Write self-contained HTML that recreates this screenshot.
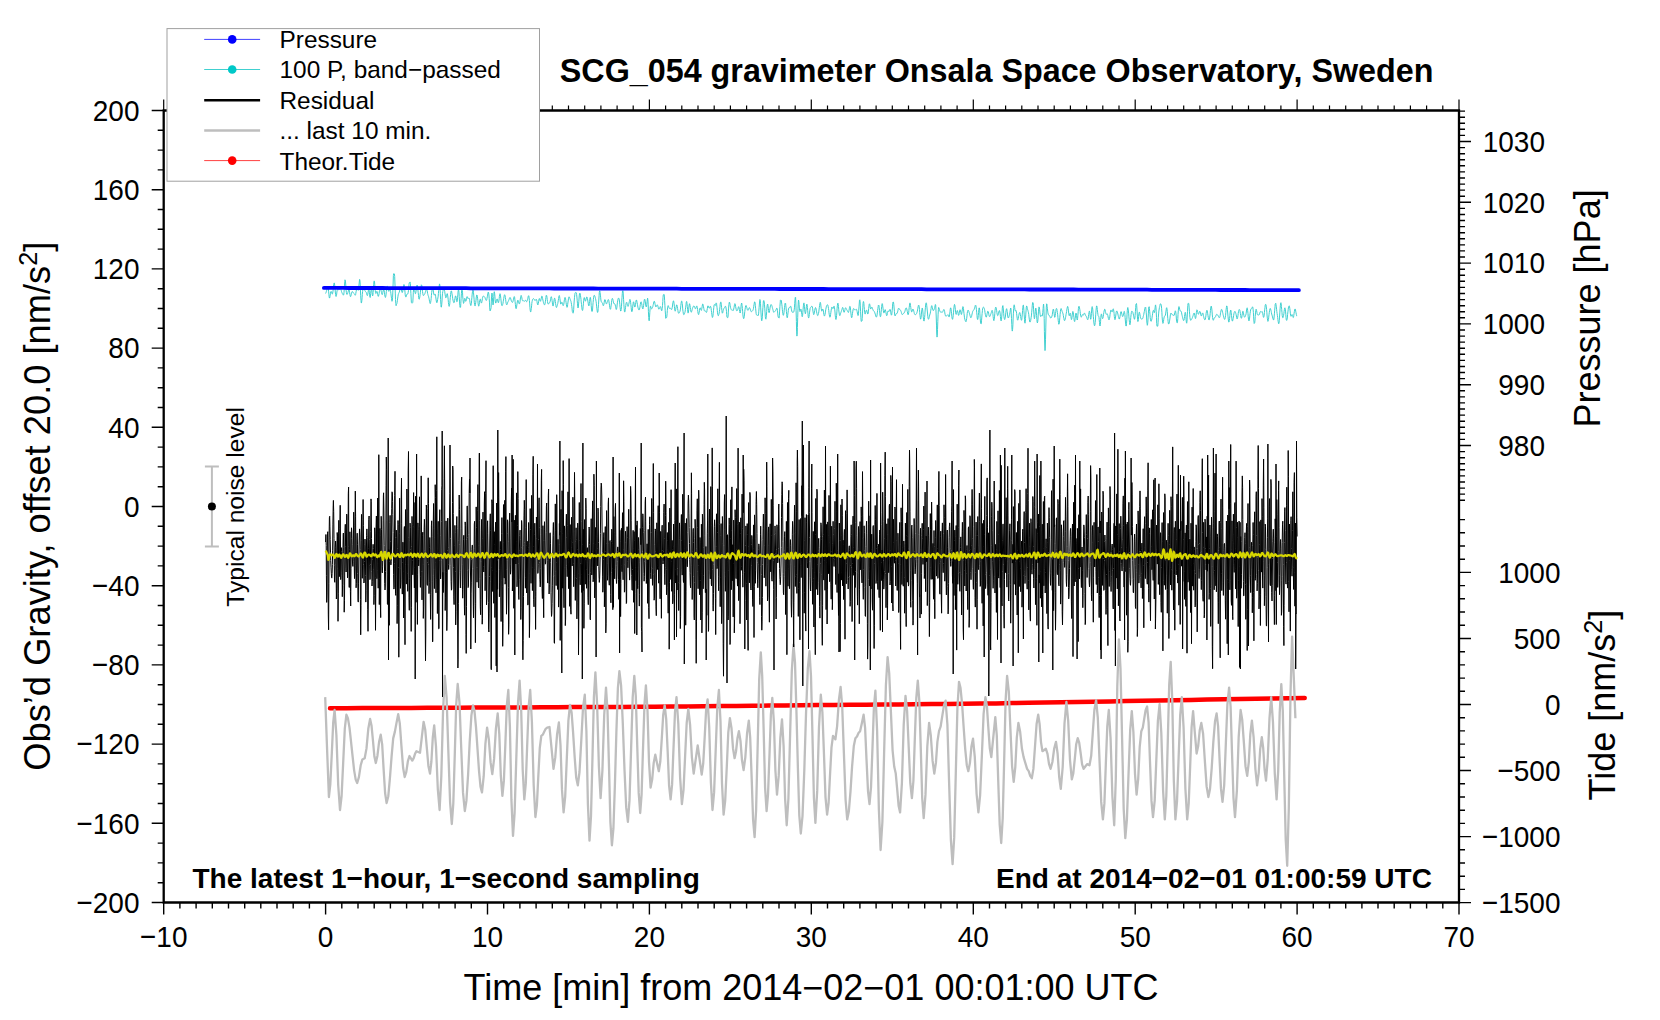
<!DOCTYPE html>
<html><head><meta charset="utf-8"><title>SCG_054 gravimeter</title>
<style>html,body{margin:0;padding:0;background:#fff;width:1660px;height:1020px;overflow:hidden}</style></head>
<body>
<svg width="1660" height="1020" viewBox="0 0 1660 1020" style="position:absolute;left:0;top:0">
<rect width="1660" height="1020" fill="#fff"/>
<polyline points="330.0,708.3 346.2,708.2 362.5,708.1 378.7,708.1 395.0,708.0 411.2,707.9 427.5,707.8 443.7,707.7 460.0,707.7 476.2,707.6 492.5,707.5 508.7,707.4 524.9,707.4 541.2,707.3 557.4,707.2 573.7,707.1 589.9,707.0 606.2,707.0 622.4,706.9 638.7,706.8 654.9,706.7 671.1,706.5 687.4,706.4 703.6,706.2 719.9,706.0 736.1,705.9 752.4,705.7 768.6,705.6 784.9,705.4 801.1,705.3 817.4,705.1 833.6,705.0 849.8,704.8 866.1,704.7 882.3,704.5 898.6,704.4 914.8,704.2 931.1,704.1 947.3,703.9 963.6,703.7 979.8,703.6 996.0,703.4 1012.3,703.1 1028.5,702.8 1044.8,702.5 1061.0,702.2 1077.3,701.9 1093.5,701.7 1109.8,701.4 1126.0,701.1 1142.2,700.8 1158.5,700.5 1174.7,700.2 1191.0,699.9 1207.2,699.6 1223.5,699.3 1239.7,699.1 1256.0,698.8 1272.2,698.5 1288.5,698.2 1304.7,697.9" fill="none" stroke="#ff0000" stroke-width="4.5" stroke-linecap="round" stroke-linejoin="round"/>
<polyline points="325.2,697.1 327.0,747.0 328.9,797.0 330.3,784.3 331.8,753.5 333.2,722.7 334.6,710.0 336.4,735.0 338.2,785.0 340.0,810.0 341.6,796.0 343.2,762.4 344.8,728.7 346.4,714.7 347.9,718.1 349.5,727.6 351.0,741.3 352.6,756.4 354.1,770.1 355.7,779.6 357.2,783.0 358.9,777.1 360.7,765.3 362.4,759.4 364.7,758.2 366.5,748.4 368.3,728.8 370.1,719.0 371.5,725.4 373.0,741.0 374.4,756.6 375.8,763.0 377.4,755.9 379.1,741.8 380.7,734.7 382.2,744.7 383.6,768.9 385.1,793.0 386.6,803.0 388.3,796.2 389.9,778.3 391.6,756.3 393.2,738.4 394.9,731.6 396.5,722.9 398.2,714.2 399.8,723.4 401.4,745.6 403.1,767.8 404.7,777.0 406.3,771.8 407.9,761.2 409.5,756.0 410.9,758.3 412.3,760.6 413.7,758.2 415.1,753.6 416.5,751.2 418.2,752.0 420.0,752.8 421.8,737.3 423.6,721.8 425.2,729.4 426.8,747.6 428.4,765.9 430.0,773.5 431.4,761.5 432.8,737.4 434.2,725.3 436.0,746.5 437.8,788.8 439.6,810.0 441.3,776.5 443.1,709.4 444.8,675.9 446.6,697.6 448.3,749.9 450.1,802.3 451.8,824.0 453.3,803.5 454.8,754.0 456.2,704.5 457.7,684.0 459.5,702.6 461.2,747.5 463.0,792.4 464.8,811.0 466.4,800.9 468.1,774.5 469.7,741.8 471.4,715.4 473.0,705.3 474.5,711.1 476.0,727.1 477.5,748.8 479.0,770.6 480.5,786.6 482.0,792.4 483.7,776.2 485.4,743.8 487.1,727.6 488.8,739.2 490.6,762.4 492.3,774.0 494.1,758.9 495.9,728.6 497.7,713.5 499.3,734.1 500.8,775.3 502.4,795.9 503.9,780.4 505.4,743.0 506.8,705.5 508.3,690.0 509.9,726.5 511.4,799.4 513.0,835.9 514.6,813.2 516.3,758.2 518.0,703.3 519.6,680.6 521.2,710.3 522.7,769.7 524.3,799.4 525.8,783.4 527.2,744.7 528.7,706.0 530.2,690.0 531.9,721.8 533.7,785.2 535.4,817.0 536.9,805.1 538.3,776.5 539.8,747.8 541.3,735.9 542.8,734.7 544.2,731.8 545.7,728.8 547.2,727.6 549.5,727.0 551.5,747.9 553.5,768.8 555.3,757.2 557.1,734.1 558.9,722.5 560.5,745.0 562.0,789.9 563.6,812.4 565.2,796.6 566.8,758.6 568.4,720.6 570.0,704.8 571.6,712.5 573.1,732.6 574.7,757.5 576.2,777.6 577.8,785.3 579.5,772.0 581.3,740.0 583.0,708.0 584.8,694.7 586.4,731.2 587.9,804.1 589.5,840.6 591.0,816.0 592.5,756.5 593.9,697.0 595.4,672.4 597.1,703.9 598.9,766.8 600.6,798.2 602.4,770.6 604.2,715.2 606.0,687.6 607.5,710.7 609.0,766.4 610.4,822.2 611.9,845.3 613.4,828.7 614.9,785.1 616.4,731.4 617.9,687.8 619.4,671.2 621.1,685.6 622.8,723.2 624.5,769.8 626.2,807.4 627.9,821.8 629.5,800.4 631.1,748.9 632.7,697.3 634.3,675.9 635.8,696.0 637.2,744.4 638.7,792.9 640.2,813.0 641.6,794.3 643.0,749.1 644.5,704.0 645.9,685.3 647.5,710.9 649.0,762.0 650.6,787.6 652.2,779.4 653.7,762.9 655.3,754.7 657.0,763.0 658.8,771.2 660.3,761.5 661.8,738.2 663.2,715.0 664.7,705.3 666.2,719.1 667.7,752.3 669.1,785.6 670.6,799.4 672.1,784.4 673.5,748.2 675.0,712.1 676.5,697.1 678.3,723.9 680.1,777.4 681.9,804.1 683.5,790.1 685.1,756.5 686.7,722.8 688.3,708.8 690.1,725.0 691.9,757.3 693.7,773.5 695.7,759.4 697.7,745.3 699.7,760.0 701.7,774.7 703.2,763.7 704.7,737.1 706.1,710.4 707.6,699.4 709.2,727.0 710.9,782.4 712.5,810.0 714.1,792.4 715.7,750.0 717.3,707.6 718.9,690.0 720.5,721.2 722.0,783.5 723.6,814.7 725.2,800.6 726.8,766.5 728.3,732.3 729.9,718.2 731.5,728.2 733.0,748.2 734.6,758.2 736.0,751.5 737.5,738.0 738.9,731.2 740.5,740.9 742.0,760.3 743.6,770.0 745.3,757.6 747.1,733.0 748.8,720.6 750.2,737.7 751.7,778.9 753.1,820.0 754.6,837.1 756.1,810.1 757.7,744.8 759.2,679.4 760.8,652.4 762.2,675.7 763.7,731.8 765.1,787.9 766.6,811.2 768.0,794.6 769.5,754.5 770.9,714.4 772.3,697.8 773.9,722.0 775.4,770.5 777.0,794.7 778.7,775.9 780.3,738.2 782.0,719.4 783.6,745.9 785.1,798.8 786.7,825.3 788.4,798.8 790.1,735.0 791.8,671.1 793.5,644.6 795.0,662.6 796.4,709.9 797.9,768.2 799.3,815.5 800.8,833.5 802.5,816.1 804.3,770.5 806.0,714.2 807.8,668.6 809.5,651.2 811.0,676.3 812.5,737.0 813.9,797.8 815.4,822.9 817.2,790.9 819.0,726.8 820.8,694.7 822.4,712.3 824.0,754.7 825.5,797.1 827.1,814.7 828.6,803.2 830.0,775.3 831.5,747.4 833.0,735.9 835.4,739.4 837.1,726.3 838.9,700.0 840.6,686.9 842.2,706.3 843.9,753.1 845.6,800.0 847.2,819.4 848.8,811.6 850.5,791.3 852.1,766.3 853.8,746.0 855.4,738.2 857.0,736.5 858.5,733.0 860.1,731.2 861.9,723.0 863.6,714.7 865.1,727.8 866.5,759.4 868.0,791.0 869.5,804.1 871.0,787.5 872.5,747.4 873.9,707.3 875.4,690.7 877.1,730.5 878.9,810.2 880.6,850.0 882.4,821.8 884.1,753.6 885.9,685.3 887.6,657.1 889.2,673.1 890.9,711.8 892.6,750.5 894.2,766.5 895.7,773.2 897.2,789.4 898.6,805.7 900.1,812.4 901.9,783.3 903.7,725.0 905.5,695.9 907.1,710.9 908.7,747.0 910.3,783.2 911.9,798.2 913.4,781.0 914.8,739.4 916.3,697.8 917.8,680.6 919.3,700.8 920.8,749.4 922.2,798.0 923.7,818.2 925.5,794.4 927.3,746.7 929.1,722.9 930.8,735.5 932.6,760.9 934.3,773.5 935.9,762.9 937.4,741.8 939.0,731.2 940.6,726.7 942.3,715.9 944.0,705.1 945.6,700.6 947.4,724.5 949.1,782.4 950.9,840.2 952.6,864.1 954.2,837.4 955.8,773.0 957.4,708.5 959.0,681.8 960.5,687.8 962.1,704.1 963.6,726.5 965.2,748.9 966.8,765.2 968.3,771.2 969.9,763.1 971.4,746.8 973.0,738.7 974.8,757.1 976.6,794.0 978.4,812.4 980.1,795.5 981.9,754.8 983.6,714.0 985.4,697.1 986.9,705.9 988.3,727.1 989.8,748.3 991.3,757.1 993.3,737.1 995.3,717.1 996.8,735.5 998.2,780.0 999.7,824.6 1001.2,843.0 1002.7,818.5 1004.2,759.5 1005.6,700.4 1007.1,675.9 1008.8,691.4 1010.4,728.8 1012.1,766.3 1013.7,781.8 1015.3,767.1 1016.8,737.6 1018.4,722.9 1020.1,731.4 1021.9,748.5 1023.6,757.1 1025.3,762.9 1027.1,768.8 1028.7,771.1 1030.2,775.9 1031.8,778.2 1033.4,768.9 1035.0,746.5 1036.6,724.0 1038.2,714.7 1039.6,723.8 1041.0,742.1 1042.4,751.2 1044.2,750.0 1045.9,748.8 1047.5,753.8 1049.0,763.8 1050.6,768.8 1052.4,762.0 1054.2,748.5 1056.0,741.8 1057.6,753.5 1059.2,777.0 1060.8,788.8 1062.7,767.0 1064.5,723.5 1066.4,701.8 1068.2,721.2 1070.0,760.0 1071.8,779.4 1073.3,773.4 1074.8,758.8 1076.2,744.2 1077.7,738.2 1079.2,742.7 1080.7,753.5 1082.1,764.3 1083.6,768.8 1085.3,766.5 1087.1,764.1 1089.5,765.3 1091.2,755.8 1092.8,732.7 1094.4,709.6 1096.1,700.1 1097.8,717.6 1099.5,759.8 1101.2,801.9 1102.9,819.4 1104.4,803.4 1105.8,764.7 1107.3,726.0 1108.8,710.0 1110.6,738.8 1112.4,796.5 1114.2,825.3 1115.8,778.8 1117.3,685.9 1118.9,639.4 1120.5,668.5 1122.1,738.8 1123.7,809.1 1125.3,838.2 1126.9,819.6 1128.5,774.7 1130.2,729.8 1131.8,711.2 1133.4,732.1 1135.0,773.8 1136.6,794.7 1138.2,778.8 1139.7,747.1 1141.3,731.2 1142.8,727.6 1144.2,718.9 1145.6,710.1 1147.1,706.5 1148.6,722.7 1150.0,761.8 1151.5,800.9 1153.0,817.1 1154.7,800.6 1156.3,760.6 1157.9,720.6 1159.6,704.1 1161.3,732.9 1163.1,790.6 1164.8,819.4 1166.3,796.3 1167.8,740.6 1169.2,684.9 1170.7,661.8 1172.3,701.2 1173.8,780.0 1175.4,819.4 1177.0,801.5 1178.6,758.2 1180.2,715.0 1181.8,697.1 1183.6,727.7 1185.4,788.8 1187.2,819.4 1188.7,803.6 1190.2,765.3 1191.6,727.0 1193.1,711.2 1194.8,732.4 1196.6,753.5 1198.2,745.9 1199.7,730.5 1201.3,722.9 1203.1,733.8 1204.8,760.0 1206.6,786.2 1208.4,797.1 1210.0,789.1 1211.7,768.2 1213.3,742.4 1215.0,721.5 1216.6,713.5 1218.1,726.4 1219.5,757.6 1221.0,788.9 1222.5,801.8 1224.2,785.1 1225.8,744.7 1227.4,704.3 1229.1,687.6 1230.6,706.6 1232.0,752.4 1233.5,798.1 1235.0,817.1 1236.9,790.3 1238.7,736.8 1240.6,710.0 1242.2,719.7 1243.9,742.9 1245.5,766.2 1247.2,775.9 1248.8,762.1 1250.3,734.4 1251.9,720.6 1253.6,736.8 1255.4,769.1 1257.1,785.3 1258.7,773.2 1260.2,749.1 1261.8,737.1 1263.2,748.0 1264.6,769.7 1266.0,780.6 1267.7,759.7 1269.5,718.0 1271.2,697.1 1273.0,722.7 1274.8,773.8 1276.6,799.4 1278.2,770.6 1279.7,712.9 1281.3,684.1 1282.8,710.7 1284.2,774.9 1285.7,839.2 1287.2,865.8 1288.8,808.5 1290.5,693.9 1292.1,636.6 1293.8,677.4 1295.4,718.3" fill="none" stroke="#bebebe" stroke-width="2.3" stroke-linejoin="round"/>
<polyline points="325.6,542.0 325.9,534.5 326.2,545.4 326.4,575.6 326.7,602.4 327.0,592.9 327.2,553.8 327.5,533.2 327.8,531.7 328.0,551.9 328.3,614.9 328.6,629.8 328.9,583.6 329.1,537.1 329.4,517.7 329.7,516.3 329.9,526.2 330.2,539.6 330.5,552.6 330.7,560.6 331.0,567.2 331.3,573.3 331.6,577.5 331.8,578.1 332.1,573.7 332.4,564.6 332.6,550.2 332.9,524.1 333.2,505.7 333.4,500.4 333.7,511.5 334.0,538.7 334.3,565.6 334.5,581.1 334.8,582.3 335.1,564.6 335.3,547.2 335.6,541.0 335.9,546.9 336.1,571.0 336.4,599.0 336.7,588.2 336.9,550.9 337.2,532.5 337.5,536.1 337.8,568.9 338.0,621.3 338.3,593.2 338.6,533.9 338.8,520.3 339.1,553.6 339.4,576.6 339.6,569.9 339.9,528.5 340.2,505.3 340.5,551.0 340.7,579.6 341.0,572.6 341.3,551.7 341.5,547.7 341.8,551.6 342.1,575.6 342.3,596.7 342.6,584.2 342.9,551.8 343.2,534.6 343.4,533.0 343.7,547.8 344.0,585.6 344.2,612.2 344.5,600.6 344.8,557.5 345.0,530.8 345.3,524.3 345.6,546.3 345.9,568.1 346.1,572.0 346.4,556.5 346.7,514.1 346.9,515.6 347.2,557.4 347.5,577.9 347.7,576.0 348.0,555.1 348.3,493.6 348.6,487.1 348.8,546.5 349.1,587.4 349.4,587.4 349.6,549.8 349.9,531.8 350.2,545.0 350.4,591.3 350.7,606.0 351.0,568.4 351.3,538.5 351.5,527.8 351.8,531.4 352.1,544.2 352.3,557.6 352.6,564.0 352.9,566.4 353.1,561.7 353.4,541.0 353.7,512.2 354.0,525.3 354.2,563.0 354.5,578.6 354.8,568.9 355.0,527.4 355.3,491.1 355.6,516.2 355.8,565.9 356.1,587.8 356.4,583.4 356.7,556.9 356.9,538.1 357.2,533.2 357.5,544.8 357.7,573.5 358.0,600.8 358.3,602.1 358.5,583.9 358.8,557.7 359.1,543.0 359.4,532.9 359.6,528.9 359.9,534.2 360.2,549.5 360.4,599.5 360.7,634.8 361.0,605.7 361.2,540.5 361.5,514.4 361.8,533.9 362.1,568.2 362.3,578.3 362.6,563.0 362.9,519.8 363.1,499.5 363.4,525.6 363.7,564.7 363.9,583.0 364.2,581.9 364.5,561.4 364.8,544.8 365.0,539.1 365.3,547.0 365.6,575.6 365.8,602.1 366.1,590.3 366.4,553.9 366.6,535.3 366.9,528.9 367.2,537.4 367.5,557.1 367.7,609.8 368.0,631.3 368.3,604.0 368.5,548.1 368.8,519.5 369.1,516.0 369.3,539.4 369.6,565.9 369.9,579.6 370.2,579.0 370.4,564.7 370.7,531.2 371.0,498.9 371.2,501.4 371.5,538.5 371.8,571.3 372.0,586.0 372.3,581.3 372.6,559.7 372.9,548.2 373.1,544.3 373.4,548.5 373.7,569.9 373.9,604.6 374.2,595.5 374.5,551.0 374.7,527.8 375.0,533.1 375.3,577.5 375.5,630.3 375.8,589.2 376.1,527.2 376.4,516.0 376.6,554.9 376.9,578.7 377.2,570.7 377.4,518.0 377.7,498.0 378.0,563.5 378.2,588.2 378.5,554.6 378.8,454.7 379.1,531.8 379.3,604.6 379.6,578.5 379.9,528.4 380.1,535.4 380.4,606.0 380.7,617.6 380.9,544.9 381.2,516.3 381.5,529.5 381.8,558.7 382.0,570.4 382.3,572.9 382.6,566.9 382.8,556.1 383.1,520.9 383.4,495.9 383.6,492.8 383.9,512.0 384.2,545.4 384.5,569.0 384.7,583.7 385.0,590.0 385.3,586.0 385.5,571.5 385.8,542.0 386.1,485.8 386.3,457.0 386.6,469.7 386.9,520.9 387.2,574.1 387.4,603.7 387.7,604.5 388.0,567.0 388.2,438.0 388.5,660.0 388.8,549.7 389.0,618.7 389.3,625.3 389.6,561.6 389.9,522.6 390.1,515.4 390.4,541.6 390.7,560.7 390.9,564.9 391.2,561.4 391.5,548.0 391.7,508.2 392.0,491.8 392.3,492.6 392.6,501.4 392.8,514.4 393.1,532.5 393.4,556.8 393.6,574.7 393.9,589.1 394.2,587.6 394.4,563.2 394.7,495.4 395.0,471.3 395.3,537.6 395.5,593.6 395.8,595.4 396.1,551.3 396.3,530.1 396.6,537.3 396.9,576.9 397.1,623.6 397.4,605.7 397.7,548.4 398.0,520.5 398.2,524.5 398.5,567.4 398.8,657.2 399.0,630.1 399.3,533.6 399.6,498.2 399.8,523.9 400.1,568.6 400.4,588.4 400.7,582.9 400.9,558.0 401.2,499.6 401.5,478.2 401.7,523.2 402.0,579.1 402.3,594.1 402.5,562.6 402.8,542.1 403.1,542.6 403.4,571.1 403.6,618.0 403.9,581.6 404.2,529.2 404.4,526.5 404.7,587.0 405.0,644.7 405.2,564.8 405.5,509.6 405.8,525.2 406.1,572.5 406.3,584.1 406.6,555.4 406.9,489.0 407.1,511.2 407.4,573.7 407.7,591.3 407.9,564.4 408.2,470.3 408.5,451.5 408.8,537.4 409.0,597.2 409.3,610.3 409.6,578.1 409.8,540.1 410.1,523.1 410.4,527.7 410.6,549.3 410.9,600.9 411.2,631.4 411.4,607.7 411.7,546.7 412.0,516.4 412.3,524.8 412.5,560.4 412.8,574.8 413.1,567.0 413.3,526.7 413.6,492.6 413.9,527.6 414.1,575.0 414.4,587.9 414.7,567.6 415.0,502.5 415.2,679.0 415.5,496.3 415.8,568.0 416.0,602.3 416.3,589.1 416.6,454.0 416.8,524.2 417.1,557.1 417.4,624.4 417.7,574.4 417.9,522.9 418.2,529.2 418.5,559.5 418.7,565.9 419.0,559.9 419.3,522.2 419.5,496.8 419.8,526.4 420.1,569.7 420.4,587.4 420.6,576.7 420.9,532.7 421.2,475.9 421.4,499.0 421.7,571.3 422.0,599.9 422.2,571.8 422.5,535.2 422.8,532.2 423.1,564.4 423.3,618.4 423.6,606.9 423.9,554.8 424.1,529.2 424.4,519.3 424.7,527.9 424.9,550.6 425.2,619.0 425.5,660.8 425.8,631.9 426.0,548.0 426.3,505.0 426.6,507.9 426.8,556.1 427.1,583.9 427.4,585.4 427.6,562.5 427.9,508.5 428.2,477.8 428.5,503.4 428.7,564.4 429.0,593.6 429.3,582.3 429.5,547.8 429.8,537.5 430.1,548.1 430.3,594.4 430.6,619.4 430.9,592.6 431.2,548.0 431.4,525.8 431.7,520.8 432.0,536.5 432.2,581.1 432.5,641.9 432.8,641.3 433.0,575.8 433.3,521.7 433.6,503.5 433.9,528.6 434.1,569.5 434.4,588.6 434.7,577.9 434.9,537.2 435.2,484.7 435.5,497.4 435.7,562.1 436.0,592.8 436.3,579.2 436.6,490.6 436.8,436.8 437.1,548.9 437.4,613.5 437.6,590.7 437.9,533.2 438.2,521.3 438.4,552.9 438.7,628.8 439.0,628.6 439.3,560.2 439.5,519.0 439.8,509.7 440.1,535.6 440.3,566.0 440.6,579.0 440.9,575.9 441.1,560.6 441.4,521.3 441.7,489.5 442.0,485.7 442.2,431.0 442.5,697.0 442.8,572.4 443.0,588.8 443.3,592.5 443.6,580.1 443.8,554.5 444.1,478.3 444.4,445.8 444.7,489.1 444.9,571.9 445.2,610.5 445.5,597.1 445.7,547.0 446.0,520.9 446.3,529.0 446.5,572.1 446.8,630.6 447.1,617.1 447.4,550.6 447.6,518.4 447.9,518.0 448.2,547.6 448.4,564.5 448.7,569.5 449.0,565.5 449.2,556.2 449.5,518.9 449.8,493.8 450.0,445.0 450.3,508.0 450.6,538.7 450.9,565.2 451.1,581.4 451.4,590.2 451.7,589.0 451.9,577.0 452.2,556.6 452.5,502.4 452.7,466.0 453.0,469.4 453.3,513.4 453.6,567.5 453.8,596.9 454.1,604.6 454.4,582.0 454.6,545.1 454.9,525.4 455.2,532.5 455.4,571.5 455.7,624.9 456.0,611.3 456.3,553.1 456.5,524.8 456.8,516.5 457.1,528.6 457.3,552.8 457.6,624.0 457.9,668.0 458.1,659.9 458.4,603.8 458.7,540.1 459.0,506.9 459.2,495.0 459.5,509.5 459.8,544.3 460.0,572.2 460.3,588.0 460.6,587.7 460.8,570.2 461.1,528.8 461.4,481.8 461.7,477.1 461.9,515.0 462.2,564.1 462.5,589.3 462.7,598.2 463.0,585.7 463.3,554.9 463.5,539.4 463.8,535.3 464.1,549.9 464.4,606.4 464.6,615.2 464.9,553.3 465.2,521.9 465.4,525.8 465.7,557.1 466.0,634.7 466.2,653.4 466.5,606.4 466.8,539.4 467.1,506.5 467.3,505.9 467.6,537.3 467.9,570.5 468.1,587.6 468.4,586.4 468.7,569.2 468.9,534.4 469.2,493.4 469.5,479.1 469.8,493.0 470.0,458.0 470.3,561.0 470.6,580.0 470.8,649.0 471.1,593.9 471.4,582.1 471.6,559.3 471.9,549.4 472.2,545.0 472.5,545.2 472.7,550.0 473.0,568.6 473.3,606.5 473.5,617.8 473.8,593.0 474.1,548.4 474.3,524.1 474.6,521.3 474.9,543.9 475.2,605.5 475.4,642.7 475.7,603.5 476.0,534.9 476.2,506.9 476.5,527.5 476.8,567.4 477.0,582.2 477.3,567.2 477.6,510.8 477.9,484.6 478.1,541.8 478.4,587.0 478.7,587.9 478.9,545.7 479.2,453.6 479.5,453.0 479.7,520.6 480.0,578.3 480.3,606.6 480.6,614.7 480.8,599.7 481.1,561.4 481.4,530.1 481.6,519.4 481.9,546.2 482.2,624.2 482.4,618.8 482.7,538.8 483.0,512.1 483.3,539.0 483.5,566.4 483.8,572.0 484.1,559.7 484.3,504.1 484.6,491.7 484.9,556.0 485.1,590.7 485.4,576.7 485.7,493.6 486.0,460.7 486.2,555.4 486.5,604.8 486.8,597.9 487.0,552.9 487.3,526.9 487.6,520.8 487.8,533.7 488.1,556.9 488.4,602.7 488.6,629.2 488.9,632.0 489.2,613.1 489.5,576.7 489.7,542.0 490.0,520.5 490.3,513.8 490.5,530.2 490.8,581.1 491.1,668.4 491.3,669.7 491.6,567.9 491.9,499.7 492.2,503.3 492.4,570.6 492.7,591.5 493.0,538.9 493.2,465.7 493.5,555.7 493.8,603.3 494.0,564.9 494.3,531.7 494.6,544.3 494.9,617.5 495.1,602.0 495.4,528.1 495.7,522.1 495.9,598.2 496.2,665.9 496.5,571.3 496.7,503.0 497.0,672.0 497.3,560.9 497.6,589.3 497.8,430.0 498.1,558.8 498.4,497.4 498.6,472.6 498.9,508.0 499.2,569.4 499.4,596.8 499.7,582.9 500.0,549.5 500.3,541.4 500.5,549.2 500.8,597.1 501.1,621.5 501.3,580.1 501.6,533.8 501.9,517.6 502.1,533.2 502.4,586.1 502.7,646.3 503.0,623.5 503.2,542.4 503.5,504.6 503.8,529.1 504.0,577.1 504.3,578.1 504.6,506.9 504.8,500.3 505.1,584.2 505.4,581.2 505.7,471.3 505.9,456.6 506.2,569.6 506.5,614.2 506.7,603.2 507.0,560.7 507.3,533.4 507.5,519.8 507.8,522.4 508.1,541.2 508.4,587.4 508.6,634.3 508.9,624.4 509.2,558.8 509.4,520.8 509.7,513.1 510.0,538.9 510.2,564.8 510.5,574.2 510.8,569.5 511.1,552.8 511.3,501.6 511.6,488.0 511.9,522.0 512.1,455.0 512.4,591.0 512.7,577.4 512.9,502.7 513.2,459.3 513.5,564.0 513.8,608.3 514.0,552.0 514.3,520.1 514.6,559.7 514.8,655.0 515.1,553.9 515.4,515.3 515.6,555.2 515.9,564.0 516.2,554.8 516.5,492.9 516.7,541.8 517.0,586.8 517.3,580.1 517.5,525.8 517.8,471.6 518.1,498.6 518.3,563.8 518.6,595.1 518.9,599.5 519.2,579.2 519.4,550.9 519.7,535.7 520.0,530.1 520.2,539.2 520.5,570.0 520.8,619.5 521.0,607.6 521.3,547.7 521.6,520.5 521.9,524.6 522.1,548.9 522.4,608.0 522.7,650.1 522.9,659.8 523.2,640.5 523.5,596.8 523.7,545.9 524.0,515.9 524.3,500.3 524.6,509.3 524.8,542.4 525.1,573.1 525.4,588.2 525.6,577.3 525.9,527.4 526.2,479.6 526.4,545.2 526.7,593.0 527.0,564.7 527.2,541.2 527.5,549.2 527.8,605.1 528.1,604.3 528.3,547.2 528.6,522.5 528.9,531.1 529.1,573.7 529.4,637.6 529.7,620.9 529.9,543.6 530.2,508.6 530.5,529.5 530.8,572.0 531.0,583.3 531.3,558.6 531.6,495.4 531.8,503.6 532.1,567.4 532.4,590.6 532.6,567.1 532.9,474.8 533.2,456.3 533.5,546.1 533.7,599.4 534.0,606.8 534.3,569.9 534.5,534.8 534.8,523.2 535.1,541.0 535.3,596.4 535.6,629.4 535.9,591.5 536.2,538.6 536.4,517.1 536.7,519.7 537.0,538.3 537.2,558.0 537.5,464.0 537.8,573.4 538.0,572.8 538.3,564.3 538.6,539.6 538.9,502.1 539.1,497.8 539.4,527.2 539.7,562.4 539.9,579.8 540.2,586.9 540.5,583.0 540.7,568.8 541.0,534.9 541.3,480.3 541.6,469.4 541.8,528.5 542.1,588.6 542.4,598.5 542.6,552.7 542.9,525.7 543.2,540.3 543.4,598.4 543.7,617.7 544.0,566.2 544.3,529.4 544.5,521.7 544.8,540.5 545.1,559.1 545.3,564.2 545.6,563.4 545.9,557.8 546.1,532.8 546.4,506.6 546.7,503.0 547.0,524.9 547.2,560.3 547.5,580.8 547.8,583.1 548.0,560.3 548.3,495.6 548.6,489.0 548.8,558.8 549.1,594.0 549.4,584.5 549.7,550.0 549.9,533.6 550.2,532.8 550.5,543.8 550.7,562.8 551.0,592.7 551.3,610.2 551.5,616.4 551.8,613.8 552.1,603.6 552.4,585.9 552.6,560.0 552.9,541.0 553.2,526.5 553.4,522.5 553.7,535.8 554.0,576.5 554.2,642.3 554.5,643.3 554.8,575.5 555.1,521.4 555.3,503.9 555.6,530.9 555.9,571.5 556.1,585.6 556.4,562.6 556.7,494.7 556.9,503.7 557.2,574.1 557.5,589.4 557.8,552.2 558.0,539.4 558.3,551.6 558.6,607.1 558.8,598.0 559.1,544.3 559.4,523.4 559.6,535.2 559.9,441.0 560.2,640.4 560.5,607.0 560.7,531.3 561.0,509.4 561.3,554.7 561.5,585.0 561.8,673.0 562.1,490.7 562.3,533.3 562.6,588.2 562.9,569.4 563.2,460.6 563.4,484.5 563.7,588.0 564.0,607.7 564.2,556.3 564.5,525.9 564.8,529.9 565.0,567.4 565.3,625.6 565.6,619.1 565.8,558.9 566.1,523.1 566.4,514.2 566.7,537.3 566.9,565.5 567.2,576.7 567.5,568.0 567.7,525.7 568.0,491.8 568.3,549.3 568.5,588.6 568.8,562.3 569.1,458.6 569.4,539.0 569.6,606.3 569.9,567.1 570.2,524.6 570.4,538.9 570.7,609.7 571.0,614.2 571.2,541.2 571.5,517.3 571.8,547.4 572.1,566.0 572.3,565.2 572.6,542.2 572.9,497.2 573.1,513.0 573.4,563.4 573.7,586.7 573.9,578.4 574.2,531.1 574.5,472.4 574.8,505.0 575.0,575.4 575.3,600.4 575.6,577.8 575.8,541.7 576.1,527.8 576.4,539.2 576.6,578.6 576.9,618.9 577.2,602.9 577.5,549.2 577.7,523.1 578.0,527.7 578.3,573.9 578.5,655.0 578.8,616.8 579.1,527.6 579.3,502.5 579.6,540.2 579.9,577.6 580.2,584.8 580.4,563.5 580.7,508.9 581.0,483.5 581.2,521.3 581.5,574.8 581.8,592.5 582.0,564.4 582.3,679.0 582.6,544.8 582.9,443.0 583.1,590.6 583.4,529.3 583.7,538.2 583.9,628.3 584.2,603.8 584.5,520.1 584.7,519.5 585.0,567.8 585.3,584.2 585.6,559.8 585.8,498.1 586.1,508.3 586.4,569.5 586.6,588.3 586.9,562.3 587.2,548.2 587.4,547.7 587.7,554.8 588.0,597.8 588.3,604.7 588.5,574.2 588.8,541.9 589.1,527.0 589.3,528.7 589.6,544.4 589.9,580.2 590.1,618.7 590.4,619.9 590.7,572.7 591.0,528.1 591.2,518.7 591.5,553.8 591.8,575.0 592.0,567.6 592.3,521.2 592.6,500.9 592.8,551.5 593.1,581.8 593.4,579.4 593.7,543.9 593.9,474.2 594.2,485.4 594.5,561.0 594.7,597.9 595.0,587.9 595.3,544.7 595.5,527.5 595.8,550.6 596.1,657.0 596.4,461.0 596.6,526.7 596.9,536.8 597.2,563.9 597.4,565.9 597.7,548.5 598.0,508.1 598.2,511.2 598.5,542.4 598.8,566.5 599.1,578.4 599.3,582.4 599.6,579.4 599.9,570.9 600.1,559.1 600.4,533.4 600.7,506.7 600.9,489.9 601.2,483.1 601.5,485.1 601.8,496.0 602.0,518.0 602.3,552.5 602.6,576.1 602.8,592.2 603.1,588.1 603.4,559.4 603.6,536.1 603.9,532.6 604.2,554.8 604.4,606.8 604.7,590.4 605.0,539.6 605.3,526.6 605.5,551.4 605.8,632.9 606.1,623.8 606.3,543.3 606.6,510.6 606.9,526.4 607.1,563.7 607.4,580.3 607.7,575.2 608.0,552.7 608.2,504.4 608.5,497.9 608.8,543.8 609.0,580.2 609.3,585.2 609.6,557.4 609.8,541.2 610.1,540.5 610.4,553.8 610.7,594.4 610.9,602.8 611.2,572.3 611.5,541.8 611.7,529.2 612.0,531.3 612.3,543.6 612.5,568.2 612.8,609.7 613.1,457.0 613.4,607.3 613.6,546.9 613.9,516.6 614.2,532.2 614.4,569.8 614.7,578.8 615.0,557.4 615.2,509.3 615.5,503.4 615.8,535.1 616.1,565.3 616.3,579.5 616.6,583.5 616.9,576.9 617.1,561.6 617.4,551.2 617.7,546.9 617.9,547.2 618.2,552.7 618.5,579.7 618.8,599.3 619.0,589.0 619.3,473.0 619.6,653.0 619.8,530.3 620.1,541.5 620.4,579.3 620.6,616.6 620.9,583.4 621.2,530.3 621.5,528.3 621.7,565.7 622.0,571.7 622.3,529.0 622.5,512.7 622.8,567.0 623.1,579.8 623.3,549.2 623.6,480.8 623.9,501.6 624.2,564.7 624.4,592.2 624.7,591.1 625.0,565.8 625.2,542.5 625.5,531.3 625.8,536.1 626.0,557.2 626.3,603.5 626.6,602.3 626.9,550.9 627.1,526.7 627.4,537.5 627.7,561.5 627.9,567.8 628.2,559.4 628.5,523.9 628.7,509.3 629.0,538.3 629.3,569.0 629.6,580.1 629.8,573.1 630.1,554.9 630.4,508.1 630.6,486.4 630.9,493.2 631.2,520.2 631.4,555.9 631.7,575.7 632.0,590.0 632.3,590.3 632.5,569.6 632.8,542.0 633.1,530.3 633.3,548.1 633.6,602.3 633.9,585.4 634.1,531.6 634.4,540.5 634.7,633.5 635.0,593.3 635.2,516.3 635.5,467.0 635.8,567.3 636.0,580.6 636.3,567.2 636.6,525.4 636.8,635.0 637.1,520.9 637.4,571.2 637.7,588.7 637.9,567.5 638.2,542.8 638.5,537.5 638.7,549.7 639.0,585.5 639.3,606.1 639.5,594.3 639.8,562.1 640.1,540.1 640.3,528.6 640.6,530.0 640.9,544.7 641.2,443.0 641.4,627.2 641.7,631.7 642.0,652.0 642.2,551.7 642.5,527.3 642.8,513.8 643.0,515.6 643.3,532.8 643.6,557.9 643.9,573.7 644.1,581.2 644.4,576.5 644.7,561.8 644.9,530.5 645.2,501.7 645.5,497.1 645.7,521.9 646.0,562.2 646.3,583.5 646.6,579.7 646.8,552.0 647.1,543.8 647.4,553.4 647.6,603.3 647.9,569.0 648.2,529.4 648.4,541.9 648.7,607.6 649.0,618.7 649.3,557.7 649.5,524.5 649.8,516.8 650.1,532.2 650.3,557.8 650.6,573.5 650.9,578.8 651.1,567.7 651.4,532.3 651.7,498.5 652.0,521.0 652.2,568.4 652.5,585.3 652.8,568.7 653.0,501.3 653.3,463.5 653.6,512.5 653.8,574.6 654.1,600.2 654.4,598.2 654.7,573.1 654.9,544.7 655.2,528.9 655.5,530.3 655.7,551.8 656.0,606.8 656.3,615.7 656.5,557.5 656.8,522.8 657.1,531.9 657.4,565.2 657.6,569.5 657.9,529.3 658.2,505.7 658.4,567.2 658.7,583.2 659.0,544.9 659.2,473.0 659.5,512.2 659.8,580.6 660.1,598.8 660.3,565.2 660.6,531.4 660.9,531.9 661.1,576.1 661.4,618.3 661.7,571.0 661.9,528.2 662.2,525.2 662.5,550.7 662.8,561.2 663.0,564.0 663.3,561.3 663.6,551.8 663.8,512.4 664.1,504.1 664.4,538.8 664.6,574.1 664.9,584.7 665.2,567.7 665.5,515.7 665.7,481.2 666.0,512.3 666.3,569.4 666.5,594.7 666.8,584.1 667.1,549.5 667.3,532.5 667.6,540.7 667.9,587.8 668.2,613.2 668.4,551.1 668.7,522.4 669.0,551.3 669.2,649.2 669.5,582.4 669.8,508.1 670.0,530.6 670.3,579.4 670.6,577.2 670.9,517.2 671.1,489.7 671.4,561.7 671.7,591.3 671.9,559.0 672.2,540.4 672.5,549.5 672.7,603.8 673.0,600.0 673.3,546.1 673.6,524.0 673.8,533.6 674.1,581.5 674.4,639.9 674.6,594.5 674.9,520.5 675.2,463.0 675.4,569.7 675.7,583.0 676.0,546.1 676.3,488.9 676.5,637.0 676.8,575.4 677.1,590.0 677.3,568.4 677.6,491.0 677.9,446.7 678.1,503.0 678.4,582.4 678.7,610.5 678.9,583.9 679.2,539.6 679.5,522.9 679.8,537.1 680.0,583.4 680.3,628.6 680.6,616.3 680.8,559.3 681.1,524.4 681.4,514.5 681.6,540.4 681.9,569.1 682.2,575.1 682.5,555.1 682.7,494.3 683.0,522.9 683.3,579.8 683.5,582.5 683.8,511.0 684.1,433.0 684.3,664.0 684.6,604.9 684.9,548.2 685.2,523.1 685.4,554.8 685.7,625.2 686.0,591.8 686.2,531.8 686.5,518.6 686.8,547.1 687.0,564.2 687.3,566.8 687.6,559.8 687.9,532.5 688.1,503.1 688.4,495.1 688.7,501.0 688.9,513.1 689.2,527.4 689.5,543.6 689.7,559.6 690.0,572.5 690.3,584.6 690.6,587.8 690.8,573.4 691.1,527.9 691.4,472.8 691.6,493.4 691.9,565.9 692.2,599.5 692.4,590.0 692.7,551.8 693.0,531.3 693.3,528.4 693.5,542.6 693.8,576.4 694.1,616.0 694.3,620.0 694.6,582.4 694.9,538.7 695.1,519.3 695.4,527.1 695.7,557.6 696.0,639.4 696.2,663.3 696.5,621.9 696.8,548.9 697.0,510.8 697.3,498.8 697.6,527.4 697.8,571.3 698.1,588.7 698.4,565.3 698.7,490.2 698.9,497.1 699.2,575.3 699.5,594.7 699.7,555.8 700.0,537.5 700.3,542.1 700.5,580.3 700.8,620.0 701.1,573.4 701.4,524.2 701.6,535.1 701.9,632.9 702.2,612.2 702.4,514.2 702.7,518.0 703.0,571.0 703.2,588.8 703.5,575.3 703.8,547.4 704.1,504.6 704.3,482.3 704.6,490.0 704.9,535.9 705.1,580.1 705.4,592.7 705.7,558.7 705.9,546.5 706.2,660.0 706.5,589.1 706.8,615.3 707.0,574.0 707.3,533.2 707.6,520.1 707.8,454.0 708.1,576.0 708.4,631.4 708.6,629.8 708.9,570.8 709.2,523.7 709.5,509.1 709.7,537.1 710.0,571.7 710.3,578.9 710.5,551.5 710.8,486.6 711.1,525.4 711.3,583.8 711.6,585.9 711.9,528.0 712.2,447.9 712.4,486.3 712.7,569.6 713.0,605.6 713.2,611.1 713.5,593.5 713.8,564.7 714.0,542.0 714.3,526.7 714.6,519.8 714.9,526.3 715.1,546.9 715.4,598.3 715.7,634.6 715.9,603.1 716.2,536.0 716.5,513.8 716.7,546.5 717.0,568.7 717.3,566.8 717.5,532.4 717.8,488.8 718.1,523.8 718.4,576.6 718.6,590.7 718.9,565.1 719.2,487.0 719.4,462.3 719.7,524.4 720.0,586.5 720.2,606.7 720.5,577.9 720.8,535.3 721.1,523.6 721.3,552.2 721.6,623.6 721.9,609.9 722.1,543.5 722.4,516.5 722.7,523.9 722.9,554.2 723.2,643.7 723.5,676.2 723.8,631.1 724.0,545.7 724.3,503.0 724.6,494.6 724.8,529.3 725.1,572.4 725.4,591.3 725.6,576.9 725.9,517.1 726.2,416.0 726.5,534.8 726.7,596.0 727.0,683.0 727.3,540.1 727.5,534.7 727.8,561.2 728.1,620.0 728.3,616.8 728.6,570.1 728.9,534.3 729.2,517.9 729.4,524.7 729.7,554.5 730.0,644.5 730.2,642.9 730.5,538.8 730.8,499.7 731.0,558.9 731.3,589.7 731.6,530.4 731.9,486.9 732.1,580.9 732.4,580.3 732.7,544.7 732.9,551.2 733.2,616.9 733.5,563.3 733.7,520.1 734.0,546.8 734.3,632.9 734.6,618.4 734.8,542.0 735.1,509.7 735.4,517.7 735.6,555.9 735.9,578.1 736.2,578.7 736.4,549.8 736.7,488.6 737.0,519.3 737.3,580.7 737.5,586.1 737.8,524.5 738.1,448.1 738.3,523.8 738.6,600.6 738.9,598.9 739.1,543.1 739.4,522.2 739.7,549.7 740.0,623.7 740.2,603.0 740.5,533.3 740.8,517.8 741.0,553.3 741.3,570.3 741.6,566.5 741.8,530.9 742.1,494.1 742.4,528.5 742.7,574.7 742.9,587.2 743.2,455.0 743.5,512.6 743.7,469.2 744.0,480.7 744.3,529.0 744.5,572.1 744.8,649.0 745.1,600.5 745.4,580.0 745.6,545.4 745.9,525.9 746.2,534.9 746.4,583.3 746.7,620.0 747.0,565.1 747.2,523.6 747.5,534.4 747.8,620.9 748.1,650.4 748.3,546.6 748.6,502.6 748.9,532.0 749.1,575.9 749.4,582.9 749.7,556.2 749.9,492.4 750.2,495.9 750.5,557.1 750.8,588.3 751.0,590.0 751.3,565.2 751.6,544.3 751.8,535.4 752.1,538.8 752.4,553.5 752.6,599.8 752.9,606.5 753.2,551.8 753.5,524.9 753.7,548.4 754.0,637.5 754.3,586.4 754.5,514.9 754.8,524.9 755.1,568.9 755.3,583.3 755.6,570.2 755.9,538.1 756.1,501.6 756.4,491.5 756.7,504.7 757.0,533.6 757.2,562.4 757.5,579.1 757.8,587.8 758.0,583.4 758.3,564.9 758.6,549.8 758.8,543.9 759.1,545.6 759.4,554.6 759.7,597.3 759.9,604.6 760.2,566.3 760.5,534.6 760.7,526.2 761.0,540.2 761.3,574.6 761.5,616.5 761.8,630.2 762.1,621.1 762.4,597.4 762.6,564.6 762.9,539.7 763.2,521.3 763.4,514.1 763.7,528.2 764.0,559.3 764.2,577.8 764.5,575.2 764.8,545.8 765.1,497.8 765.3,513.4 765.6,565.0 765.9,586.2 766.1,576.0 766.4,526.1 766.7,462.1 766.9,486.3 767.2,564.9 767.5,600.9 767.8,596.5 768.0,557.2 768.3,532.2 768.6,526.9 768.8,545.8 769.1,597.9 769.4,622.2 769.6,576.0 769.9,527.9 770.2,523.8 770.5,559.7 770.7,571.8 771.0,555.4 771.3,499.4 771.5,535.7 771.8,579.3 772.1,581.2 772.3,555.4 772.6,458.0 772.9,471.9 773.2,505.9 773.4,560.8 773.7,589.5 774.0,670.0 774.2,585.9 774.5,554.6 774.8,534.4 775.0,525.9 775.3,533.8 775.6,553.9 775.9,598.8 776.1,619.0 776.4,597.5 776.7,549.3 776.9,524.8 777.2,526.8 777.5,555.6 777.7,562.9 778.0,561.8 778.3,548.5 778.6,509.2 778.8,504.0 779.1,524.4 779.4,553.0 779.6,568.6 779.9,579.4 780.2,584.7 780.4,583.6 780.7,576.5 781.0,565.0 781.3,547.3 781.5,517.4 781.8,494.3 782.1,481.8 782.3,483.6 782.6,503.6 782.9,541.8 783.1,573.6 783.4,592.9 783.7,594.7 784.0,576.5 784.2,550.7 784.5,536.3 784.8,531.6 785.0,540.8 785.3,570.1 785.6,614.5 785.8,601.3 786.1,542.0 786.4,521.4 786.7,555.3 786.9,654.7 787.2,564.2 787.5,502.5 787.7,547.4 788.0,586.2 788.3,568.1 788.5,498.6 788.8,490.3 789.1,556.5 789.4,588.7 789.6,588.7 789.9,559.9 790.2,544.1 790.4,539.6 790.7,545.6 791.0,564.1 791.2,604.0 791.5,617.2 791.8,599.3 792.1,559.9 792.3,534.6 792.6,521.4 792.9,526.5 793.1,549.8 793.4,615.6 793.7,647.0 793.9,602.8 794.2,533.4 794.5,505.2 794.7,524.1 795.0,566.3 795.3,586.5 795.6,576.5 795.8,532.1 796.1,482.8 796.4,511.8 796.6,574.7 796.9,593.4 797.2,461.0 797.4,450.0 797.7,466.7 798.0,577.3 798.3,616.4 798.5,588.3 798.8,540.0 799.1,519.6 799.3,531.0 799.6,582.4 799.9,639.8 800.1,590.9 800.4,519.6 800.7,518.5 801.0,565.6 801.2,577.6 801.5,552.8 801.8,485.7 802.0,515.7 802.3,421.0 802.6,593.1 802.8,686.0 803.1,487.4 803.4,445.0 803.7,497.9 803.9,579.1 804.2,613.2 804.5,592.3 804.7,540.2 805.0,517.7 805.3,540.0 805.5,614.2 805.8,631.1 806.1,552.9 806.4,514.5 806.6,522.5 806.9,557.1 807.2,566.7 807.4,567.9 807.7,562.2 808.0,550.3 808.2,515.0 808.5,649.0 808.8,487.8 809.1,441.0 809.3,512.5 809.6,537.5 809.9,561.6 810.1,577.6 810.4,589.2 810.7,591.0 810.9,579.1 811.2,554.6 811.5,488.8 811.8,464.0 812.0,512.3 812.3,581.5 812.6,604.3 812.8,568.5 813.1,531.3 813.4,531.6 813.6,578.8 813.9,627.0 814.2,572.3 814.5,521.8 814.7,529.3 815.0,621.5 815.3,654.7 815.5,534.6 815.8,498.5 816.1,558.7 816.3,589.3 816.6,565.0 816.9,489.2 817.2,491.9 817.4,564.8 817.7,594.9 818.0,582.5 818.2,550.8 818.5,538.7 818.8,538.3 819.0,547.5 819.3,572.1 819.6,606.6 819.9,618.1 820.1,601.8 820.4,563.8 820.7,536.8 820.9,522.8 821.2,524.3 821.5,539.9 821.7,574.9 822.0,628.1 822.3,645.3 822.6,605.2 822.8,536.6 823.1,506.8 823.4,534.6 823.6,578.9 823.9,580.1 824.2,524.8 824.4,490.1 824.7,560.6 825.0,590.3 825.3,555.7 825.5,446.0 825.8,546.1 826.1,609.6 826.3,562.2 826.6,524.4 826.9,546.9 827.1,624.0 827.4,589.2 827.7,521.9 828.0,527.9 828.2,568.7 828.5,573.7 828.8,535.8 829.0,495.4 829.3,542.1 829.6,581.7 829.8,581.0 830.1,537.5 830.4,466.1 830.6,505.1 830.9,584.3 831.2,599.2 831.5,551.3 831.7,526.2 832.0,545.6 832.3,609.7 832.5,604.9 832.8,543.6 833.1,521.3 833.3,534.6 833.6,558.5 833.9,566.4 834.2,566.4 834.4,559.2 834.7,528.3 835.0,501.3 835.2,521.5 835.5,568.2 835.8,584.5 836.0,559.7 836.3,483.2 836.6,511.1 836.9,583.3 837.1,592.5 837.4,550.8 837.7,454.0 837.9,541.1 838.2,589.7 838.5,615.4 838.7,573.8 839.0,652.0 839.3,523.0 839.6,540.5 839.8,598.6 840.1,651.6 840.4,623.5 840.6,540.7 840.9,504.8 841.2,535.6 841.4,580.1 841.7,572.3 842.0,499.0 842.3,515.4 842.5,585.8 842.8,575.2 843.1,540.2 843.3,544.5 843.6,599.5 843.9,594.3 844.1,534.7 844.4,529.4 844.7,590.9 845.0,639.2 845.2,555.7 845.5,510.7 845.8,529.5 846.0,572.3 846.3,583.8 846.6,563.6 846.8,513.8 847.1,489.9 847.4,512.0 847.7,557.4 847.9,580.4 848.2,589.0 848.5,577.4 848.7,554.0 849.0,547.3 849.3,545.8 849.5,550.8 849.8,576.4 850.1,606.3 850.4,601.4 850.6,565.7 850.9,536.8 851.2,524.8 851.4,534.4 851.7,567.3 852.0,621.6 852.2,621.2 852.5,563.8 852.8,523.6 853.1,516.1 853.3,547.6 853.6,573.8 853.9,575.4 854.1,461.0 854.4,495.7 854.7,660.0 854.9,571.6 855.2,587.5 855.5,571.5 855.8,522.3 856.0,468.9 856.3,461.2 856.6,488.3 856.8,535.1 857.1,572.8 857.4,596.8 857.6,605.1 857.9,586.2 858.2,548.1 858.5,526.5 858.7,532.2 859.0,573.5 859.3,623.8 859.5,589.2 859.8,531.9 860.1,521.6 860.3,556.2 860.6,569.8 860.9,560.8 861.2,506.9 861.4,516.3 861.7,574.0 862.0,582.9 862.2,538.8 862.5,471.6 862.8,515.8 863.0,583.2 863.3,599.3 863.6,569.5 863.9,537.8 864.1,525.8 864.4,532.5 864.7,550.3 864.9,587.5 865.2,615.8 865.5,616.4 865.7,586.2 866.0,546.5 866.3,526.1 866.6,521.2 866.8,533.5 867.1,556.8 867.4,623.2 867.6,659.1 867.9,644.9 868.2,579.6 868.4,524.1 868.7,501.2 869.0,523.2 869.2,567.3 869.5,585.9 869.8,571.4 870.1,515.8 870.3,670.0 870.6,460.0 870.9,586.3 871.1,588.9 871.4,549.8 871.7,534.2 871.9,547.7 872.2,601.0 872.5,610.2 872.8,556.5 873.0,527.1 873.3,525.5 873.6,549.0 873.8,615.0 874.1,648.5 874.4,625.2 874.6,563.8 874.9,524.2 875.2,505.5 875.5,519.8 875.7,560.0 876.0,583.5 876.3,580.0 876.5,548.8 876.8,493.5 877.1,493.5 877.3,545.6 877.6,581.8 877.9,589.5 878.2,559.9 878.4,544.2 878.7,547.5 879.0,595.5 879.2,597.7 879.5,534.3 879.8,530.0 880.0,598.9 880.3,630.3 880.6,463.0 880.9,512.5 881.1,524.7 881.4,562.5 881.7,580.6 881.9,575.4 882.2,550.0 882.5,632.0 882.7,492.2 883.0,521.4 883.3,560.5 883.6,579.9 883.8,589.1 884.1,586.0 884.4,571.3 884.6,538.1 884.9,475.4 885.2,452.1 885.4,496.2 885.7,573.5 886.0,607.7 886.3,586.8 886.5,539.1 886.8,523.8 887.1,549.4 887.3,619.9 887.6,605.6 887.9,534.4 888.1,518.6 888.4,557.3 888.7,572.7 889.0,560.7 889.2,506.0 889.5,504.1 889.8,558.9 890.0,585.0 890.3,581.6 890.6,550.9 890.8,475.4 891.1,481.7 891.4,566.4 891.7,603.0 891.9,567.9 892.2,526.8 892.5,467.0 892.7,604.6 893.0,611.0 893.3,542.8 893.5,519.3 893.8,542.4 894.1,561.2 894.4,563.2 894.6,555.9 894.9,507.0 895.2,508.5 895.4,560.7 895.7,586.0 896.0,573.5 896.2,514.0 896.5,479.7 896.8,540.6 897.1,590.4 897.3,590.4 897.6,552.1 897.9,533.2 898.1,536.9 898.4,563.8 898.7,612.5 898.9,608.8 899.2,558.8 899.5,528.9 899.8,522.4 900.0,544.5 900.3,620.5 900.6,649.4 900.8,564.7 901.1,507.8 901.4,521.5 901.6,572.9 901.9,584.5 902.2,547.3 902.5,484.3 902.7,526.8 903.0,583.4 903.3,586.2 903.5,552.1 903.8,541.0 904.1,546.2 904.3,577.6 904.6,613.2 904.9,592.5 905.2,543.7 905.4,523.1 905.7,539.8 906.0,614.4 906.2,626.6 906.5,535.3 906.8,512.5 907.0,565.4 907.3,582.2 907.6,536.2 907.8,489.4 908.1,548.7 908.4,586.1 908.7,584.4 908.9,558.2 909.2,486.6 909.5,450.1 909.7,461.1 910.0,511.8 910.3,570.1 910.5,601.5 910.8,607.3 911.1,580.5 911.4,545.0 911.6,527.1 911.9,525.1 912.2,537.2 912.4,557.9 912.7,600.4 913.0,625.1 913.2,620.4 913.5,583.0 913.8,540.0 914.1,518.5 914.3,523.1 914.6,551.2 914.9,567.9 915.1,573.8 915.4,569.9 915.7,559.8 915.9,533.5 916.2,505.0 916.5,448.0 916.8,524.1 917.0,563.8 917.3,583.4 917.6,655.0 917.8,559.6 918.1,500.7 918.4,470.1 918.6,486.1 918.9,534.5 919.2,575.0 919.5,597.0 919.7,594.7 920.0,618.0 920.3,534.2 920.5,528.3 920.8,549.5 921.1,601.3 921.3,614.1 921.6,573.3 921.9,535.4 922.2,523.3 922.4,538.7 922.7,559.2 923.0,564.4 923.2,560.1 923.5,529.5 923.8,506.1 924.0,544.0 924.3,578.5 924.6,574.6 924.9,519.2 925.1,492.1 925.4,563.2 925.7,591.7 925.9,561.0 926.2,536.1 926.5,538.3 926.7,561.7 927.0,481.0 927.3,605.6 927.6,579.3 927.8,547.9 928.1,532.0 928.4,527.2 928.6,535.9 928.9,554.7 929.2,612.5 929.4,636.6 929.7,602.6 930.0,540.9 930.3,513.6 930.5,529.5 930.8,567.6 931.1,579.4 931.3,557.6 931.6,502.0 931.9,522.5 932.1,575.2 932.4,579.2 932.7,549.1 933.0,543.4 933.2,570.7 933.5,599.2 933.8,551.4 934.0,530.5 934.3,546.5 934.6,602.8 934.8,618.7 935.1,577.5 935.4,537.2 935.7,520.5 935.9,528.1 936.2,556.9 936.5,576.1 936.7,571.8 937.0,533.0 937.3,504.9 937.5,548.2 937.8,578.4 938.1,577.7 938.4,555.7 938.6,491.2 938.9,471.4 939.2,505.4 939.4,563.9 939.7,593.2 940.0,594.2 940.2,561.8 940.5,536.2 940.8,531.1 941.1,549.2 941.3,598.0 941.6,613.2 941.9,571.0 942.1,531.7 942.4,522.9 942.7,546.0 942.9,566.9 943.2,572.7 943.5,563.4 943.8,533.4 944.0,504.8 944.3,517.4 944.6,560.0 944.8,581.2 945.1,574.9 945.4,526.9 945.6,474.5 945.9,523.9 946.2,585.6 946.4,594.9 946.7,558.5 947.0,533.1 947.3,530.0 947.5,547.1 947.8,586.3 948.1,613.9 948.3,609.9 948.6,583.6 948.9,552.6 949.1,537.2 949.4,526.6 949.7,522.9 950.0,529.6 950.2,548.2 950.5,561.2 950.8,566.4 951.0,563.5 951.3,550.7 951.6,511.2 951.8,505.9 952.1,461.0 952.4,574.6 952.7,583.3 952.9,561.6 953.2,674.0 953.5,489.6 953.7,561.5 954.0,595.5 954.3,578.1 954.5,540.5 954.8,530.1 955.1,551.6 955.4,609.7 955.6,596.8 955.9,536.6 956.2,525.5 956.4,588.2 956.7,650.1 957.0,543.3 957.2,504.2 957.5,554.7 957.8,584.3 958.1,573.4 958.3,527.3 958.6,485.8 958.9,470.0 959.1,538.8 959.4,572.7 959.7,590.3 959.9,591.3 960.2,572.1 960.5,547.6 960.8,536.9 961.0,544.4 961.3,587.0 961.6,615.0 961.8,574.6 962.1,535.1 962.4,522.3 962.6,531.8 962.9,559.2 963.2,629.4 963.5,639.7 963.7,560.3 964.0,510.4 964.3,521.9 964.5,570.5 964.8,586.0 965.1,560.5 965.3,495.8 965.6,499.2 965.9,564.2 966.2,591.0 966.4,573.4 966.7,549.4 967.0,545.5 967.2,552.1 967.5,596.1 967.8,609.6 968.0,562.9 968.3,528.1 968.6,526.8 968.9,559.4 969.1,627.4 969.4,618.9 969.7,550.3 969.9,515.7 970.2,516.9 970.5,549.9 970.7,572.5 971.0,579.7 971.3,570.1 971.6,545.9 971.8,504.1 972.1,489.4 972.4,504.1 972.6,538.8 972.9,568.3 973.2,585.6 973.4,589.3 973.7,574.0 974.0,526.4 974.3,459.4 974.5,467.1 974.8,548.8 975.1,597.7 975.3,607.1 975.6,572.4 975.9,535.9 976.1,522.1 976.4,535.9 976.7,582.4 977.0,629.2 977.2,599.3 977.5,535.6 977.8,516.5 978.0,545.2 978.3,567.3 978.6,569.6 978.8,557.5 979.1,510.9 979.4,493.0 979.7,521.3 979.9,565.3 980.2,586.4 980.5,585.0 980.7,561.9 981.0,497.2 981.3,463.9 981.5,508.2 981.8,580.9 982.1,603.3 982.4,555.4 982.6,523.5 982.9,553.7 983.2,625.9 983.4,546.4 983.7,520.2 984.0,607.7 984.2,657.0 984.5,534.2 984.8,496.4 985.0,535.0 985.3,574.6 985.6,588.6 985.9,585.1 986.1,572.3 986.4,555.7 986.7,515.5 986.9,482.0 987.2,477.9 987.5,527.1 987.7,584.1 988.0,595.3 988.3,550.8 988.6,532.8 988.8,696.0 989.1,621.0 989.4,575.4 989.6,524.9 989.9,430.0 990.2,569.8 990.4,645.0 990.7,649.9 991.0,602.5 991.3,545.9 991.5,516.8 991.8,502.2 992.1,507.2 992.3,530.9 992.6,561.1 992.9,580.0 993.1,588.3 993.4,580.9 993.7,559.0 994.0,506.0 994.2,481.0 994.5,519.8 994.8,576.2 995.0,593.0 995.3,563.0 995.6,544.4 995.8,546.1 996.1,585.7 996.4,612.4 996.7,549.3 996.9,521.4 997.2,553.3 997.5,639.5 997.7,572.1 998.0,510.8 998.3,534.6 998.5,576.3 998.8,578.1 999.1,543.4 999.4,490.5 999.6,504.2 999.9,560.4 1000.2,587.6 1000.4,455.0 1000.7,550.8 1001.0,663.0 1001.2,465.3 1001.5,557.1 1001.8,602.6 1002.1,605.9 1002.3,571.8 1002.6,540.1 1002.9,524.6 1003.1,523.9 1003.4,537.0 1003.7,564.8 1003.9,614.8 1004.2,628.2 1004.5,579.7 1004.8,448.0 1005.0,519.5 1005.3,558.3 1005.6,572.7 1005.8,558.3 1006.1,497.7 1006.4,519.0 1006.6,574.8 1006.9,587.1 1007.2,561.9 1007.5,488.2 1007.7,466.3 1008.0,515.9 1008.3,573.7 1008.5,599.8 1008.8,601.0 1009.1,580.2 1009.3,550.0 1009.6,530.2 1009.9,523.8 1010.2,539.1 1010.4,584.2 1010.7,623.2 1011.0,595.8 1011.2,540.5 1011.5,519.3 1011.8,455.0 1012.0,558.1 1012.3,563.1 1012.6,560.8 1012.9,544.3 1013.1,666.0 1013.4,506.6 1013.7,550.9 1013.9,580.5 1014.2,584.3 1014.5,557.8 1014.7,489.6 1015.0,491.8 1015.3,561.6 1015.6,595.1 1015.8,584.2 1016.1,548.0 1016.4,532.5 1016.6,542.0 1016.9,590.3 1017.2,615.0 1017.4,550.8 1017.7,521.3 1018.0,554.2 1018.3,652.8 1018.5,556.4 1018.8,503.4 1019.1,554.3 1019.3,586.5 1019.6,561.3 1019.9,489.9 1020.1,505.9 1020.4,568.8 1020.7,591.7 1020.9,577.0 1021.2,549.0 1021.5,541.1 1021.8,551.3 1022.0,607.2 1022.3,589.9 1022.6,531.7 1022.8,529.2 1023.1,590.2 1023.4,639.0 1023.6,575.7 1023.9,520.1 1024.2,511.6 1024.5,542.6 1024.7,571.9 1025.0,583.5 1025.3,576.5 1025.5,557.1 1025.8,512.5 1026.1,488.7 1026.3,504.1 1026.6,553.5 1026.9,582.0 1027.2,589.2 1027.4,567.7 1027.7,493.4 1028.0,448.2 1028.2,500.5 1028.5,580.4 1028.8,609.9 1029.0,583.7 1029.3,537.9 1029.6,523.2 1029.9,546.6 1030.1,614.3 1030.4,621.1 1030.7,552.9 1030.9,518.7 1031.2,521.4 1031.5,554.0 1031.7,570.3 1032.0,574.2 1032.3,564.4 1032.6,533.0 1032.8,496.5 1033.1,501.4 1033.4,546.3 1033.6,578.5 1033.9,588.0 1034.2,569.4 1034.4,506.2 1034.7,461.1 1035.0,507.3 1035.3,581.4 1035.5,604.6 1035.8,567.4 1036.1,528.6 1036.3,529.8 1036.6,578.6 1036.9,625.3 1037.1,454.0 1037.4,522.1 1037.7,533.8 1038.0,563.0 1038.2,562.2 1038.5,514.0 1038.8,662.0 1039.0,574.9 1039.3,583.1 1039.6,526.7 1039.8,475.5 1040.1,552.9 1040.4,598.2 1040.7,571.5 1040.9,461.0 1041.2,538.9 1041.5,600.0 1041.7,606.9 1042.0,536.5 1042.3,524.2 1042.5,594.2 1042.8,653.0 1043.1,545.5 1043.4,501.5 1043.6,548.8 1043.9,585.8 1044.2,569.6 1044.4,497.8 1044.7,496.2 1045.0,567.7 1045.2,593.0 1045.5,572.7 1045.8,546.2 1046.1,538.8 1046.3,547.3 1046.6,589.9 1046.9,613.6 1047.1,555.9 1047.4,523.1 1047.7,542.6 1047.9,626.6 1048.2,629.1 1048.5,552.5 1048.8,517.0 1049.0,507.6 1049.3,517.7 1049.6,537.2 1049.8,558.1 1050.1,572.2 1050.4,582.9 1050.6,585.4 1050.9,573.6 1051.2,539.6 1051.5,490.7 1051.7,507.5 1052.0,570.3 1052.3,590.3 1052.5,559.7 1052.8,670.0 1053.1,479.2 1053.3,576.7 1053.6,610.6 1053.9,590.8 1054.2,446.0 1054.4,526.9 1054.7,524.8 1055.0,543.4 1055.2,592.3 1055.5,630.2 1055.8,609.8 1056.0,549.9 1056.3,518.9 1056.6,517.8 1056.9,549.8 1057.1,572.1 1057.4,574.7 1057.7,555.6 1057.9,499.4 1058.2,503.6 1058.5,557.5 1058.7,584.1 1059.0,585.9 1059.3,564.2 1059.5,499.9 1059.8,459.1 1060.1,494.7 1060.4,570.1 1060.6,604.1 1060.9,591.0 1061.2,547.0 1061.4,524.8 1061.7,531.2 1062.0,560.5 1062.2,611.7 1062.5,625.0 1062.8,602.9 1063.1,562.3 1063.3,536.6 1063.6,521.0 1063.9,520.6 1064.1,540.3 1064.4,560.9 1064.7,567.4 1064.9,562.4 1065.2,531.5 1065.5,497.4 1065.8,516.4 1066.0,560.2 1066.3,581.6 1066.6,586.5 1066.8,574.4 1067.1,546.5 1067.4,491.2 1067.6,473.8 1067.9,506.4 1068.2,560.7 1068.5,587.4 1068.7,598.9 1069.0,596.4 1069.3,585.1 1069.5,568.8 1069.8,551.8 1070.1,540.2 1070.3,531.0 1070.6,528.4 1070.9,536.3 1071.2,554.4 1071.4,601.9 1071.7,618.5 1072.0,578.4 1072.2,531.5 1072.5,524.1 1072.8,577.0 1073.0,656.6 1073.3,552.2 1073.6,502.3 1073.9,556.4 1074.1,586.0 1074.4,557.7 1074.7,485.2 1074.9,521.2 1075.2,581.8 1075.5,455.0 1075.7,553.9 1076.0,538.4 1076.3,543.1 1076.6,579.9 1076.8,614.0 1077.1,659.0 1077.4,528.4 1077.6,531.1 1077.9,593.4 1078.2,641.6 1078.4,568.7 1078.7,515.1 1079.0,514.6 1079.3,553.3 1079.5,578.8 1079.8,461.0 1080.1,567.0 1080.3,520.0 1080.6,488.9 1080.9,526.1 1081.1,577.5 1081.4,587.6 1081.7,555.8 1082.0,547.0 1082.2,548.7 1082.5,570.9 1082.8,607.7 1083.0,595.6 1083.3,554.7 1083.6,534.0 1083.8,524.9 1084.1,526.9 1084.4,537.3 1084.7,553.1 1084.9,593.6 1085.2,624.6 1085.5,622.0 1085.7,577.0 1086.0,531.9 1086.3,514.6 1086.5,534.4 1086.8,566.0 1087.1,577.5 1087.4,568.0 1087.6,538.7 1087.9,502.4 1088.2,496.0 1088.4,514.2 1088.7,546.0 1089.0,568.4 1089.2,582.2 1089.5,586.9 1089.8,580.0 1090.1,562.5 1090.3,511.3 1090.6,465.6 1090.9,477.9 1091.1,551.6 1091.4,594.5 1091.7,600.8 1091.9,566.4 1092.2,535.2 1092.5,525.6 1092.8,542.3 1093.0,593.0 1093.3,622.2 1093.6,577.2 1093.8,529.8 1094.1,522.3 1094.4,552.5 1094.6,567.0 1094.9,566.4 1095.2,545.9 1095.5,500.6 1095.7,521.1 1096.0,571.7 1096.3,584.5 1096.5,552.7 1096.8,474.5 1097.1,526.6 1097.3,593.0 1097.6,585.6 1097.9,541.6 1098.1,526.9 1098.4,541.4 1098.7,577.7 1099.0,612.8 1099.2,617.6 1099.5,595.7 1099.8,468.0 1100.0,533.0 1100.3,521.0 1100.6,650.0 1100.8,588.0 1101.1,658.9 1101.4,595.2 1101.7,512.0 1101.9,514.8 1102.2,569.7 1102.5,585.4 1102.7,558.6 1103.0,491.2 1103.3,494.2 1103.5,558.5 1103.8,590.4 1104.1,589.6 1104.4,560.4 1104.6,541.6 1104.9,535.0 1105.2,540.5 1105.4,553.4 1105.7,590.8 1106.0,614.4 1106.2,609.6 1106.5,574.3 1106.8,538.1 1107.1,522.1 1107.3,537.0 1107.6,607.1 1107.9,645.6 1108.1,558.4 1108.4,507.9 1108.7,523.8 1108.9,569.8 1109.2,586.5 1109.5,571.2 1109.8,526.1 1110.0,486.5 1110.3,499.7 1110.6,552.8 1110.8,582.1 1111.1,591.5 1111.4,576.2 1111.6,552.6 1111.9,545.3 1112.2,544.0 1112.5,549.2 1112.7,570.2 1113.0,607.0 1113.3,609.0 1113.5,568.3 1113.8,532.1 1114.1,523.3 1114.3,547.4 1114.6,433.0 1114.9,630.5 1115.2,555.9 1115.4,666.0 1115.7,525.9 1116.0,571.1 1116.2,578.1 1116.5,525.8 1116.8,493.9 1117.0,568.0 1117.3,588.9 1117.6,534.4 1117.9,449.2 1118.1,538.4 1118.4,605.8 1118.7,588.9 1118.9,536.4 1119.2,523.6 1119.5,551.2 1119.7,618.5 1120.0,621.0 1120.3,563.9 1120.6,528.6 1120.8,516.2 1121.1,525.1 1121.4,547.8 1121.6,563.2 1121.9,570.9 1122.2,571.0 1122.4,563.0 1122.7,539.9 1123.0,503.8 1123.3,495.9 1123.5,525.2 1123.8,567.8 1124.1,587.1 1124.3,571.8 1124.6,640.0 1124.9,478.2 1125.1,571.7 1125.4,451.0 1125.7,552.2 1126.0,524.2 1126.2,547.5 1126.5,615.2 1126.8,596.9 1127.0,534.4 1127.3,522.0 1127.6,554.0 1127.8,652.3 1128.1,641.5 1128.4,551.0 1128.7,509.6 1128.9,502.3 1129.2,523.0 1129.5,552.7 1129.7,568.3 1130.0,578.6 1130.3,584.4 1130.5,585.3 1130.8,579.3 1131.1,458.0 1131.4,535.1 1131.6,497.1 1131.9,482.5 1132.2,494.9 1132.4,526.2 1132.7,560.3 1133.0,579.7 1133.2,592.2 1133.5,592.8 1133.8,578.7 1134.1,553.9 1134.3,539.8 1134.6,534.1 1134.9,541.7 1135.1,565.6 1135.4,606.5 1135.7,608.5 1135.9,569.4 1136.2,536.2 1136.5,524.0 1136.7,534.7 1137.0,572.6 1137.3,636.5 1137.6,628.5 1137.8,550.1 1138.1,510.9 1138.4,522.1 1138.6,564.2 1138.9,583.1 1139.2,575.7 1139.4,551.2 1139.7,506.6 1140.0,490.9 1140.3,508.9 1140.5,551.6 1140.8,577.3 1141.1,587.9 1141.3,573.3 1141.6,549.8 1141.9,543.1 1142.1,551.3 1142.4,598.5 1142.7,591.7 1143.0,539.2 1143.2,528.7 1143.5,565.6 1143.8,627.8 1144.0,588.7 1144.3,528.9 1144.6,516.7 1144.8,547.8 1145.1,573.9 1145.4,578.6 1145.7,563.1 1145.9,523.5 1146.2,496.9 1146.5,512.1 1146.7,557.0 1147.0,580.8 1147.3,584.2 1147.5,562.5 1147.8,490.2 1148.1,462.8 1148.4,526.2 1148.6,588.4 1148.9,602.1 1149.2,566.1 1149.4,533.5 1149.7,527.9 1150.0,549.2 1150.2,603.4 1150.5,620.7 1150.8,579.0 1151.1,533.2 1151.3,519.5 1151.6,546.2 1151.9,569.7 1152.1,566.8 1152.4,518.9 1152.7,509.8 1152.9,572.0 1153.2,580.4 1153.5,511.7 1153.8,479.8 1154.0,572.1 1154.3,599.0 1154.6,554.0 1154.8,526.9 1155.1,478.0 1155.4,629.0 1155.6,618.7 1155.9,599.7 1156.2,549.9 1156.5,525.0 1156.7,526.2 1157.0,556.0 1157.3,564.1 1157.5,558.0 1157.8,504.8 1158.1,539.2 1158.3,584.4 1158.6,561.1 1158.9,483.8 1159.2,518.2 1159.4,581.2 1159.7,594.7 1160.0,565.6 1160.2,538.3 1160.5,532.7 1160.8,550.8 1161.0,602.6 1161.3,612.3 1161.6,567.6 1161.9,532.4 1162.1,522.6 1162.4,541.1 1162.7,609.0 1162.9,650.9 1163.2,580.3 1163.5,512.6 1163.7,516.5 1164.0,568.6 1164.3,585.2 1164.6,559.2 1164.8,493.8 1165.1,497.9 1165.4,560.7 1165.6,589.5 1165.9,581.6 1166.2,551.1 1166.4,540.2 1166.7,545.0 1167.0,575.8 1167.3,613.2 1167.5,589.4 1167.8,541.7 1168.1,523.3 1168.3,535.4 1168.6,583.0 1168.9,638.5 1169.1,617.5 1169.4,544.8 1169.7,510.3 1170.0,523.7 1170.2,567.4 1170.5,584.9 1170.8,561.9 1171.0,496.7 1171.3,506.7 1171.6,569.7 1171.8,590.2 1172.1,570.7 1172.4,498.2 1172.7,446.9 1172.9,491.9 1173.2,576.9 1173.5,610.0 1173.7,579.0 1174.0,532.3 1174.3,527.5 1174.5,574.7 1174.8,630.2 1175.1,575.7 1175.3,521.5 1175.6,521.2 1175.9,558.3 1176.2,574.9 1176.4,570.4 1176.7,539.8 1177.0,494.1 1177.2,522.0 1177.5,577.5 1177.8,583.1 1178.0,514.7 1178.3,465.3 1178.6,564.5 1178.9,605.2 1179.1,568.5 1179.4,529.1 1179.7,529.2 1179.9,571.0 1180.2,624.4 1180.5,475.0 1180.7,530.7 1181.0,521.2 1181.3,555.2 1181.6,566.2 1181.8,563.2 1182.1,530.5 1182.4,497.4 1182.6,649.0 1182.9,581.4 1183.2,581.4 1183.4,539.2 1183.7,476.2 1184.0,500.8 1184.3,571.6 1184.5,599.3 1184.8,570.2 1185.1,532.9 1185.3,537.1 1185.6,598.3 1185.9,606.4 1186.1,535.8 1186.4,525.0 1186.7,597.2 1187.0,653.2 1187.2,546.1 1187.5,501.6 1187.8,541.9 1188.0,582.2 1188.3,579.1 1188.6,529.8 1188.8,481.8 1189.1,538.3 1189.4,590.5 1189.7,572.1 1189.9,539.2 1190.2,548.3 1190.5,612.5 1190.7,569.9 1191.0,523.2 1191.3,549.3 1191.5,643.7 1191.8,565.4 1192.1,507.1 1192.4,555.1 1192.6,586.1 1192.9,543.9 1193.2,488.5 1193.4,563.2 1193.7,590.2 1194.0,555.2 1194.2,546.9 1194.5,549.3 1194.8,570.4 1195.1,606.9 1195.3,605.7 1195.6,573.6 1195.9,541.2 1196.1,524.8 1196.4,527.1 1196.7,548.3 1196.9,602.1 1197.2,631.9 1197.5,606.0 1197.8,548.5 1198.0,518.2 1198.3,515.5 1198.6,544.3 1198.8,569.9 1199.1,578.5 1199.4,569.1 1199.6,543.3 1199.9,502.7 1200.2,490.8 1200.5,510.3 1200.7,552.2 1201.0,577.5 1201.3,589.6 1201.5,580.5 1201.8,551.8 1202.1,473.9 1202.3,458.7 1202.6,532.4 1202.9,596.8 1203.2,601.3 1203.4,547.4 1203.7,522.3 1204.0,546.1 1204.2,617.9 1204.5,614.7 1204.8,548.0 1205.0,519.1 1205.3,521.8 1205.6,548.6 1205.9,564.3 1206.1,569.9 1206.4,564.4 1206.7,536.9 1206.9,640.0 1207.2,516.2 1207.5,571.2 1207.7,455.0 1208.0,563.8 1208.3,483.6 1208.6,475.2 1208.8,556.7 1209.1,599.4 1209.4,593.5 1209.6,548.6 1209.9,525.0 1210.2,536.1 1210.4,588.4 1210.7,626.4 1211.0,585.2 1211.3,534.0 1211.5,517.2 1211.8,529.8 1212.1,566.5 1212.3,646.5 1212.6,668.7 1212.9,609.0 1213.1,527.4 1213.4,448.0 1213.7,523.2 1213.9,572.4 1214.2,589.8 1214.5,570.7 1214.8,511.9 1215.0,473.1 1215.3,498.8 1215.6,556.9 1215.8,585.8 1216.1,454.0 1216.4,591.8 1216.6,566.6 1216.9,544.6 1217.2,533.9 1217.5,536.3 1217.7,551.0 1218.0,597.2 1218.3,623.7 1218.5,602.9 1218.8,550.6 1219.1,523.1 1219.3,521.0 1219.6,547.9 1219.9,629.2 1220.2,657.8 1220.4,593.9 1220.7,522.6 1221.0,499.1 1221.2,528.7 1221.5,573.8 1221.8,590.6 1222.0,570.4 1222.3,507.8 1222.6,477.2 1222.9,530.0 1223.1,582.4 1223.4,595.4 1223.7,574.0 1223.9,550.7 1224.2,544.1 1224.5,543.4 1224.7,548.1 1225.0,559.7 1225.3,600.8 1225.6,619.2 1225.8,596.8 1226.1,546.8 1226.4,521.0 1226.6,530.0 1226.9,589.2 1227.2,643.7 1227.4,579.7 1227.7,515.1 1228.0,516.2 1228.3,655.0 1228.5,582.9 1228.8,461.0 1229.1,508.8 1229.3,487.6 1229.6,552.0 1229.9,589.8 1230.1,580.3 1230.4,503.2 1230.7,444.5 1231.0,525.1 1231.2,600.5 1231.5,605.3 1231.8,549.2 1232.0,520.9 1232.3,540.9 1232.6,616.4 1232.8,619.7 1233.1,543.2 1233.4,514.2 1233.7,534.9 1233.9,564.8 1234.2,572.4 1234.5,560.1 1234.7,503.9 1235.0,502.5 1235.3,568.5 1235.5,588.8 1235.8,548.6 1236.1,461.1 1236.4,527.5 1236.6,598.2 1236.9,593.2 1237.2,544.0 1237.4,522.2 1237.7,537.7 1238.0,591.8 1238.2,626.6 1238.5,580.9 1238.8,528.0 1239.1,521.0 1239.3,566.2 1239.6,667.4 1239.9,619.7 1240.1,522.3 1240.4,669.0 1240.7,536.6 1240.9,576.6 1241.2,588.3 1241.5,574.3 1241.8,541.6 1242.0,494.0 1242.3,475.9 1242.6,487.3 1242.8,519.7 1243.1,559.1 1243.4,581.5 1243.6,595.8 1243.9,595.8 1244.2,579.1 1244.5,552.6 1244.7,537.7 1245.0,532.7 1245.3,543.8 1245.5,584.5 1245.8,619.3 1246.1,583.4 1246.3,532.0 1246.6,523.4 1246.9,563.0 1247.2,650.5 1247.4,609.6 1247.7,526.8 1248.0,503.5 1248.2,532.9 1248.5,646.0 1248.8,586.9 1249.0,577.9 1249.3,547.8 1249.6,480.0 1249.8,486.4 1250.1,531.0 1250.4,575.7 1250.7,592.6 1250.9,578.2 1251.2,550.9 1251.5,542.3 1251.7,545.5 1252.0,569.2 1252.3,612.8 1252.5,597.5 1252.8,545.6 1253.1,522.5 1253.4,534.5 1253.6,592.7 1253.9,640.8 1254.2,587.0 1254.4,521.9 1254.7,511.8 1255.0,553.5 1255.2,580.3 1255.5,578.6 1255.8,551.3 1256.1,496.3 1256.3,491.7 1256.6,535.5 1256.9,574.7 1257.1,590.9 1257.4,583.3 1257.7,557.5 1257.9,479.1 1258.2,445.5 1258.5,488.6 1258.8,570.3 1259.0,608.9 1259.3,596.9 1259.6,544.7 1259.8,521.6 1260.1,545.9 1260.4,625.5 1260.6,594.6 1260.9,519.9 1261.2,534.0 1261.5,572.1 1261.7,563.9 1262.0,498.6 1262.3,516.3 1262.5,577.0 1262.8,588.1 1263.1,561.2 1263.3,485.2 1263.6,459.0 1263.9,507.2 1264.2,575.3 1264.4,605.7 1264.7,592.6 1265.0,548.7 1265.2,524.1 1265.5,526.3 1265.8,549.4 1266.0,596.3 1266.3,625.3 1266.6,626.1 1266.9,605.0 1267.1,567.7 1267.4,537.7 1267.7,518.9 1267.9,444.0 1268.2,549.0 1268.5,642.0 1268.7,564.5 1269.0,556.6 1269.3,506.5 1269.6,498.6 1269.8,548.9 1270.1,583.6 1270.4,585.7 1270.6,554.1 1270.9,479.4 1271.2,485.1 1271.4,556.3 1271.7,592.5 1272.0,601.0 1272.3,585.2 1272.5,558.3 1272.8,541.8 1273.1,531.2 1273.3,529.2 1273.6,538.1 1273.9,556.7 1274.1,605.1 1274.4,624.6 1274.7,595.3 1275.0,542.6 1275.2,518.8 1275.5,530.1 1275.8,590.6 1276.0,464.0 1276.3,624.5 1276.6,536.6 1276.8,499.6 1277.1,514.8 1277.4,562.7 1277.7,587.4 1277.9,582.1 1278.2,551.5 1278.5,490.5 1278.7,480.9 1279.0,527.3 1279.3,575.4 1279.5,594.7 1279.8,583.9 1280.1,553.6 1280.4,541.7 1280.6,539.5 1280.9,548.2 1281.2,580.7 1281.4,615.3 1281.7,611.8 1282.0,576.7 1282.2,542.5 1282.5,524.8 1282.8,521.2 1283.1,534.0 1283.3,564.3 1283.6,626.7 1283.9,645.6 1284.1,605.2 1284.4,542.7 1284.7,511.9 1284.9,507.6 1285.2,530.5 1285.5,563.0 1285.8,582.5 1286.0,584.1 1286.3,562.6 1286.6,505.5 1286.8,487.2 1287.1,541.9 1287.4,584.6 1287.6,588.1 1287.9,552.6 1288.2,450.5 1288.4,476.4 1288.7,581.3 1289.0,611.8 1289.3,560.7 1289.5,524.0 1289.8,534.5 1290.1,599.0 1290.3,631.1 1290.6,567.0 1290.9,520.5 1291.1,516.7 1291.4,548.3 1291.7,569.9 1292.0,576.2 1292.2,566.1 1292.5,530.3 1292.8,491.8 1293.0,512.6 1293.3,567.6 1293.6,589.4 1293.8,569.0 1294.1,482.5 1294.4,472.6 1294.7,572.8 1294.9,606.2 1295.2,555.5 1295.5,523.0 1295.7,669.0 1296.0,613.0 1296.3,613.5 1296.5,441.0 1296.8,517.4 1297.1,536.5" fill="none" stroke="#000" stroke-width="1.0" stroke-linejoin="miter"/>
<polyline points="325.6,550.6 326.2,551.7 326.7,552.8 327.2,553.9 327.8,555.0 328.3,560.0 328.9,559.0 329.4,556.7 329.9,554.9 330.5,554.3 331.0,554.7 331.6,555.2 332.1,555.2 332.6,554.7 333.2,554.6 333.7,555.5 334.3,557.0 334.8,557.8 335.3,556.9 335.9,555.0 336.4,553.9 336.9,554.5 337.5,556.0 338.0,556.7 338.6,555.8 339.1,554.6 339.6,554.6 340.2,556.0 340.7,557.5 341.3,557.8 341.8,556.7 342.3,555.2 342.9,554.3 343.4,554.4 344.0,555.4 344.5,556.5 345.0,556.9 345.6,556.3 346.1,555.2 346.7,554.8 347.2,555.7 347.7,557.3 348.3,557.8 348.8,556.7 349.4,554.6 349.9,553.3 350.4,553.8 351.0,555.2 351.5,556.3 352.1,556.1 352.6,555.4 353.1,555.2 353.7,555.8 354.2,556.3 354.8,556.0 355.3,554.9 355.8,554.0 356.4,554.1 356.9,554.9 357.5,555.8 358.0,556.4 358.5,556.4 359.1,556.1 359.6,555.3 360.2,554.3 360.7,553.5 361.2,553.7 361.8,555.2 362.3,556.9 362.9,557.6 363.4,556.5 363.9,554.3 364.5,552.5 365.0,552.5 365.6,554.0 366.1,555.8 366.6,556.7 367.2,556.2 367.7,555.3 368.3,554.7 368.8,554.5 369.3,554.7 369.9,555.0 370.4,555.7 371.0,556.3 371.5,556.2 372.0,555.1 372.6,553.9 373.1,553.6 373.7,554.5 374.2,555.5 374.7,555.3 375.3,554.5 375.8,554.4 376.4,555.6 376.9,557.0 377.4,557.1 378.0,556.1 378.5,555.5 379.1,556.0 379.6,556.3 380.1,555.0 380.7,552.7 381.2,551.8 381.8,553.9 382.3,557.6 382.8,559.9 383.4,558.9 383.9,555.4 384.5,552.2 385.0,551.9 385.5,554.4 386.1,557.5 386.6,558.8 387.2,557.6 387.7,555.2 388.2,553.1 388.8,552.9 389.3,554.6 389.9,557.0 390.4,558.5 390.9,558.3 391.5,556.7 392.0,554.9 392.6,553.9 393.1,553.9 393.6,554.7 394.2,555.5 394.7,556.2 395.3,556.5 395.8,556.3 396.3,555.7 396.9,554.9 397.4,554.2 398.0,554.0 398.5,554.5 399.0,555.7 399.6,556.9 400.1,557.0 400.7,555.4 401.2,553.5 401.7,553.2 402.3,554.7 402.8,556.5 403.4,557.0 403.9,556.0 404.4,554.9 405.0,554.7 405.5,555.1 406.1,555.4 406.6,555.2 407.1,554.7 407.7,554.3 408.2,554.5 408.8,555.1 409.3,555.5 409.8,555.1 410.4,554.1 410.9,553.5 411.4,554.1 412.0,555.7 412.5,556.9 413.1,556.6 413.6,555.2 414.1,553.9 414.7,553.8 415.2,555.1 415.8,556.4 416.3,556.6 416.8,555.5 417.4,554.0 417.9,553.6 418.5,554.7 419.0,556.2 419.5,557.2 420.1,556.9 420.6,555.7 421.2,554.3 421.7,553.6 422.2,554.1 422.8,555.5 423.3,556.8 423.9,556.9 424.4,555.8 424.9,554.2 425.5,553.5 426.0,554.0 426.6,555.3 427.1,556.4 427.6,556.8 428.2,556.7 428.7,556.4 429.3,556.0 429.8,555.4 430.3,554.6 430.9,554.2 431.4,554.6 432.0,555.7 432.5,556.7 433.0,556.4 433.6,555.1 434.1,554.0 434.7,554.3 435.2,555.9 435.7,557.3 436.3,557.2 436.8,555.8 437.4,554.6 437.9,554.6 438.4,555.5 439.0,556.2 439.5,556.0 440.1,555.3 440.6,554.9 441.1,555.1 441.7,556.0 442.2,557.2 442.8,557.7 443.3,556.8 443.8,555.0 444.4,553.7 444.9,553.9 445.5,555.5 446.0,557.2 446.5,557.7 447.1,556.8 447.6,555.4 448.2,554.5 448.7,555.0 449.2,556.2 449.8,557.2 450.3,557.1 450.9,556.0 451.4,554.9 451.9,554.7 452.5,555.2 453.0,556.0 453.6,556.6 454.1,557.0 454.6,557.1 455.2,556.6 455.7,555.5 456.3,554.7 456.8,554.7 457.3,555.7 457.9,556.8 458.4,557.0 459.0,556.2 459.5,555.2 460.0,554.7 460.6,554.8 461.1,555.0 461.7,555.0 462.2,555.1 462.7,555.4 463.3,556.0 463.8,556.8 464.4,557.1 464.9,556.5 465.4,555.2 466.0,553.8 466.5,553.2 467.1,553.7 467.6,555.0 468.1,556.5 468.7,557.4 469.2,557.1 469.8,555.5 470.3,553.6 470.8,552.8 471.4,553.8 471.9,556.0 472.5,557.5 473.0,557.1 473.5,555.3 474.1,553.7 474.6,553.6 475.2,554.7 475.7,555.9 476.2,556.4 476.8,555.9 477.3,554.8 477.9,553.8 478.4,553.6 478.9,554.4 479.5,555.8 480.0,556.9 480.6,557.0 481.1,556.0 481.6,554.3 482.2,553.1 482.7,553.2 483.3,554.7 483.8,556.6 484.3,557.8 484.9,557.5 485.4,555.9 486.0,554.0 486.5,552.9 487.0,552.9 487.6,553.6 488.1,554.6 488.6,555.8 489.2,556.9 489.7,557.3 490.3,556.4 490.8,554.8 491.3,553.8 491.9,554.4 492.4,556.1 493.0,557.0 493.5,556.3 494.0,554.8 494.6,554.0 495.1,554.6 495.7,555.6 496.2,555.8 496.7,554.9 497.3,554.1 497.8,554.2 498.4,555.2 498.9,556.3 499.4,556.7 500.0,556.4 500.5,555.8 501.1,555.3 501.6,555.1 502.1,555.2 502.7,555.5 503.2,555.8 503.8,555.7 504.3,555.1 504.8,554.2 505.4,554.0 505.9,554.8 506.5,556.3 507.0,557.3 507.5,557.2 508.1,556.1 508.6,555.0 509.2,554.6 509.7,554.7 510.2,555.2 510.8,555.9 511.3,556.7 511.9,557.2 512.4,556.8 512.9,555.5 513.5,554.5 514.0,554.4 514.6,555.1 515.1,555.8 515.6,555.9 516.2,555.6 516.7,555.5 517.3,555.7 517.8,556.1 518.3,556.1 518.9,555.7 519.4,555.3 520.0,555.2 520.5,555.3 521.0,555.2 521.6,555.0 522.1,554.9 522.7,555.3 523.2,555.8 523.7,555.9 524.3,555.6 524.8,555.0 525.4,554.5 525.9,554.5 526.4,555.0 527.0,555.8 527.5,556.1 528.1,555.5 528.6,554.4 529.1,553.6 529.7,554.0 530.2,555.3 530.8,556.6 531.3,556.8 531.8,555.8 532.4,554.7 532.9,554.4 533.5,555.2 534.0,556.2 534.5,556.6 535.1,556.1 535.6,555.2 536.2,554.2 536.7,553.3 537.2,553.3 537.8,554.7 538.3,557.1 538.9,558.8 539.4,558.1 539.9,555.6 540.5,553.2 541.0,552.6 541.6,553.4 542.1,554.5 542.6,555.4 543.2,556.5 543.7,557.4 544.3,557.8 544.8,557.2 545.3,556.3 545.9,555.5 546.4,554.8 547.0,554.0 547.5,553.5 548.0,553.8 548.6,555.1 549.1,556.7 549.7,557.6 550.2,557.1 550.7,555.7 551.3,554.3 551.8,553.9 552.4,554.4 552.9,555.6 553.4,556.7 554.0,557.0 554.5,556.3 555.1,555.0 555.6,553.8 556.1,553.6 556.7,554.4 557.2,555.6 557.8,556.4 558.3,556.2 558.8,555.3 559.4,554.7 559.9,554.8 560.5,555.1 561.0,555.2 561.5,555.1 562.1,554.9 562.6,554.7 563.2,554.2 563.7,553.8 564.2,554.0 564.8,555.0 565.3,556.4 565.8,557.3 566.4,557.2 566.9,556.2 567.5,554.6 568.0,553.2 568.5,552.5 569.1,553.1 569.6,554.5 570.2,556.1 570.7,557.0 571.2,556.8 571.8,555.9 572.3,554.7 572.9,554.0 573.4,553.9 573.9,554.6 574.5,555.4 575.0,555.8 575.6,555.4 576.1,554.7 576.6,554.6 577.2,555.5 577.7,556.4 578.3,556.4 578.8,555.4 579.3,554.5 579.9,554.7 580.4,555.7 581.0,556.3 581.5,555.8 582.0,554.7 582.6,554.2 583.1,554.9 583.7,556.0 584.2,556.5 584.7,556.1 585.3,555.9 585.8,556.2 586.4,556.6 586.9,556.0 587.4,554.5 588.0,553.4 588.5,553.9 589.1,555.7 589.6,557.6 590.1,558.0 590.7,556.8 591.2,555.0 591.8,554.1 592.3,554.6 592.8,555.7 593.4,556.3 593.9,556.0 594.5,555.4 595.0,555.4 595.5,556.0 596.1,556.5 596.6,556.3 597.2,555.5 597.7,554.9 598.2,554.9 598.8,555.4 599.3,555.9 599.9,556.0 600.4,555.9 600.9,555.7 601.5,555.4 602.0,554.9 602.6,554.6 603.1,554.5 603.6,554.8 604.2,555.1 604.7,555.5 605.3,555.8 605.8,555.9 606.3,555.7 606.9,555.2 607.4,554.7 608.0,554.3 608.5,554.3 609.0,554.6 609.6,555.0 610.1,555.4 610.7,555.7 611.2,555.6 611.7,555.0 612.3,554.3 612.8,553.9 613.4,554.7 613.9,556.1 614.4,557.2 615.0,556.6 615.5,555.0 616.1,553.7 616.6,553.9 617.1,555.2 617.7,555.9 618.2,555.2 618.8,553.8 619.3,553.3 619.8,554.3 620.4,556.2 620.9,557.2 621.5,556.9 622.0,555.7 622.5,554.9 623.1,554.8 623.6,555.1 624.2,555.2 624.7,555.0 625.2,554.7 625.8,554.6 626.3,555.0 626.9,555.6 627.4,556.2 627.9,556.5 628.5,556.3 629.0,555.8 629.6,555.1 630.1,554.3 630.6,553.7 631.2,553.9 631.7,554.9 632.3,556.4 632.8,557.4 633.3,557.2 633.9,555.9 634.4,554.6 635.0,554.2 635.5,555.0 636.0,556.1 636.6,556.4 637.1,555.8 637.7,554.9 638.2,554.7 638.7,555.5 639.3,556.7 639.8,557.3 640.3,556.9 640.9,555.8 641.4,554.8 642.0,554.5 642.5,555.1 643.0,556.1 643.6,557.0 644.1,557.3 644.7,556.5 645.2,554.8 645.7,553.6 646.3,554.0 646.8,556.1 647.4,558.2 647.9,558.7 648.4,557.3 649.0,555.5 649.5,554.5 650.1,554.8 650.6,555.5 651.1,556.0 651.7,556.3 652.2,556.4 652.8,556.4 653.3,556.2 653.8,556.0 654.4,555.7 654.9,555.5 655.5,555.2 656.0,554.9 656.5,554.9 657.1,555.5 657.6,556.4 658.2,557.1 658.7,557.0 659.2,555.9 659.8,554.5 660.3,553.8 660.9,554.2 661.4,555.2 661.9,556.2 662.5,556.6 663.0,556.2 663.6,555.5 664.1,555.0 664.6,554.9 665.2,555.1 665.7,555.3 666.3,555.2 666.8,554.7 667.3,554.6 667.9,555.6 668.4,556.8 669.0,556.9 669.5,555.3 670.0,553.5 670.6,553.5 671.1,555.6 671.7,557.6 672.2,557.4 672.7,555.0 673.3,552.7 673.8,552.4 674.4,554.0 674.9,556.1 675.4,557.1 676.0,556.5 676.5,555.1 677.1,553.9 677.6,553.8 678.1,554.9 678.7,556.2 679.2,556.5 679.8,555.5 680.3,554.0 680.8,553.2 681.4,554.0 681.9,555.8 682.5,556.9 683.0,556.3 683.5,554.5 684.1,553.3 684.6,554.2 685.2,556.3 685.7,557.5 686.2,556.4 686.8,553.9 687.3,552.4 687.9,553.0 688.4,554.9 688.9,556.4 689.5,556.5 690.0,555.6 690.6,554.8 691.1,554.5 691.6,554.8 692.2,555.4 692.7,556.0 693.3,556.5 693.8,556.6 694.3,556.1 694.9,554.9 695.4,553.6 696.0,553.0 696.5,553.7 697.0,555.2 697.6,556.8 698.1,557.7 698.7,557.7 699.2,557.0 699.7,555.9 700.3,554.9 700.8,554.4 701.4,554.6 701.9,555.4 702.4,556.4 703.0,556.8 703.5,556.2 704.1,555.2 704.6,555.0 705.1,556.0 705.7,557.4 706.2,557.9 706.8,556.9 707.3,555.4 707.8,554.7 708.4,555.6 708.9,557.2 709.5,557.9 710.0,556.7 710.5,554.5 711.1,553.2 711.6,554.4 712.2,557.6 712.7,560.4 713.2,560.5 713.8,557.7 714.3,554.2 714.9,552.6 715.4,553.8 715.9,556.3 716.5,558.1 717.0,558.2 717.5,556.9 718.1,555.7 718.6,555.3 719.2,556.1 719.7,557.3 720.2,557.6 720.8,556.8 721.3,555.5 721.9,555.0 722.4,555.6 722.9,556.4 723.5,556.5 724.0,556.1 724.6,556.2 725.1,556.9 725.6,557.4 726.2,556.8 726.7,555.4 727.3,553.9 727.8,553.5 728.3,554.4 728.9,556.2 729.4,557.9 730.0,558.5 730.5,557.5 731.0,555.5 731.6,553.8 732.1,553.2 732.7,553.3 733.2,553.9 733.7,554.4 734.3,554.8 734.8,555.4 735.4,556.6 735.9,558.4 736.4,559.5 737.0,558.3 737.5,554.8 738.1,551.5 738.6,550.6 739.1,552.8 739.7,556.0 740.2,557.8 740.8,557.3 741.3,555.5 741.8,554.1 742.4,554.0 742.9,554.9 743.5,555.7 744.0,555.6 744.5,554.9 745.1,554.3 745.6,554.3 746.2,555.0 746.7,555.8 747.2,555.9 747.8,555.4 748.3,555.0 748.9,555.3 749.4,556.3 749.9,557.0 750.5,556.5 751.0,555.0 751.6,553.6 752.1,553.6 752.6,554.7 753.2,556.0 753.7,556.4 754.3,555.9 754.8,555.3 755.3,555.3 755.9,555.9 756.4,556.5 757.0,556.7 757.5,556.8 758.0,556.8 758.6,556.5 759.1,555.7 759.7,554.9 760.2,554.7 760.7,555.3 761.3,556.0 761.8,556.3 762.4,556.1 762.9,555.9 763.4,555.9 764.0,556.1 764.5,556.4 765.1,556.7 765.6,556.9 766.1,556.7 766.7,555.8 767.2,554.9 767.8,554.7 768.3,555.6 768.8,557.2 769.4,558.5 769.9,558.6 770.5,557.4 771.0,555.4 771.5,554.0 772.1,554.0 772.6,555.2 773.2,556.7 773.7,557.4 774.2,557.3 774.8,556.7 775.3,556.5 775.9,556.5 776.4,556.5 776.9,556.1 777.5,555.5 778.0,555.4 778.6,556.0 779.1,556.9 779.6,557.3 780.2,557.0 780.7,556.4 781.3,556.1 781.8,556.2 782.3,556.1 782.9,555.3 783.4,554.3 784.0,554.3 784.5,555.8 785.0,557.8 785.6,558.7 786.1,557.7 786.7,555.4 787.2,553.6 787.7,553.5 788.3,555.2 788.8,557.5 789.4,558.6 789.9,557.6 790.4,555.2 791.0,553.1 791.5,552.6 792.1,554.1 792.6,556.4 793.1,558.1 793.7,558.4 794.2,557.1 794.7,554.9 795.3,553.1 795.8,552.7 796.4,554.1 796.9,556.5 797.4,558.0 798.0,557.8 798.5,556.1 799.1,554.4 799.6,554.1 800.1,555.1 800.7,556.4 801.2,556.9 801.8,556.4 802.3,555.6 802.8,555.0 803.4,554.7 803.9,554.7 804.5,555.1 805.0,555.8 805.5,556.6 806.1,557.0 806.6,556.7 807.2,555.9 807.7,555.1 808.2,554.6 808.8,554.5 809.3,554.7 809.9,555.4 810.4,556.3 810.9,556.7 811.5,556.2 812.0,555.2 812.6,554.5 813.1,554.9 813.6,555.9 814.2,556.3 814.7,555.8 815.3,555.0 815.8,555.0 816.3,555.8 816.9,556.6 817.4,556.3 818.0,555.2 818.5,554.2 819.0,554.1 819.6,555.0 820.1,556.1 820.7,556.4 821.2,555.6 821.7,554.6 822.3,554.3 822.8,555.0 823.4,555.8 823.9,555.8 824.4,555.0 825.0,554.3 825.5,554.6 826.1,555.6 826.6,556.2 827.1,556.0 827.7,555.2 828.2,554.4 828.8,554.3 829.3,554.6 829.8,555.1 830.4,555.5 830.9,555.6 831.5,555.6 832.0,555.5 832.5,555.6 833.1,555.7 833.6,555.6 834.2,555.2 834.7,554.7 835.2,554.6 835.8,555.2 836.3,556.0 836.9,556.3 837.4,555.9 837.9,555.1 838.5,554.9 839.0,555.3 839.6,556.2 840.1,556.8 840.6,556.8 841.2,556.4 841.7,555.6 842.3,554.6 842.8,553.8 843.3,553.7 843.9,554.8 844.4,556.9 845.0,558.4 845.5,558.0 846.0,555.8 846.6,553.8 847.1,553.4 847.7,554.2 848.2,554.9 848.7,555.3 849.3,555.6 849.8,556.2 850.4,556.4 850.9,555.9 851.4,555.0 852.0,554.9 852.5,555.7 853.1,556.5 853.6,556.6 854.1,555.7 854.7,554.1 855.2,552.7 855.8,552.1 856.3,553.1 856.8,555.3 857.4,557.6 857.9,558.3 858.5,556.8 859.0,554.2 859.5,552.4 860.1,552.4 860.6,553.8 861.2,555.4 861.7,556.3 862.2,556.2 862.8,555.6 863.3,555.0 863.9,554.6 864.4,554.8 864.9,555.7 865.5,556.9 866.0,557.1 866.6,555.7 867.1,553.8 867.6,553.4 868.2,554.8 868.7,556.6 869.2,556.6 869.8,554.9 870.3,553.3 870.9,553.7 871.4,555.7 871.9,557.6 872.5,557.8 873.0,556.6 873.6,555.1 874.1,554.1 874.6,553.8 875.2,554.3 875.7,555.2 876.3,556.0 876.8,556.5 877.3,556.5 877.9,556.2 878.4,555.8 879.0,555.3 879.5,554.7 880.0,554.4 880.6,554.6 881.1,555.4 881.7,556.4 882.2,556.7 882.7,556.0 883.3,554.7 883.8,553.9 884.4,554.3 884.9,555.3 885.4,556.2 886.0,556.4 886.5,555.9 887.1,555.3 887.6,554.6 888.1,554.1 888.7,554.1 889.2,554.7 889.8,555.6 890.3,556.1 890.8,555.7 891.4,554.8 891.9,554.3 892.5,554.6 893.0,555.2 893.5,555.5 894.1,555.0 894.6,554.2 895.2,554.1 895.7,555.1 896.2,556.3 896.8,556.5 897.3,555.3 897.9,553.8 898.4,553.3 898.9,554.1 899.5,555.1 900.0,555.3 900.6,555.2 901.1,555.4 901.6,556.0 902.2,556.2 902.7,555.4 903.3,553.8 903.8,552.7 904.3,552.7 904.9,554.0 905.4,555.9 906.0,557.7 906.5,558.1 907.0,556.8 907.6,554.2 908.1,552.2 908.7,552.2 909.2,553.9 909.7,556.0 910.3,556.9 910.8,556.5 911.4,555.7 911.9,555.0 912.4,554.6 913.0,554.2 913.5,554.3 914.1,555.1 914.6,556.1 915.1,556.5 915.7,556.0 916.2,554.8 916.8,554.1 917.3,554.3 917.8,555.0 918.4,555.6 918.9,555.8 919.5,555.9 920.0,555.7 920.5,555.0 921.1,554.3 921.6,554.5 922.2,555.8 922.7,557.2 923.2,557.2 923.8,555.6 924.3,553.7 924.9,553.0 925.4,554.0 925.9,555.7 926.5,556.9 927.0,556.9 927.6,555.8 928.1,554.6 928.6,554.2 929.2,555.0 929.7,556.2 930.3,556.9 930.8,556.7 931.3,555.8 931.9,554.8 932.4,554.2 933.0,553.9 933.5,554.1 934.0,555.1 934.6,556.9 935.1,558.3 935.7,558.3 936.2,556.6 936.7,554.4 937.3,553.3 937.8,553.6 938.4,554.5 938.9,555.1 939.4,555.3 940.0,555.5 940.5,556.2 941.1,557.1 941.6,557.4 942.1,556.8 942.7,555.7 943.2,554.7 943.8,554.5 944.3,555.0 944.8,555.5 945.4,555.9 945.9,556.1 946.4,556.2 947.0,556.3 947.5,556.4 948.1,556.3 948.6,555.7 949.1,554.8 949.7,554.0 950.2,554.3 950.8,555.7 951.3,557.4 951.8,557.8 952.4,556.5 952.9,554.3 953.5,553.2 954.0,554.3 954.5,556.8 955.1,558.5 955.6,557.9 956.2,555.3 956.7,552.9 957.2,552.5 957.8,554.6 958.3,557.8 958.9,559.9 959.4,559.7 959.9,557.1 960.5,553.8 961.0,552.1 961.6,553.2 962.1,555.8 962.6,557.7 963.2,557.3 963.7,555.5 964.3,554.0 964.8,554.2 965.3,555.6 965.9,557.1 966.4,557.6 967.0,557.0 967.5,555.7 968.0,554.5 968.6,554.2 969.1,555.2 969.7,556.8 970.2,557.4 970.7,556.3 971.3,554.7 971.8,553.8 972.4,554.0 972.9,554.6 973.4,555.1 974.0,556.1 974.5,557.6 975.1,558.2 975.6,557.1 976.1,554.9 976.7,553.8 977.2,554.8 977.8,556.5 978.3,557.1 978.8,555.9 979.4,554.1 979.9,553.3 980.5,554.1 981.0,555.9 981.5,557.4 982.1,557.9 982.6,557.3 983.2,555.9 983.7,554.7 984.2,554.4 984.8,554.7 985.3,555.3 985.9,555.6 986.4,555.8 986.9,555.9 987.5,555.9 988.0,555.3 988.6,554.2 989.1,553.6 989.6,554.2 990.2,555.7 990.7,556.9 991.3,556.9 991.8,555.8 992.3,554.5 992.9,554.0 993.4,554.5 994.0,555.5 994.5,556.3 995.0,556.4 995.6,555.7 996.1,554.7 996.7,554.5 997.2,555.2 997.7,556.1 998.3,556.2 998.8,555.4 999.4,554.5 999.9,554.4 1000.4,555.2 1001.0,556.1 1001.5,556.4 1002.1,556.0 1002.6,555.6 1003.1,555.5 1003.7,555.7 1004.2,555.9 1004.8,555.9 1005.3,555.9 1005.8,556.0 1006.4,556.2 1006.9,556.1 1007.5,555.9 1008.0,555.9 1008.5,556.3 1009.1,556.7 1009.6,556.4 1010.2,555.6 1010.7,554.9 1011.2,555.3 1011.8,556.6 1012.3,557.9 1012.9,558.3 1013.4,557.3 1013.9,555.5 1014.5,553.9 1015.0,553.7 1015.6,555.0 1016.1,557.1 1016.6,558.5 1017.2,558.2 1017.7,556.6 1018.3,555.1 1018.8,554.8 1019.3,555.6 1019.9,556.5 1020.4,556.5 1020.9,555.6 1021.5,554.9 1022.0,554.8 1022.6,555.5 1023.1,556.4 1023.6,556.7 1024.2,556.6 1024.7,556.1 1025.3,555.3 1025.8,554.6 1026.3,554.6 1026.9,555.5 1027.4,556.4 1028.0,556.5 1028.5,555.3 1029.0,553.9 1029.6,553.6 1030.1,554.7 1030.7,556.3 1031.2,557.2 1031.7,557.1 1032.3,556.5 1032.8,555.4 1033.4,553.9 1033.9,552.5 1034.4,552.5 1035.0,554.4 1035.5,557.1 1036.1,558.5 1036.6,557.4 1037.1,554.6 1037.7,552.5 1038.2,552.5 1038.8,554.2 1039.3,556.0 1039.8,556.8 1040.4,556.3 1040.9,555.3 1041.5,554.8 1042.0,555.1 1042.5,555.6 1043.1,555.7 1043.6,554.9 1044.2,554.0 1044.7,553.7 1045.2,554.4 1045.8,555.5 1046.3,556.1 1046.9,556.0 1047.4,555.6 1047.9,555.4 1048.5,555.2 1049.0,554.9 1049.6,554.6 1050.1,555.0 1050.6,556.0 1051.2,556.5 1051.7,555.6 1052.3,553.8 1052.8,552.7 1053.3,553.5 1053.9,555.5 1054.4,557.0 1055.0,556.9 1055.5,555.4 1056.0,553.7 1056.6,553.3 1057.1,554.6 1057.7,556.6 1058.2,557.7 1058.7,556.7 1059.3,554.3 1059.8,552.1 1060.4,551.7 1060.9,553.1 1061.4,555.5 1062.0,557.5 1062.5,558.1 1063.1,557.2 1063.6,555.3 1064.1,553.8 1064.7,553.7 1065.2,554.5 1065.8,555.1 1066.3,554.7 1066.8,554.1 1067.4,554.3 1067.9,555.2 1068.5,555.8 1069.0,555.5 1069.5,554.7 1070.1,554.6 1070.6,555.3 1071.2,556.1 1071.7,556.0 1072.2,554.8 1072.8,553.6 1073.3,553.4 1073.9,554.4 1074.4,555.9 1074.9,556.9 1075.5,556.8 1076.0,555.8 1076.6,554.6 1077.1,553.6 1077.6,553.2 1078.2,553.5 1078.7,554.6 1079.3,556.0 1079.8,556.6 1080.3,556.0 1080.9,554.6 1081.4,553.5 1082.0,553.5 1082.5,554.5 1083.0,555.7 1083.6,556.2 1084.1,555.9 1084.7,555.4 1085.2,555.1 1085.7,554.8 1086.3,554.4 1086.8,553.7 1087.4,553.4 1087.9,553.8 1088.4,554.9 1089.0,556.0 1089.5,556.4 1090.1,555.8 1090.6,554.9 1091.1,554.2 1091.7,553.9 1092.2,553.8 1092.8,553.6 1093.3,553.7 1093.8,554.4 1094.4,555.9 1094.9,557.6 1095.5,558.2 1096.0,556.7 1096.5,553.4 1097.1,550.3 1097.6,549.6 1098.1,551.9 1098.7,555.4 1099.2,557.6 1099.8,557.7 1100.3,556.4 1100.8,555.1 1101.4,554.5 1101.9,554.2 1102.5,553.8 1103.0,553.3 1103.5,553.2 1104.1,553.7 1104.6,554.8 1105.2,556.1 1105.7,556.8 1106.2,556.5 1106.8,555.4 1107.3,554.1 1107.9,553.6 1108.4,554.2 1108.9,555.3 1109.5,556.0 1110.0,555.7 1110.6,554.9 1111.1,554.5 1111.6,554.9 1112.2,555.8 1112.7,556.6 1113.3,556.5 1113.8,555.8 1114.3,555.2 1114.9,555.2 1115.4,555.8 1116.0,556.1 1116.5,555.5 1117.0,554.7 1117.6,554.7 1118.1,555.7 1118.7,556.9 1119.2,556.9 1119.7,555.8 1120.3,554.8 1120.8,555.2 1121.4,557.0 1121.9,558.5 1122.4,558.1 1123.0,556.1 1123.5,553.9 1124.1,553.2 1124.6,554.5 1125.1,556.6 1125.7,558.2 1126.2,558.4 1126.8,557.2 1127.3,555.7 1127.8,554.7 1128.4,554.7 1128.9,555.2 1129.5,556.2 1130.0,557.0 1130.5,557.1 1131.1,556.4 1131.6,555.2 1132.2,554.4 1132.7,554.4 1133.2,555.2 1133.8,556.2 1134.3,557.0 1134.9,557.2 1135.4,556.7 1135.9,555.7 1136.5,554.8 1137.0,554.4 1137.6,554.5 1138.1,555.0 1138.6,555.5 1139.2,555.6 1139.7,555.1 1140.3,554.4 1140.8,553.9 1141.3,554.4 1141.9,555.8 1142.4,557.1 1143.0,557.2 1143.5,555.8 1144.0,553.8 1144.6,552.5 1145.1,552.8 1145.7,554.4 1146.2,555.9 1146.7,556.3 1147.3,555.7 1147.8,554.6 1148.4,553.8 1148.9,553.7 1149.4,554.3 1150.0,555.3 1150.5,555.9 1151.1,555.6 1151.6,554.5 1152.1,553.7 1152.7,553.7 1153.2,554.6 1153.8,555.3 1154.3,555.2 1154.8,554.4 1155.4,553.8 1155.9,554.2 1156.5,555.0 1157.0,555.4 1157.5,555.1 1158.1,554.4 1158.6,554.0 1159.2,554.1 1159.7,554.8 1160.2,555.8 1160.8,557.0 1161.3,558.0 1161.9,557.5 1162.4,555.0 1162.9,551.6 1163.5,549.4 1164.0,550.1 1164.6,553.3 1165.1,556.8 1165.6,558.3 1166.2,557.0 1166.7,554.5 1167.3,553.5 1167.8,555.2 1168.3,558.2 1168.9,559.0 1169.4,556.1 1170.0,551.3 1170.5,549.3 1171.0,552.3 1171.6,557.9 1172.1,560.9 1172.7,559.0 1173.2,554.5 1173.7,551.7 1174.3,552.7 1174.8,555.6 1175.3,557.7 1175.9,557.3 1176.4,555.7 1177.0,554.7 1177.5,555.2 1178.0,556.4 1178.6,556.8 1179.1,555.4 1179.7,553.7 1180.2,553.3 1180.7,555.0 1181.3,557.3 1181.8,558.6 1182.4,558.0 1182.9,556.5 1183.4,555.3 1184.0,554.8 1184.5,554.5 1185.1,554.1 1185.6,554.2 1186.1,555.4 1186.7,557.2 1187.2,558.6 1187.8,558.5 1188.3,557.3 1188.8,555.8 1189.4,554.8 1189.9,554.9 1190.5,555.6 1191.0,556.6 1191.5,557.1 1192.1,556.7 1192.6,555.9 1193.2,555.3 1193.7,555.5 1194.2,556.2 1194.8,556.8 1195.3,556.8 1195.9,556.2 1196.4,555.8 1196.9,556.0 1197.5,556.7 1198.0,557.3 1198.6,557.5 1199.1,557.2 1199.6,556.4 1200.2,555.5 1200.7,554.9 1201.3,554.9 1201.8,555.6 1202.3,556.3 1202.9,556.3 1203.4,556.3 1204.0,556.9 1204.5,558.0 1205.0,558.6 1205.6,557.5 1206.1,555.3 1206.7,553.8 1207.2,554.2 1207.7,556.1 1208.3,557.9 1208.8,558.4 1209.4,557.5 1209.9,556.2 1210.4,555.3 1211.0,555.0 1211.5,555.2 1212.1,555.9 1212.6,557.0 1213.1,558.2 1213.7,558.6 1214.2,557.7 1214.8,555.9 1215.3,554.2 1215.8,553.6 1216.4,554.1 1216.9,555.3 1217.5,556.6 1218.0,557.8 1218.5,558.4 1219.1,557.7 1219.6,556.1 1220.2,554.8 1220.7,554.7 1221.2,555.5 1221.8,556.2 1222.3,556.1 1222.9,555.5 1223.4,555.1 1223.9,555.5 1224.5,556.2 1225.0,556.7 1225.6,556.3 1226.1,555.3 1226.6,554.4 1227.2,554.3 1227.7,554.9 1228.3,556.1 1228.8,557.0 1229.3,557.2 1229.9,556.5 1230.4,555.3 1231.0,554.1 1231.5,553.6 1232.0,553.9 1232.6,554.9 1233.1,556.0 1233.7,556.5 1234.2,556.1 1234.7,555.2 1235.3,554.4 1235.8,554.1 1236.4,554.2 1236.9,554.8 1237.4,555.8 1238.0,557.1 1238.5,557.5 1239.1,556.2 1239.6,553.9 1240.1,552.4 1240.7,553.2 1241.2,555.4 1241.8,557.0 1242.3,556.3 1242.8,554.2 1243.4,553.0 1243.9,553.8 1244.5,556.0 1245.0,557.5 1245.5,557.0 1246.1,555.0 1246.6,553.1 1247.2,552.5 1247.7,553.4 1248.2,554.8 1248.8,556.1 1249.3,557.0 1249.8,557.2 1250.4,556.5 1250.9,554.9 1251.5,553.1 1252.0,552.4 1252.5,553.3 1253.1,555.1 1253.6,556.3 1254.2,556.2 1254.7,555.0 1255.2,554.0 1255.8,553.9 1256.3,554.6 1256.9,555.2 1257.4,555.2 1257.9,554.5 1258.5,554.0 1259.0,554.4 1259.6,555.5 1260.1,556.4 1260.6,556.0 1261.2,554.7 1261.7,553.4 1262.3,552.9 1262.8,553.5 1263.3,554.5 1263.9,555.4 1264.4,555.9 1265.0,556.2 1265.5,556.4 1266.0,556.1 1266.6,555.0 1267.1,553.5 1267.7,552.5 1268.2,552.9 1268.7,554.8 1269.3,556.8 1269.8,557.6 1270.4,556.6 1270.9,554.8 1271.4,553.6 1272.0,553.8 1272.5,555.0 1273.1,556.1 1273.6,556.3 1274.1,555.6 1274.7,554.7 1275.2,554.2 1275.8,554.5 1276.3,555.3 1276.8,555.9 1277.4,556.1 1277.9,556.1 1278.5,556.0 1279.0,555.8 1279.5,555.6 1280.1,555.5 1280.6,555.4 1281.2,555.4 1281.7,555.4 1282.2,555.5 1282.8,555.9 1283.3,556.2 1283.9,556.1 1284.4,555.7 1284.9,555.3 1285.5,555.2 1286.0,555.6 1286.6,555.9 1287.1,555.8 1287.6,555.4 1288.2,555.1 1288.7,555.1 1289.3,555.3 1289.8,555.4 1290.3,555.5 1290.9,555.5 1291.4,555.7 1292.0,556.1 1292.5,556.4 1293.0,556.3 1293.6,555.5 1294.1,554.4 1294.7,554.0 1295.2,555.1 1295.7,557.2 1296.3,558.3 1296.8,557.0" fill="none" stroke="#d7d700" stroke-width="2.2" stroke-linejoin="round"/>
<polyline points="325.6,293.5 325.9,292.8 326.2,292.1 326.4,291.3 326.7,290.3 327.0,289.1 327.2,287.7 327.5,286.5 327.8,286.0 328.0,286.6 328.3,288.4 328.6,291.2 328.9,294.2 329.1,296.6 329.4,298.0 329.7,298.0 329.9,296.9 330.2,295.1 330.5,293.3 330.7,292.0 331.0,291.4 331.3,291.6 331.6,292.3 331.8,293.2 332.1,293.9 332.4,294.1 332.6,293.4 332.9,291.8 333.2,289.6 333.4,287.1 333.7,284.8 334.0,283.3 334.3,282.9 334.5,283.9 334.8,286.0 335.1,288.9 335.3,292.0 335.6,294.6 335.9,296.2 336.1,296.5 336.4,295.7 336.7,294.0 336.9,292.0 337.2,290.3 337.5,289.2 337.8,288.8 338.0,289.0 338.3,289.4 338.6,289.8 338.8,289.9 339.1,289.8 339.4,289.5 339.6,289.1 339.9,288.8 340.2,288.6 340.5,288.7 340.7,289.1 341.0,289.7 341.3,290.6 341.5,291.5 341.8,292.3 342.1,293.0 342.3,293.5 342.6,293.9 342.9,294.4 343.2,295.0 343.4,295.2 343.7,294.7 344.0,292.7 344.2,289.4 344.5,285.2 344.8,281.6 345.0,279.8 345.3,280.3 345.6,283.0 345.9,286.6 346.1,290.1 346.4,292.6 346.7,294.0 346.9,294.4 347.2,294.3 347.5,293.8 347.7,293.1 348.0,292.2 348.3,291.2 348.6,290.2 348.8,289.8 349.1,290.0 349.4,291.1 349.6,292.7 349.9,294.4 350.2,295.9 350.4,296.6 350.7,296.5 351.0,295.7 351.3,294.4 351.5,293.2 351.8,292.2 352.1,291.6 352.3,291.5 352.6,291.7 352.9,292.1 353.1,292.5 353.4,292.8 353.7,293.1 354.0,293.4 354.2,293.8 354.5,294.3 354.8,294.8 355.0,295.2 355.3,295.2 355.6,294.7 355.8,293.4 356.1,291.7 356.4,289.9 356.7,288.4 356.9,287.6 357.2,287.7 357.5,288.3 357.7,289.3 358.0,290.1 358.3,290.3 358.5,289.3 358.8,287.1 359.1,284.0 359.4,281.0 359.6,279.4 359.9,280.4 360.2,284.1 360.4,289.7 360.7,295.7 361.0,300.4 361.2,302.9 361.5,302.9 361.8,300.9 362.1,297.8 362.3,294.4 362.6,291.5 362.9,289.4 363.1,288.1 363.4,287.5 363.7,287.5 363.9,287.9 364.2,288.6 364.5,289.4 364.8,290.3 365.0,291.0 365.3,291.4 365.6,291.6 365.8,291.8 366.1,292.1 366.4,292.7 366.6,293.7 366.9,294.8 367.2,295.5 367.5,295.5 367.7,294.6 368.0,292.9 368.3,290.9 368.5,289.4 368.8,289.0 369.1,290.0 369.3,292.2 369.6,294.8 369.9,296.9 370.2,297.5 370.4,296.1 370.7,293.4 371.0,290.4 371.2,288.3 371.5,288.0 371.8,289.5 372.0,292.2 372.3,294.7 372.6,295.9 372.9,295.2 373.1,292.5 373.4,288.7 373.7,284.8 373.9,282.0 374.2,280.9 374.5,281.7 374.7,284.2 375.0,287.4 375.3,290.5 375.5,292.6 375.8,293.5 376.1,293.3 376.4,292.4 376.6,291.6 376.9,291.3 377.2,291.9 377.4,293.1 377.7,294.6 378.0,295.9 378.2,296.4 378.5,296.2 378.8,295.1 379.1,293.6 379.3,291.9 379.6,290.3 379.9,289.2 380.1,288.5 380.4,288.5 380.7,289.0 380.9,289.9 381.2,291.2 381.5,292.6 381.8,293.9 382.0,294.5 382.3,294.5 382.6,293.7 382.8,292.5 383.1,291.0 383.4,289.9 383.6,289.4 383.9,289.8 384.2,291.0 384.5,292.8 384.7,294.8 385.0,296.5 385.3,297.4 385.5,297.4 385.8,296.2 386.1,294.1 386.3,291.6 386.6,289.1 386.9,287.1 387.2,286.0 387.4,286.0 387.7,286.8 388.0,288.2 388.2,289.7 388.5,290.9 388.8,291.4 389.0,291.2 389.3,290.5 389.6,289.7 389.9,289.2 390.1,289.3 390.4,290.2 390.7,291.7 390.9,293.7 391.2,296.0 391.5,298.3 391.7,300.3 392.0,301.3 392.3,300.8 392.6,297.8 392.8,292.1 393.1,284.1 393.4,275.5 393.6,273.8 393.9,273.6 394.2,273.7 394.4,273.9 394.7,276.6 395.0,285.1 395.3,293.1 395.5,299.4 395.8,303.7 396.1,305.7 396.3,304.9 396.6,304.2 396.9,303.5 397.1,302.6 397.4,300.3 397.7,298.1 398.0,296.2 398.2,294.8 398.5,293.8 398.8,293.2 399.0,292.7 399.3,292.0 399.6,291.1 399.8,290.0 400.1,288.8 400.4,287.9 400.7,287.5 400.9,287.7 401.2,288.6 401.5,289.9 401.7,291.2 402.0,292.3 402.3,292.6 402.5,292.2 402.8,291.0 403.1,289.2 403.4,287.2 403.6,285.4 403.9,284.5 404.2,284.8 404.4,286.4 404.7,289.1 405.0,292.1 405.2,294.8 405.5,296.5 405.8,297.1 406.1,296.8 406.3,295.9 406.6,295.0 406.9,294.3 407.1,294.0 407.4,294.0 407.7,294.0 407.9,293.6 408.2,292.4 408.5,290.3 408.8,287.5 409.0,284.3 409.3,282.7 409.6,282.4 409.8,282.2 410.1,282.0 410.4,283.5 410.6,288.0 410.9,293.5 411.2,299.1 411.4,302.7 411.7,302.9 412.0,302.9 412.3,303.0 412.5,302.9 412.8,302.3 413.1,297.1 413.3,292.3 413.6,288.9 413.9,287.3 414.1,287.3 414.4,288.7 414.7,290.6 415.0,292.4 415.2,293.5 415.5,293.7 415.8,292.9 416.0,291.3 416.3,289.2 416.6,287.2 416.8,285.7 417.1,285.0 417.4,285.6 417.7,287.2 417.9,289.7 418.2,292.7 418.5,295.5 418.7,297.8 419.0,299.1 419.3,299.2 419.5,298.4 419.8,296.9 420.1,294.7 420.4,292.3 420.6,289.8 420.9,287.5 421.2,285.7 421.4,284.8 421.7,285.2 422.0,286.7 422.2,289.0 422.5,291.4 422.8,293.6 423.1,294.9 423.3,295.5 423.6,295.5 423.9,295.2 424.1,294.8 424.4,294.5 424.7,294.1 424.9,293.6 425.2,292.7 425.5,291.7 425.8,290.5 426.0,289.5 426.3,288.9 426.6,288.9 426.8,289.5 427.1,290.6 427.4,292.0 427.6,293.4 427.9,294.6 428.2,295.6 428.5,296.3 428.7,297.2 429.0,298.3 429.3,299.8 429.5,301.3 429.8,302.7 430.1,303.5 430.3,303.5 430.6,302.6 430.9,300.8 431.2,298.4 431.4,295.5 431.7,292.6 432.0,290.1 432.2,288.3 432.5,287.6 432.8,287.9 433.0,289.2 433.3,291.0 433.6,292.9 433.9,294.4 434.1,295.1 434.4,295.1 434.7,294.6 434.9,294.2 435.2,294.2 435.5,295.1 435.7,296.8 436.0,299.0 436.3,301.0 436.6,302.4 436.8,302.8 437.1,302.3 437.4,301.1 437.6,299.6 437.9,298.0 438.2,296.1 438.4,293.6 438.7,290.7 439.0,287.5 439.3,285.0 439.5,283.9 439.8,284.9 440.1,288.4 440.3,293.7 440.6,299.5 440.9,304.4 441.1,307.1 441.4,307.1 441.7,304.8 442.0,301.0 442.2,297.0 442.5,293.7 442.8,291.6 443.0,290.5 443.3,290.0 443.6,289.9 443.8,289.7 444.1,289.8 444.4,290.2 444.7,291.3 444.9,293.0 445.2,294.9 445.5,296.6 445.7,297.7 446.0,297.7 446.3,296.9 446.5,295.5 446.8,294.3 447.1,293.6 447.4,293.8 447.6,295.0 447.9,297.0 448.2,299.7 448.4,302.4 448.7,304.7 449.0,306.1 449.2,306.4 449.5,305.4 449.8,303.3 450.0,300.5 450.3,297.4 450.6,294.5 450.9,292.2 451.1,291.0 451.4,290.9 451.7,291.7 451.9,293.2 452.2,295.0 452.5,296.9 452.7,298.6 453.0,300.1 453.3,301.3 453.6,302.2 453.8,302.7 454.1,302.6 454.4,301.9 454.6,300.5 454.9,298.8 455.2,297.1 455.4,296.0 455.7,295.9 456.0,296.9 456.3,298.7 456.5,300.5 456.8,301.7 457.1,301.6 457.3,300.0 457.6,297.3 457.9,294.1 458.1,291.3 458.4,289.8 458.7,290.2 459.0,292.5 459.2,296.4 459.5,301.1 459.8,305.4 460.0,307.5 460.3,307.3 460.6,307.2 460.8,303.4 461.1,298.5 461.4,293.7 461.7,290.2 461.9,290.1 462.2,290.2 462.5,292.2 462.7,295.9 463.0,299.6 463.3,302.2 463.5,303.4 463.8,302.9 464.1,301.4 464.4,299.6 464.6,298.5 464.9,298.4 465.2,299.2 465.4,300.4 465.7,301.3 466.0,301.1 466.2,300.0 466.5,298.4 466.8,297.1 467.1,296.6 467.3,296.9 467.6,297.7 467.9,298.4 468.1,298.6 468.4,298.3 468.7,298.0 468.9,297.9 469.2,298.3 469.5,299.3 469.8,300.8 470.0,302.6 470.3,304.1 470.6,305.2 470.8,305.6 471.1,304.9 471.4,303.3 471.6,300.7 471.9,297.5 472.2,294.2 472.5,291.4 472.7,290.3 473.0,290.3 473.3,290.5 473.5,292.8 473.8,295.9 474.1,299.3 474.3,302.3 474.6,304.6 474.9,305.8 475.2,305.8 475.4,304.7 475.7,302.7 476.0,300.3 476.2,297.9 476.5,296.1 476.8,295.0 477.0,295.1 477.3,296.2 477.6,298.2 477.9,300.7 478.1,303.3 478.4,305.3 478.7,306.2 478.9,305.9 479.2,304.4 479.5,302.4 479.7,300.5 480.0,299.4 480.3,299.2 480.6,300.0 480.8,301.3 481.1,302.5 481.4,303.1 481.6,302.8 481.9,301.7 482.2,300.1 482.4,298.5 482.7,297.2 483.0,296.4 483.3,296.1 483.5,296.1 483.8,296.2 484.1,296.4 484.3,296.6 484.6,296.9 484.9,297.4 485.1,298.0 485.4,298.8 485.7,299.6 486.0,300.2 486.2,300.5 486.5,300.3 486.8,299.5 487.0,298.3 487.3,296.8 487.6,295.1 487.8,293.5 488.1,292.4 488.4,292.1 488.6,292.9 488.9,294.9 489.2,298.4 489.5,302.9 489.7,307.9 490.0,310.9 490.3,310.7 490.5,310.1 490.8,309.0 491.1,307.6 491.3,301.9 491.6,296.1 491.9,293.0 492.2,293.7 492.4,297.5 492.7,302.1 493.0,305.0 493.2,304.5 493.5,301.1 493.8,296.4 494.0,292.8 494.3,291.7 494.6,293.2 494.9,296.2 495.1,299.6 495.4,302.0 495.7,303.1 495.9,302.9 496.2,301.8 496.5,300.5 496.7,299.4 497.0,298.9 497.3,299.1 497.6,299.9 497.8,301.1 498.1,302.3 498.4,302.8 498.6,302.4 498.9,300.9 499.2,298.7 499.4,296.4 499.7,294.5 500.0,293.7 500.3,294.2 500.5,295.9 500.8,298.3 501.1,300.9 501.3,303.2 501.6,304.8 501.9,305.6 502.1,305.7 502.4,305.2 502.7,304.4 503.0,303.2 503.2,301.7 503.5,300.1 503.8,298.3 504.0,296.7 504.3,295.4 504.6,294.7 504.8,294.9 505.1,295.9 505.4,297.6 505.7,299.7 505.9,301.8 506.2,303.5 506.5,304.6 506.7,304.9 507.0,304.5 507.3,303.8 507.5,303.0 507.8,302.2 508.1,301.6 508.4,301.1 508.6,300.6 508.9,299.9 509.2,299.1 509.4,298.3 509.7,297.7 510.0,297.4 510.2,297.5 510.5,298.1 510.8,299.0 511.1,300.0 511.3,300.9 511.6,301.5 511.9,302.0 512.1,302.3 512.4,302.4 512.7,302.2 512.9,301.6 513.2,300.6 513.5,299.2 513.8,297.9 514.0,296.8 514.3,296.6 514.6,297.3 514.8,299.1 515.1,301.7 515.4,304.5 515.6,306.9 515.9,308.4 516.2,308.7 516.5,307.8 516.7,306.0 517.0,303.9 517.3,302.0 517.5,300.6 517.8,300.1 518.1,300.4 518.3,301.2 518.6,302.2 518.9,303.2 519.2,303.9 519.4,303.9 519.7,303.3 520.0,301.9 520.2,300.0 520.5,297.9 520.8,296.3 521.0,295.4 521.3,295.6 521.6,296.6 521.9,298.0 522.1,299.4 522.4,300.4 522.7,300.8 522.9,300.8 523.2,300.7 523.5,300.8 523.7,301.0 524.0,301.3 524.3,301.4 524.6,301.2 524.8,300.9 525.1,300.5 525.4,300.3 525.6,300.3 525.9,300.7 526.2,301.1 526.4,301.5 526.7,301.7 527.0,301.4 527.2,300.7 527.5,299.7 527.8,298.4 528.1,297.1 528.3,296.1 528.6,295.7 528.9,296.2 529.1,297.8 529.4,300.5 529.7,303.9 529.9,307.4 530.2,310.2 530.5,311.8 530.8,311.9 531.0,310.7 531.3,308.4 531.6,305.8 531.8,303.4 532.1,301.5 532.4,300.2 532.6,299.4 532.9,299.0 533.2,298.7 533.5,298.6 533.7,298.7 534.0,299.0 534.3,299.5 534.5,300.0 534.8,300.4 535.1,300.6 535.3,300.4 535.6,300.0 535.9,299.5 536.2,299.2 536.4,299.4 536.7,300.1 537.0,301.4 537.2,302.9 537.5,304.3 537.8,305.0 538.0,304.7 538.3,303.6 538.6,301.9 538.9,300.1 539.1,298.9 539.4,298.5 539.7,299.0 539.9,300.0 540.2,300.9 540.5,301.3 540.7,300.8 541.0,299.6 541.3,298.1 541.6,296.8 541.8,296.1 542.1,296.3 542.4,297.2 542.6,298.6 542.9,300.0 543.2,301.3 543.4,302.3 543.7,303.2 544.0,304.0 544.3,304.6 544.5,304.9 544.8,304.7 545.1,303.7 545.3,301.9 545.6,299.7 545.9,297.5 546.1,295.8 546.4,295.2 546.7,295.7 547.0,297.3 547.2,299.4 547.5,301.5 547.8,303.1 548.0,303.9 548.3,304.1 548.6,303.7 548.8,303.3 549.1,303.1 549.4,302.9 549.7,302.7 549.9,302.1 550.2,301.2 550.5,299.8 550.7,298.3 551.0,297.1 551.3,296.7 551.5,297.1 551.8,298.6 552.1,300.7 552.4,302.9 552.6,304.8 552.9,305.9 553.2,305.9 553.4,304.9 553.7,303.1 554.0,301.0 554.2,299.2 554.5,298.2 554.8,298.3 555.1,299.5 555.3,301.4 555.6,303.6 555.9,305.6 556.1,306.9 556.4,307.5 556.7,307.3 556.9,306.6 557.2,305.7 557.5,304.6 557.8,303.4 558.0,302.1 558.3,300.4 558.6,298.6 558.8,296.9 559.1,295.7 559.4,295.6 559.6,296.6 559.9,298.6 560.2,301.0 560.5,302.9 560.7,304.0 561.0,304.1 561.3,303.4 561.5,302.6 561.8,302.2 562.1,302.3 562.3,303.2 562.6,304.3 562.9,305.2 563.2,305.7 563.4,305.4 563.7,304.4 564.0,302.9 564.2,301.0 564.5,299.3 564.8,298.0 565.0,297.4 565.3,297.7 565.6,298.8 565.8,300.6 566.1,302.7 566.4,304.8 566.7,306.4 566.9,307.3 567.2,307.2 567.5,306.1 567.7,304.3 568.0,302.1 568.3,300.0 568.5,298.3 568.8,297.2 569.1,296.8 569.4,297.1 569.6,297.8 569.9,298.6 570.2,299.3 570.4,300.0 570.7,300.7 571.0,301.5 571.2,302.6 571.5,304.3 571.8,306.4 572.1,308.9 572.3,311.3 572.6,312.3 572.9,312.8 573.1,313.2 573.4,312.5 573.7,309.3 573.9,305.2 574.2,301.0 574.5,297.3 574.8,294.8 575.0,293.3 575.3,292.7 575.6,292.5 575.8,292.4 576.1,292.5 576.4,293.1 576.6,294.5 576.9,297.0 577.2,300.3 577.5,303.8 577.7,306.7 578.0,308.0 578.3,307.4 578.5,305.0 578.8,301.6 579.1,298.0 579.3,295.1 579.6,293.5 579.9,293.1 580.2,293.8 580.4,295.2 580.7,297.1 581.0,299.4 581.2,301.9 581.5,304.5 581.8,307.1 582.0,309.2 582.3,310.3 582.6,310.5 582.9,309.2 583.1,306.8 583.4,303.8 583.7,300.7 583.9,298.5 584.2,297.5 584.5,297.8 584.7,299.0 585.0,300.3 585.3,301.1 585.6,301.1 585.8,300.3 586.1,299.0 586.4,297.9 586.6,297.1 586.9,296.9 587.2,297.4 587.4,298.5 587.7,300.0 588.0,302.0 588.3,303.9 588.5,305.4 588.8,306.0 589.1,305.5 589.3,303.8 589.6,301.4 589.9,299.0 590.1,297.5 590.4,297.5 590.7,299.1 591.0,302.1 591.2,305.7 591.5,309.0 591.8,311.4 592.0,311.5 592.3,311.3 592.6,309.0 592.8,305.9 593.1,302.5 593.4,299.5 593.7,297.2 593.9,295.9 594.2,295.3 594.5,295.4 594.7,295.9 595.0,296.6 595.3,297.5 595.5,298.5 595.8,299.9 596.1,301.6 596.4,303.8 596.6,306.2 596.9,308.8 597.2,310.9 597.4,312.3 597.7,312.4 598.0,311.1 598.2,308.3 598.5,304.4 598.8,300.0 599.1,295.7 599.3,292.5 599.6,290.9 599.9,291.0 600.1,292.6 600.4,295.1 600.7,297.8 600.9,300.0 601.2,301.4 601.5,302.1 601.8,302.3 602.0,302.5 602.3,302.9 602.6,303.6 602.8,304.6 603.1,305.4 603.4,305.8 603.6,305.4 603.9,304.2 604.2,302.5 604.4,300.9 604.7,299.8 605.0,299.5 605.3,300.0 605.5,301.2 605.8,302.4 606.1,303.4 606.3,303.9 606.6,303.8 606.9,303.3 607.1,302.5 607.4,301.6 607.7,300.7 608.0,300.0 608.2,299.6 608.5,299.7 608.8,300.5 609.0,301.9 609.3,303.8 609.6,305.8 609.8,307.6 610.1,308.9 610.4,309.3 610.7,308.7 610.9,307.2 611.2,305.1 611.5,302.8 611.7,300.7 612.0,299.1 612.3,298.4 612.5,298.5 612.8,299.2 613.1,300.5 613.4,301.8 613.6,302.9 613.9,303.6 614.2,303.9 614.4,303.8 614.7,303.8 615.0,304.1 615.2,304.9 615.5,306.3 615.8,307.8 616.1,309.1 616.3,309.5 616.6,308.8 616.9,307.2 617.1,305.0 617.4,302.8 617.7,300.9 617.9,299.5 618.2,298.6 618.5,298.1 618.8,298.1 619.0,298.7 619.3,300.0 619.6,302.0 619.8,304.6 620.1,307.3 620.4,309.6 620.6,311.0 620.9,311.0 621.2,309.4 621.5,306.3 621.7,302.2 622.0,297.7 622.3,293.5 622.5,291.0 622.8,290.7 623.1,291.4 623.3,295.0 623.6,299.7 623.9,304.6 624.2,308.7 624.4,311.3 624.7,312.1 625.0,311.5 625.2,309.8 625.5,307.7 625.8,305.5 626.0,303.8 626.3,302.6 626.6,302.2 626.9,302.6 627.1,303.5 627.4,304.7 627.7,305.7 627.9,306.3 628.2,306.3 628.5,305.6 628.7,304.5 629.0,303.1 629.3,301.6 629.6,300.3 629.8,299.5 630.1,299.5 630.4,300.3 630.6,302.2 630.9,304.7 631.2,307.5 631.4,310.0 631.7,311.5 632.0,311.7 632.3,310.9 632.5,308.8 632.8,306.1 633.1,303.7 633.3,302.2 633.6,301.8 633.9,302.7 634.1,304.2 634.4,305.9 634.7,306.9 635.0,307.0 635.2,306.0 635.5,304.3 635.8,302.4 636.0,300.8 636.3,300.0 636.6,300.1 636.8,301.1 637.1,302.6 637.4,304.3 637.7,305.9 637.9,307.2 638.2,308.3 638.5,309.2 638.7,309.8 639.0,310.0 639.3,309.8 639.5,309.1 639.8,307.8 640.1,306.2 640.3,304.5 640.6,303.0 640.9,302.0 641.2,301.8 641.4,302.5 641.7,303.8 642.0,305.4 642.2,307.1 642.5,308.4 642.8,309.0 643.0,308.7 643.3,307.4 643.6,305.4 643.9,303.1 644.1,301.0 644.4,299.5 644.7,299.1 644.9,299.6 645.2,301.1 645.5,303.0 645.7,305.0 646.0,306.5 646.3,307.0 646.6,306.3 646.8,304.4 647.1,301.6 647.4,299.1 647.6,298.2 647.9,300.1 648.2,304.8 648.4,311.3 648.7,317.4 649.0,320.8 649.3,320.6 649.5,317.2 649.8,312.6 650.1,308.6 650.3,306.4 650.6,306.2 650.9,307.0 651.1,308.1 651.4,308.7 651.7,308.9 652.0,308.6 652.2,308.1 652.5,307.5 652.8,306.7 653.0,305.7 653.3,304.5 653.6,303.1 653.8,302.0 654.1,301.3 654.4,301.3 654.7,302.0 654.9,303.3 655.2,304.7 655.5,305.9 655.7,306.7 656.0,306.9 656.3,306.5 656.5,305.9 656.8,305.3 657.1,304.9 657.4,304.9 657.6,305.3 657.9,306.2 658.2,307.3 658.4,308.3 658.7,309.0 659.0,309.3 659.2,309.0 659.5,308.3 659.8,307.5 660.1,306.8 660.3,306.5 660.6,306.8 660.9,307.7 661.1,309.0 661.4,310.2 661.7,310.8 661.9,310.3 662.2,308.5 662.5,305.4 662.8,301.6 663.0,297.6 663.3,294.8 663.6,294.5 663.8,294.4 664.1,294.4 664.4,296.1 664.6,300.3 664.9,305.2 665.2,310.3 665.5,314.9 665.7,318.3 666.0,318.1 666.3,317.9 666.5,317.7 666.8,316.8 667.1,313.7 667.3,310.5 667.6,307.9 667.9,306.2 668.2,305.6 668.4,305.9 668.7,306.7 669.0,307.6 669.2,308.2 669.5,308.5 669.8,308.4 670.0,308.3 670.3,308.2 670.6,308.4 670.9,308.7 671.1,309.2 671.4,309.5 671.7,309.5 671.9,308.9 672.2,307.7 672.5,306.0 672.7,304.0 673.0,302.2 673.3,301.0 673.6,300.8 673.8,301.8 674.1,303.8 674.4,306.3 674.6,308.8 674.9,310.5 675.2,311.2 675.4,310.8 675.7,309.4 676.0,307.7 676.3,306.1 676.5,305.0 676.8,304.8 677.1,305.4 677.3,306.7 677.6,308.5 677.9,310.4 678.1,311.9 678.4,312.9 678.7,313.3 678.9,313.2 679.2,312.9 679.5,312.5 679.8,312.0 680.0,311.2 680.3,309.9 680.6,308.0 680.8,305.7 681.1,303.3 681.4,301.6 681.6,300.9 681.9,301.6 682.2,303.4 682.5,306.0 682.7,308.9 683.0,311.4 683.3,313.2 683.5,314.3 683.8,314.7 684.1,314.5 684.3,314.0 684.6,313.3 684.9,312.4 685.2,311.1 685.4,309.3 685.7,307.2 686.0,304.8 686.2,302.7 686.5,301.4 686.8,301.7 687.0,303.5 687.3,306.4 687.6,309.7 687.9,312.2 688.1,313.1 688.4,312.2 688.7,309.9 688.9,307.1 689.2,304.9 689.5,303.7 689.7,304.0 690.0,305.4 690.3,307.5 690.6,309.6 690.8,311.2 691.1,312.1 691.4,312.2 691.6,311.6 691.9,310.7 692.2,309.6 692.4,308.6 692.7,307.8 693.0,307.1 693.3,306.5 693.5,306.1 693.8,305.9 694.1,306.0 694.3,306.3 694.6,307.0 694.9,307.7 695.1,308.4 695.4,308.8 695.7,308.7 696.0,308.1 696.2,307.2 696.5,306.3 696.8,305.9 697.0,306.3 697.3,307.5 697.6,309.4 697.8,311.5 698.1,313.3 698.4,314.4 698.7,314.6 698.9,313.7 699.2,312.2 699.5,310.5 699.7,308.9 700.0,308.0 700.3,307.9 700.5,308.5 700.8,309.5 701.1,310.2 701.4,310.4 701.6,309.6 701.9,308.1 702.2,306.3 702.4,304.8 702.7,304.0 703.0,304.2 703.2,305.2 703.5,306.8 703.8,308.4 704.1,309.8 704.3,310.6 704.6,310.9 704.9,310.8 705.1,310.7 705.4,310.9 705.7,311.3 705.9,311.9 706.2,312.3 706.5,312.4 706.8,311.7 707.0,310.3 707.3,308.6 707.6,307.0 707.8,306.0 708.1,305.8 708.4,306.2 708.6,307.0 708.9,307.8 709.2,308.2 709.5,308.1 709.7,307.6 710.0,306.9 710.3,306.3 710.5,306.3 710.8,307.0 711.1,308.3 711.3,310.3 711.6,312.6 711.9,314.8 712.2,316.6 712.4,317.5 712.7,317.2 713.0,315.7 713.2,313.3 713.5,310.3 713.8,307.5 714.0,305.5 714.3,304.6 714.6,304.6 714.9,305.1 715.1,305.5 715.4,305.3 715.7,304.4 715.9,303.4 716.2,302.9 716.5,303.3 716.7,304.9 717.0,307.4 717.3,310.3 717.5,312.8 717.8,314.6 718.1,315.6 718.4,315.7 718.6,315.2 718.9,314.3 719.2,313.1 719.4,311.4 719.7,309.2 720.0,306.7 720.2,304.3 720.5,302.5 720.8,301.9 721.1,302.8 721.3,304.9 721.6,307.7 721.9,310.4 722.1,312.4 722.4,313.2 722.7,312.9 722.9,311.8 723.2,310.5 723.5,309.4 723.8,308.7 724.0,308.3 724.3,308.0 724.6,307.6 724.8,307.1 725.1,306.6 725.4,306.2 725.6,306.3 725.9,307.2 726.2,309.0 726.5,311.5 726.7,314.6 727.0,317.3 727.3,317.5 727.5,317.6 727.8,317.7 728.1,316.1 728.3,312.1 728.6,308.1 728.9,304.7 729.2,302.7 729.4,302.1 729.7,302.8 730.0,304.2 730.2,305.8 730.5,307.3 730.8,308.5 731.0,309.3 731.3,309.7 731.6,309.9 731.9,310.0 732.1,310.0 732.4,310.1 732.7,310.3 732.9,310.6 733.2,310.6 733.5,310.1 733.7,309.1 734.0,307.6 734.3,305.9 734.6,304.4 734.8,303.7 735.1,303.8 735.4,304.8 735.6,306.3 735.9,308.0 736.2,309.4 736.4,310.4 736.7,310.8 737.0,310.9 737.3,310.6 737.5,310.1 737.8,309.3 738.1,308.3 738.3,307.3 738.6,306.7 738.9,306.8 739.1,307.8 739.4,309.5 739.7,311.4 740.0,312.8 740.2,313.0 740.5,311.7 740.8,309.3 741.0,306.4 741.3,304.1 741.6,303.0 741.8,303.5 742.1,305.5 742.4,308.5 742.7,311.8 742.9,314.8 743.2,317.1 743.5,318.4 743.7,318.7 744.0,317.9 744.3,316.3 744.5,314.0 744.8,311.5 745.1,309.2 745.4,307.3 745.6,306.0 745.9,305.5 746.2,305.6 746.4,306.2 746.7,307.2 747.0,308.3 747.2,309.3 747.5,310.0 747.8,310.3 748.1,310.2 748.3,309.7 748.6,309.0 748.9,308.3 749.1,307.8 749.4,307.6 749.7,307.8 749.9,308.3 750.2,309.1 750.5,310.0 750.8,310.8 751.0,311.4 751.3,311.7 751.6,311.7 751.8,311.5 752.1,311.3 752.4,311.0 752.6,310.7 752.9,310.3 753.2,309.5 753.5,308.3 753.7,306.7 754.0,304.8 754.3,303.1 754.5,301.9 754.8,301.9 755.1,303.0 755.3,305.3 755.6,308.2 755.9,311.1 756.1,313.3 756.4,314.6 756.7,315.1 757.0,315.1 757.2,315.1 757.5,315.3 757.8,315.6 758.0,315.8 758.3,315.4 758.6,313.9 758.8,311.2 759.1,307.7 759.4,304.0 759.7,300.9 759.9,299.5 760.2,300.3 760.5,303.3 760.7,307.9 761.0,313.0 761.3,317.4 761.5,320.2 761.8,320.8 762.1,319.4 762.4,316.2 762.6,312.1 762.9,307.7 763.2,303.8 763.4,301.0 763.7,300.6 764.0,300.7 764.2,301.7 764.5,304.8 764.8,308.8 765.1,312.9 765.3,316.5 765.6,318.7 765.9,319.2 766.1,317.9 766.4,315.2 766.7,311.6 766.9,308.0 767.2,305.4 767.5,304.1 767.8,304.4 768.0,306.0 768.3,308.3 768.6,310.6 768.8,312.2 769.1,312.7 769.4,312.2 769.6,310.7 769.9,308.9 770.2,307.1 770.5,305.7 770.7,304.8 771.0,304.5 771.3,304.6 771.5,305.0 771.8,305.6 772.1,306.4 772.3,307.4 772.6,308.5 772.9,309.6 773.2,310.7 773.4,311.6 773.7,312.2 774.0,312.3 774.2,312.1 774.5,311.7 774.8,311.3 775.0,311.1 775.3,310.9 775.6,310.7 775.9,310.3 776.1,309.6 776.4,308.8 776.7,308.2 776.9,308.1 777.2,308.9 777.5,310.6 777.7,313.1 778.0,316.0 778.3,317.4 778.6,317.5 778.8,317.8 779.1,318.1 779.4,315.3 779.6,311.1 779.9,306.7 780.2,302.9 780.4,300.3 780.7,300.0 781.0,300.0 781.3,300.3 781.5,302.0 781.8,304.2 782.1,306.7 782.3,309.3 782.6,311.8 782.9,313.8 783.1,315.1 783.4,315.3 783.7,314.4 784.0,312.6 784.2,310.2 784.5,307.6 784.8,305.2 785.0,303.6 785.3,303.0 785.6,303.5 785.8,305.3 786.1,308.1 786.4,311.4 786.7,314.5 786.9,316.9 787.2,317.8 787.5,317.2 787.7,315.4 788.0,312.9 788.3,310.6 788.5,308.8 788.8,307.9 789.1,307.6 789.4,307.7 789.6,307.7 789.9,307.4 790.2,306.8 790.4,306.3 790.7,306.2 791.0,306.9 791.2,308.2 791.5,309.8 791.8,311.2 792.1,312.0 792.3,312.3 792.6,312.3 792.9,312.1 793.1,312.1 793.4,312.2 793.7,312.1 793.9,311.4 794.2,309.9 794.5,307.2 794.7,303.6 795.0,299.8 795.3,297.2 795.6,297.5 795.8,302.1 796.1,310.8 796.4,321.6 796.6,331.1 796.9,336.1 797.2,334.6 797.4,327.6 797.7,317.7 798.0,308.3 798.3,302.1 798.5,300.0 798.8,301.3 799.1,304.5 799.3,308.0 799.6,310.5 799.9,311.6 800.1,311.4 800.4,310.3 800.7,309.3 801.0,309.1 801.2,310.1 801.5,312.1 801.8,314.4 802.0,316.2 802.3,316.7 802.6,315.4 802.8,312.7 803.1,309.2 803.4,305.8 803.7,303.5 803.9,302.9 804.2,304.2 804.5,306.7 804.7,309.8 805.0,312.4 805.3,313.8 805.5,313.5 805.8,311.7 806.1,309.1 806.4,306.5 806.6,304.6 806.9,304.1 807.2,305.2 807.4,307.6 807.7,310.7 808.0,313.9 808.2,316.4 808.5,317.8 808.8,317.8 809.1,316.5 809.3,314.5 809.6,312.1 809.9,310.1 810.1,308.6 810.4,307.8 810.7,307.4 810.9,307.2 811.2,306.9 811.5,306.4 811.8,306.1 812.0,306.2 812.3,306.9 812.6,308.2 812.8,310.0 813.1,311.9 813.4,313.5 813.6,314.5 813.9,314.5 814.2,313.7 814.5,312.2 814.7,310.5 815.0,308.9 815.3,307.9 815.5,307.5 815.8,307.9 816.1,308.9 816.3,310.2 816.6,311.8 816.9,313.3 817.2,314.5 817.4,315.3 817.7,315.6 818.0,315.4 818.2,314.7 818.5,313.5 818.8,311.9 819.0,310.0 819.3,307.7 819.6,305.4 819.9,303.5 820.1,302.4 820.4,302.5 820.7,303.8 820.9,306.0 821.2,308.4 821.5,310.2 821.7,311.1 822.0,310.9 822.3,310.0 822.6,309.2 822.8,309.0 823.1,309.6 823.4,311.0 823.6,312.8 823.9,314.5 824.2,315.7 824.4,316.1 824.7,315.6 825.0,314.5 825.3,312.9 825.5,311.1 825.8,309.4 826.1,307.9 826.3,306.8 826.6,305.9 826.9,305.3 827.1,304.9 827.4,304.7 827.7,304.9 828.0,305.6 828.2,306.8 828.5,308.5 828.8,310.6 829.0,312.8 829.3,314.8 829.6,316.4 829.8,317.2 830.1,317.1 830.4,316.2 830.6,314.4 830.9,312.3 831.2,310.1 831.5,308.3 831.7,307.3 832.0,307.1 832.3,307.5 832.5,308.2 832.8,308.6 833.1,308.5 833.3,307.9 833.6,307.0 833.9,306.3 834.2,306.3 834.4,307.2 834.7,309.2 835.0,312.0 835.2,315.1 835.5,317.7 835.8,319.3 836.0,319.5 836.3,318.2 836.6,315.4 836.9,311.9 837.1,308.3 837.4,305.3 837.7,303.5 837.9,303.1 838.2,304.2 838.5,306.5 838.7,309.3 839.0,312.0 839.3,314.2 839.6,315.4 839.8,315.7 840.1,315.2 840.4,314.3 840.6,313.3 840.9,312.5 841.2,311.8 841.4,311.1 841.7,310.3 842.0,309.3 842.3,308.2 842.5,307.5 842.8,307.5 843.1,308.2 843.3,309.5 843.6,310.9 843.9,312.0 844.1,312.3 844.4,311.9 844.7,310.8 845.0,309.5 845.2,308.4 845.5,307.8 845.8,307.8 846.0,308.2 846.3,308.8 846.6,309.4 846.8,309.9 847.1,310.3 847.4,310.8 847.7,311.4 847.9,312.0 848.2,312.4 848.5,312.4 848.7,311.7 849.0,310.5 849.3,308.8 849.5,307.3 849.8,306.4 850.1,306.5 850.4,307.9 850.6,310.2 850.9,313.1 851.2,315.7 851.4,317.3 851.7,317.8 852.0,317.0 852.2,315.3 852.5,313.3 852.8,311.2 853.1,309.7 853.3,308.8 853.6,308.5 853.9,308.7 854.1,309.1 854.4,309.5 854.7,309.9 854.9,310.0 855.2,310.0 855.5,309.8 855.8,309.5 856.0,309.3 856.3,309.2 856.6,309.5 856.8,310.2 857.1,311.4 857.4,313.0 857.6,314.5 857.9,315.5 858.2,315.4 858.5,313.8 858.7,310.8 859.0,306.9 859.3,303.0 859.5,300.3 859.8,299.8 860.1,301.6 860.3,305.9 860.6,311.7 860.9,317.7 861.2,321.4 861.4,321.3 861.7,321.2 862.0,321.0 862.2,318.5 862.5,313.1 862.8,307.8 863.0,303.8 863.3,301.6 863.6,301.6 863.9,303.4 864.1,306.3 864.4,309.5 864.7,312.2 864.9,313.8 865.2,314.1 865.5,313.5 865.7,312.3 866.0,311.0 866.3,310.2 866.6,310.1 866.8,310.6 867.1,311.7 867.4,313.0 867.6,313.9 867.9,314.0 868.2,313.1 868.4,311.1 868.7,308.5 869.0,306.0 869.2,304.3 869.5,303.8 869.8,304.6 870.1,306.2 870.3,307.8 870.6,308.8 870.9,309.0 871.1,308.5 871.4,307.7 871.7,307.2 871.9,307.1 872.2,307.6 872.5,308.5 872.8,309.4 873.0,310.1 873.3,310.6 873.6,310.8 873.8,311.0 874.1,311.2 874.4,311.6 874.6,312.2 874.9,313.0 875.2,314.0 875.5,314.9 875.7,315.9 876.0,316.7 876.3,317.1 876.5,317.1 876.8,316.3 877.1,314.9 877.3,312.9 877.6,310.7 877.9,308.4 878.2,306.5 878.4,305.3 878.7,305.0 879.0,305.8 879.2,307.7 879.5,310.3 879.8,313.1 880.0,315.4 880.3,316.7 880.6,316.6 880.9,315.1 881.1,312.5 881.4,309.3 881.7,306.4 881.9,304.4 882.2,303.6 882.5,304.2 882.7,305.9 883.0,308.2 883.3,310.5 883.6,312.1 883.8,312.9 884.1,312.8 884.4,312.0 884.6,310.9 884.9,309.9 885.2,309.6 885.4,310.0 885.7,311.2 886.0,312.8 886.3,314.4 886.5,315.5 886.8,315.7 887.1,315.0 887.3,313.7 887.6,312.3 887.9,311.2 888.1,310.8 888.4,311.0 888.7,311.4 889.0,311.5 889.2,311.1 889.5,310.3 889.8,309.6 890.0,309.3 890.3,309.8 890.6,311.1 890.8,312.8 891.1,314.4 891.4,315.2 891.7,314.9 891.9,313.1 892.2,310.3 892.5,306.9 892.7,303.8 893.0,302.0 893.3,302.1 893.5,302.2 893.8,304.7 894.1,308.0 894.4,311.3 894.6,314.0 894.9,315.5 895.2,316.0 895.4,315.5 895.7,314.7 896.0,314.0 896.2,313.6 896.5,313.5 896.8,313.5 897.1,313.4 897.3,312.9 897.6,311.9 897.9,310.7 898.1,309.4 898.4,308.5 898.7,308.1 898.9,308.3 899.2,308.8 899.5,309.4 899.8,309.8 900.0,310.0 900.3,310.1 900.6,310.3 900.8,310.8 901.1,311.5 901.4,312.5 901.6,313.4 901.9,314.2 902.2,314.6 902.5,314.6 902.7,314.4 903.0,314.0 903.3,313.6 903.5,313.4 903.8,313.2 904.1,313.1 904.3,312.7 904.6,312.1 904.9,311.3 905.2,310.3 905.4,309.3 905.7,308.4 906.0,307.9 906.2,307.9 906.5,308.2 906.8,309.0 907.0,310.1 907.3,311.5 907.6,313.0 907.8,314.2 908.1,314.8 908.4,314.3 908.7,312.8 908.9,310.4 909.2,307.6 909.5,305.1 909.7,303.4 910.0,302.9 910.3,303.7 910.5,305.4 910.8,307.6 911.1,309.8 911.4,311.3 911.6,312.0 911.9,311.8 912.2,311.0 912.4,310.1 912.7,309.3 913.0,309.0 913.2,309.3 913.5,310.1 913.8,311.2 914.1,312.4 914.3,313.4 914.6,314.1 914.9,314.6 915.1,314.8 915.4,314.8 915.7,314.6 915.9,314.4 916.2,314.0 916.5,313.6 916.8,313.1 917.0,312.3 917.3,311.3 917.6,309.9 917.8,308.4 918.1,306.8 918.4,305.5 918.6,305.0 918.9,305.5 919.2,307.0 919.5,309.5 919.7,312.5 920.0,315.5 920.3,317.8 920.5,319.1 920.8,318.9 921.1,317.5 921.3,314.9 921.6,312.0 921.9,309.4 922.2,308.0 922.4,308.2 922.7,310.0 923.0,313.0 923.2,316.4 923.5,319.2 923.8,320.9 924.0,321.1 924.3,319.8 924.6,317.5 924.9,314.4 925.1,311.0 925.4,307.7 925.7,305.0 925.9,303.2 926.2,302.8 926.5,303.4 926.7,305.3 927.0,308.0 927.3,311.0 927.6,314.0 927.8,316.6 928.1,318.4 928.4,319.2 928.6,319.2 928.9,318.5 929.2,317.4 929.4,316.2 929.7,315.1 930.0,314.1 930.3,313.1 930.5,311.8 930.8,310.2 931.1,308.5 931.3,306.8 931.6,305.8 931.9,305.6 932.1,306.3 932.4,307.6 932.7,309.0 933.0,310.1 933.2,310.6 933.5,310.5 933.8,310.2 934.0,309.7 934.3,309.2 934.6,308.5 934.8,307.2 935.1,305.6 935.4,304.5 935.7,305.1 935.9,308.9 936.2,316.0 936.5,325.1 936.7,333.0 937.0,337.1 937.3,335.7 937.5,329.7 937.8,321.6 938.1,314.2 938.4,309.5 938.6,307.5 938.9,307.6 939.2,308.6 939.4,309.8 939.7,310.7 940.0,311.4 940.2,311.9 940.5,312.1 940.8,312.1 941.1,312.1 941.3,312.1 941.6,312.1 941.9,312.3 942.1,312.3 942.4,312.3 942.7,312.0 942.9,311.4 943.2,310.7 943.5,309.9 943.8,309.5 944.0,309.5 944.3,310.2 944.6,311.4 944.8,312.9 945.1,314.4 945.4,315.5 945.6,316.0 945.9,316.1 946.2,316.1 946.4,315.9 946.7,315.8 947.0,315.6 947.3,315.3 947.5,315.0 947.8,314.7 948.1,314.8 948.3,315.3 948.6,316.1 948.9,316.8 949.1,316.9 949.4,316.0 949.7,314.2 950.0,311.8 950.2,309.5 950.5,308.0 950.8,307.8 951.0,309.0 951.3,311.2 951.6,313.8 951.8,316.4 952.1,318.4 952.4,319.3 952.7,319.2 952.9,317.9 953.2,315.7 953.5,312.8 953.7,309.8 954.0,307.1 954.3,305.1 954.5,304.4 954.8,305.1 955.1,307.1 955.4,309.7 955.6,312.2 955.9,313.9 956.2,314.4 956.4,313.7 956.7,312.4 957.0,311.1 957.2,310.5 957.5,310.7 957.8,311.9 958.1,313.4 958.3,314.8 958.6,315.4 958.9,315.0 959.1,313.8 959.4,312.1 959.7,310.7 959.9,309.8 960.2,309.9 960.5,310.8 960.8,312.3 961.0,313.7 961.3,314.5 961.6,314.3 961.8,313.1 962.1,311.2 962.4,309.1 962.6,307.4 962.9,306.6 963.2,307.0 963.5,308.6 963.7,311.0 964.0,313.6 964.3,316.0 964.5,317.8 964.8,319.1 965.1,320.0 965.3,320.9 965.6,321.5 965.9,321.8 966.2,321.5 966.4,320.3 966.7,318.3 967.0,315.9 967.2,313.5 967.5,311.6 967.8,310.5 968.0,310.1 968.3,310.3 968.6,310.9 968.9,311.6 969.1,312.4 969.4,313.3 969.7,314.2 969.9,315.2 970.2,316.2 970.5,317.0 970.7,317.6 971.0,317.7 971.3,317.2 971.6,316.4 971.8,315.2 972.1,313.9 972.4,312.7 972.6,311.7 972.9,311.1 973.2,310.7 973.4,310.4 973.7,310.0 974.0,309.6 974.3,309.0 974.5,308.2 974.8,307.2 975.1,306.2 975.3,305.4 975.6,305.1 975.9,305.6 976.1,307.0 976.4,309.3 976.7,312.2 977.0,315.3 977.2,317.9 977.5,319.4 977.8,319.5 978.0,318.1 978.3,315.5 978.6,312.3 978.8,309.4 979.1,307.8 979.4,308.0 979.7,310.1 979.9,313.8 980.2,318.2 980.5,322.1 980.7,323.5 981.0,323.6 981.3,323.7 981.5,320.8 981.8,317.1 982.1,313.6 982.4,310.7 982.6,308.8 982.9,307.8 983.2,307.3 983.4,307.2 983.7,307.3 984.0,307.6 984.2,308.3 984.5,309.3 984.8,310.8 985.0,312.5 985.3,314.3 985.6,315.8 985.9,316.8 986.1,317.2 986.4,317.0 986.7,316.1 986.9,314.8 987.2,313.4 987.5,312.1 987.7,311.3 988.0,311.3 988.3,311.9 988.6,313.1 988.8,314.5 989.1,315.7 989.4,316.5 989.6,316.7 989.9,316.4 990.2,315.8 990.4,315.0 990.7,314.3 991.0,313.5 991.3,312.6 991.5,311.7 991.8,310.8 992.1,310.3 992.3,310.5 992.6,311.6 992.9,313.7 993.1,316.3 993.4,318.7 993.7,320.4 994.0,320.7 994.2,319.4 994.5,316.9 994.8,313.8 995.0,310.8 995.3,308.5 995.6,307.3 995.8,307.1 996.1,307.8 996.4,309.1 996.7,310.8 996.9,312.6 997.2,314.2 997.5,315.3 997.7,315.7 998.0,315.4 998.3,314.6 998.5,313.3 998.8,312.0 999.1,311.0 999.4,310.5 999.6,310.8 999.9,312.0 1000.2,314.0 1000.4,316.5 1000.7,319.0 1001.0,320.7 1001.2,320.9 1001.5,319.3 1001.8,316.0 1002.1,311.9 1002.3,308.2 1002.6,305.9 1002.9,305.6 1003.1,307.2 1003.4,310.0 1003.7,313.3 1003.9,316.3 1004.2,318.3 1004.5,319.4 1004.8,319.5 1005.0,318.7 1005.3,317.1 1005.6,315.0 1005.8,312.6 1006.1,310.4 1006.4,309.0 1006.6,308.7 1006.9,309.6 1007.2,311.6 1007.5,314.0 1007.7,316.1 1008.0,317.5 1008.3,318.0 1008.5,317.8 1008.8,317.1 1009.1,316.3 1009.3,315.5 1009.6,314.4 1009.9,312.9 1010.2,310.9 1010.4,309.0 1010.7,308.0 1011.0,309.2 1011.2,312.9 1011.5,318.6 1011.8,324.8 1012.0,329.5 1012.3,331.1 1012.6,329.3 1012.9,324.8 1013.1,319.0 1013.4,313.2 1013.7,308.5 1013.9,305.6 1014.2,304.8 1014.5,305.7 1014.7,307.6 1015.0,309.7 1015.3,310.9 1015.6,311.1 1015.8,310.7 1016.1,310.6 1016.4,311.4 1016.6,313.3 1016.9,315.9 1017.2,318.3 1017.4,319.8 1017.7,320.2 1018.0,319.6 1018.3,318.3 1018.5,316.8 1018.8,315.4 1019.1,314.1 1019.3,313.2 1019.6,312.6 1019.9,312.6 1020.1,313.3 1020.4,314.6 1020.7,316.5 1020.9,318.4 1021.2,319.8 1021.5,320.3 1021.8,319.4 1022.0,317.3 1022.3,314.1 1022.6,310.5 1022.8,307.3 1023.1,305.3 1023.4,305.1 1023.6,306.9 1023.9,310.4 1024.2,314.9 1024.5,319.3 1024.7,322.3 1025.0,323.2 1025.3,321.7 1025.5,318.4 1025.8,314.1 1026.1,310.1 1026.3,307.2 1026.6,306.0 1026.9,306.2 1027.2,307.3 1027.4,308.7 1027.7,309.8 1028.0,310.7 1028.2,311.6 1028.5,312.8 1028.8,314.7 1029.0,316.9 1029.3,319.2 1029.6,321.0 1029.9,322.0 1030.1,322.1 1030.4,321.5 1030.7,320.4 1030.9,319.0 1031.2,317.3 1031.5,315.1 1031.7,312.3 1032.0,308.8 1032.3,305.2 1032.6,302.6 1032.8,302.6 1033.1,302.7 1033.4,305.3 1033.6,309.8 1033.9,314.4 1034.2,317.6 1034.4,318.7 1034.7,317.5 1035.0,314.7 1035.3,311.5 1035.5,309.0 1035.8,308.1 1036.1,309.2 1036.3,312.0 1036.6,315.7 1036.9,319.4 1037.1,322.0 1037.4,322.9 1037.7,321.8 1038.0,319.0 1038.2,315.1 1038.5,311.2 1038.8,308.2 1039.0,306.9 1039.3,307.4 1039.6,309.3 1039.8,312.0 1040.1,314.4 1040.4,316.0 1040.7,316.6 1040.9,316.4 1041.2,315.8 1041.5,315.4 1041.7,315.5 1042.0,315.8 1042.3,315.9 1042.5,315.0 1042.8,312.4 1043.1,308.4 1043.4,304.8 1043.6,304.0 1043.9,308.3 1044.2,318.3 1044.4,331.7 1044.7,344.0 1045.0,350.6 1045.2,348.9 1045.5,339.8 1045.8,327.1 1046.1,315.2 1046.3,307.2 1046.6,303.8 1046.9,304.1 1047.1,306.2 1047.4,308.8 1047.7,311.1 1047.9,312.8 1048.2,314.1 1048.5,314.9 1048.8,315.3 1049.0,315.4 1049.3,315.5 1049.6,315.8 1049.8,316.3 1050.1,317.0 1050.4,317.7 1050.6,318.0 1050.9,318.1 1051.2,317.8 1051.5,317.4 1051.7,316.8 1052.0,316.0 1052.3,314.7 1052.5,313.0 1052.8,311.1 1053.1,309.6 1053.3,309.0 1053.6,309.6 1053.9,311.5 1054.2,313.9 1054.4,316.1 1054.7,317.3 1055.0,317.1 1055.2,315.7 1055.5,313.6 1055.8,311.3 1056.0,309.6 1056.3,308.6 1056.6,308.5 1056.9,309.2 1057.1,310.6 1057.4,312.5 1057.7,314.8 1057.9,317.4 1058.2,320.2 1058.5,322.5 1058.7,324.1 1059.0,324.3 1059.3,323.2 1059.5,320.9 1059.8,317.8 1060.1,314.5 1060.4,311.6 1060.6,309.6 1060.9,308.7 1061.2,308.6 1061.4,309.2 1061.7,310.1 1062.0,310.9 1062.2,311.7 1062.5,312.3 1062.8,313.1 1063.1,314.1 1063.3,315.4 1063.6,317.0 1063.9,318.5 1064.1,319.8 1064.4,320.5 1064.7,320.6 1064.9,320.0 1065.2,319.0 1065.5,317.7 1065.8,316.2 1066.0,314.7 1066.3,313.2 1066.6,311.5 1066.8,309.8 1067.1,308.2 1067.4,307.0 1067.6,306.4 1067.9,306.9 1068.2,308.5 1068.5,310.9 1068.7,313.3 1069.0,315.1 1069.3,315.8 1069.5,315.3 1069.8,314.1 1070.1,313.2 1070.3,313.3 1070.6,314.5 1070.9,316.6 1071.2,318.5 1071.4,319.6 1071.7,319.2 1072.0,317.5 1072.2,315.2 1072.5,312.9 1072.8,311.5 1073.0,311.5 1073.3,312.7 1073.6,314.9 1073.9,317.5 1074.1,319.9 1074.4,321.3 1074.7,321.6 1074.9,320.5 1075.2,318.4 1075.5,315.9 1075.7,313.9 1076.0,313.0 1076.3,313.6 1076.6,315.6 1076.8,318.0 1077.1,319.7 1077.4,320.0 1077.6,318.3 1077.9,315.3 1078.2,311.7 1078.4,308.6 1078.7,306.7 1079.0,306.2 1079.3,306.7 1079.5,307.9 1079.8,309.5 1080.1,311.3 1080.3,313.3 1080.6,315.1 1080.9,316.5 1081.1,317.2 1081.4,317.1 1081.7,316.4 1082.0,315.5 1082.2,314.8 1082.5,314.6 1082.8,314.8 1083.0,315.1 1083.3,315.2 1083.6,314.9 1083.8,314.2 1084.1,313.5 1084.4,313.1 1084.7,313.2 1084.9,313.7 1085.2,314.4 1085.5,315.1 1085.7,315.7 1086.0,316.1 1086.3,316.4 1086.5,317.0 1086.8,317.7 1087.1,318.6 1087.4,319.4 1087.6,319.8 1087.9,319.5 1088.2,318.5 1088.4,316.8 1088.7,314.6 1089.0,312.6 1089.2,311.3 1089.5,311.2 1089.8,312.6 1090.1,315.0 1090.3,317.6 1090.6,319.2 1090.9,319.1 1091.1,317.1 1091.4,313.6 1091.7,310.0 1091.9,307.4 1092.2,306.6 1092.5,307.6 1092.8,309.9 1093.0,313.0 1093.3,316.3 1093.6,319.4 1093.8,322.0 1094.1,324.2 1094.4,325.5 1094.6,325.8 1094.9,324.9 1095.2,322.5 1095.5,319.0 1095.7,314.8 1096.0,310.8 1096.3,307.7 1096.5,306.0 1096.8,305.9 1097.1,307.3 1097.3,309.6 1097.6,312.2 1097.9,314.3 1098.1,315.5 1098.4,315.9 1098.7,316.3 1099.0,317.4 1099.2,319.6 1099.5,322.6 1099.8,325.1 1100.0,326.0 1100.3,324.5 1100.6,321.3 1100.8,317.6 1101.1,314.9 1101.4,313.9 1101.7,314.5 1101.9,316.0 1102.2,317.6 1102.5,318.6 1102.7,318.6 1103.0,317.8 1103.3,316.4 1103.5,314.7 1103.8,312.8 1104.1,311.1 1104.4,309.9 1104.6,309.2 1104.9,309.3 1105.2,310.1 1105.4,311.4 1105.7,312.7 1106.0,313.8 1106.2,314.3 1106.5,314.3 1106.8,314.1 1107.1,313.8 1107.3,313.9 1107.6,314.6 1107.9,315.7 1108.1,317.0 1108.4,318.4 1108.7,319.4 1108.9,319.9 1109.2,319.6 1109.5,318.6 1109.8,316.9 1110.0,314.8 1110.3,312.8 1110.6,311.1 1110.8,310.2 1111.1,310.1 1111.4,310.6 1111.6,311.4 1111.9,311.9 1112.2,311.9 1112.5,311.3 1112.7,310.2 1113.0,309.2 1113.3,308.8 1113.5,309.4 1113.8,311.1 1114.1,313.6 1114.3,316.4 1114.6,318.6 1114.9,319.7 1115.2,319.4 1115.4,318.1 1115.7,316.0 1116.0,313.9 1116.2,312.2 1116.5,311.2 1116.8,310.9 1117.0,311.2 1117.3,311.9 1117.6,312.9 1117.9,314.0 1118.1,315.2 1118.4,316.4 1118.7,317.6 1118.9,318.5 1119.2,319.0 1119.5,318.9 1119.7,318.0 1120.0,316.6 1120.3,314.8 1120.6,313.2 1120.8,312.0 1121.1,311.6 1121.4,312.0 1121.6,313.0 1121.9,314.3 1122.2,315.5 1122.4,316.4 1122.7,316.6 1123.0,316.2 1123.3,315.2 1123.5,313.8 1123.8,312.5 1124.1,311.5 1124.3,311.4 1124.6,312.4 1124.9,314.5 1125.1,317.5 1125.4,321.0 1125.7,324.2 1126.0,326.1 1126.2,326.0 1126.5,323.7 1126.8,319.6 1127.0,314.8 1127.3,310.6 1127.6,308.0 1127.8,307.5 1128.1,308.7 1128.4,311.0 1128.7,313.8 1128.9,316.8 1129.2,319.8 1129.5,322.5 1129.7,324.4 1130.0,324.8 1130.3,323.4 1130.5,320.7 1130.8,317.3 1131.1,314.4 1131.4,312.4 1131.6,311.4 1131.9,311.2 1132.2,311.3 1132.4,311.6 1132.7,312.1 1133.0,312.8 1133.2,313.8 1133.5,315.2 1133.8,316.8 1134.1,318.2 1134.3,319.2 1134.6,319.2 1134.9,317.9 1135.1,315.4 1135.4,311.7 1135.7,307.7 1135.9,304.3 1136.2,303.8 1136.5,303.5 1136.7,305.4 1137.0,310.0 1137.3,315.0 1137.6,319.3 1137.8,321.5 1138.1,321.4 1138.4,319.3 1138.6,316.4 1138.9,313.7 1139.2,312.3 1139.4,312.2 1139.7,313.2 1140.0,314.9 1140.3,316.5 1140.5,317.8 1140.8,318.5 1141.1,318.9 1141.3,319.0 1141.6,319.1 1141.9,319.2 1142.1,319.1 1142.4,318.9 1142.7,318.4 1143.0,317.6 1143.2,316.6 1143.5,315.5 1143.8,314.3 1144.0,313.0 1144.3,311.6 1144.6,310.1 1144.8,308.6 1145.1,307.5 1145.4,307.0 1145.7,307.4 1145.9,309.2 1146.2,312.2 1146.5,316.0 1146.7,320.1 1147.0,323.5 1147.3,325.3 1147.5,324.8 1147.8,322.2 1148.1,317.9 1148.4,313.2 1148.6,309.2 1148.9,306.9 1149.2,306.7 1149.4,308.5 1149.7,311.5 1150.0,314.8 1150.2,317.7 1150.5,319.8 1150.8,321.0 1151.1,321.3 1151.3,320.9 1151.6,320.1 1151.9,318.8 1152.1,317.1 1152.4,315.2 1152.7,313.2 1152.9,311.5 1153.2,310.5 1153.5,310.3 1153.8,311.0 1154.0,312.1 1154.3,312.7 1154.6,312.1 1154.8,310.3 1155.1,307.7 1155.4,305.4 1155.6,304.9 1155.9,306.8 1156.2,311.3 1156.5,317.3 1156.7,323.4 1157.0,326.3 1157.3,326.2 1157.5,326.1 1157.8,326.1 1158.1,322.3 1158.3,317.8 1158.6,313.9 1158.9,311.0 1159.2,309.0 1159.4,307.6 1159.7,306.4 1160.0,305.2 1160.2,304.0 1160.5,303.8 1160.8,304.0 1161.0,304.2 1161.3,305.2 1161.6,308.3 1161.9,312.3 1162.1,316.5 1162.4,320.1 1162.7,322.5 1162.9,323.4 1163.2,322.9 1163.5,321.5 1163.7,319.6 1164.0,317.9 1164.3,316.7 1164.6,316.1 1164.8,315.9 1165.1,315.8 1165.4,315.2 1165.6,313.9 1165.9,312.0 1166.2,309.8 1166.4,308.2 1166.7,307.7 1167.0,308.9 1167.3,311.5 1167.5,315.0 1167.8,318.6 1168.1,321.4 1168.3,323.2 1168.6,324.0 1168.9,324.0 1169.1,323.3 1169.4,321.9 1169.7,320.1 1170.0,318.0 1170.2,316.0 1170.5,314.3 1170.8,313.3 1171.0,313.0 1171.3,313.3 1171.6,313.8 1171.8,314.3 1172.1,314.7 1172.4,314.8 1172.7,314.8 1172.9,314.8 1173.2,315.0 1173.5,315.2 1173.7,315.5 1174.0,315.5 1174.3,315.0 1174.5,314.0 1174.8,312.6 1175.1,311.3 1175.3,310.8 1175.6,311.3 1175.9,313.1 1176.2,315.8 1176.4,319.0 1176.7,321.8 1177.0,322.7 1177.2,322.8 1177.5,321.9 1177.8,318.6 1178.0,314.6 1178.3,310.8 1178.6,307.9 1178.9,306.6 1179.1,306.7 1179.4,307.8 1179.7,309.3 1179.9,310.4 1180.2,310.9 1180.5,311.0 1180.7,310.9 1181.0,311.1 1181.3,311.7 1181.6,312.8 1181.8,314.1 1182.1,315.4 1182.4,316.6 1182.6,317.7 1182.9,318.8 1183.2,319.7 1183.4,320.4 1183.7,320.6 1184.0,320.0 1184.3,318.6 1184.5,316.5 1184.8,314.3 1185.1,312.7 1185.3,312.3 1185.6,313.6 1185.9,316.3 1186.1,319.7 1186.4,322.4 1186.7,323.2 1187.0,321.4 1187.2,317.1 1187.5,311.3 1187.8,305.6 1188.0,303.4 1188.3,303.4 1188.6,303.4 1188.8,303.5 1189.1,307.1 1189.4,311.2 1189.7,314.8 1189.9,317.4 1190.2,319.1 1190.5,320.0 1190.7,320.3 1191.0,320.1 1191.3,319.8 1191.5,319.4 1191.8,318.9 1192.1,318.3 1192.4,317.6 1192.6,316.9 1192.9,316.2 1193.2,315.3 1193.4,314.4 1193.7,313.6 1194.0,313.0 1194.2,313.1 1194.5,314.0 1194.8,315.5 1195.1,317.2 1195.3,318.4 1195.6,318.5 1195.9,317.3 1196.1,315.1 1196.4,312.6 1196.7,310.7 1196.9,309.8 1197.2,310.1 1197.5,311.2 1197.8,312.5 1198.0,313.7 1198.3,314.2 1198.6,314.2 1198.8,313.6 1199.1,312.8 1199.4,312.0 1199.6,311.5 1199.9,311.4 1200.2,312.0 1200.5,313.0 1200.7,314.2 1201.0,315.4 1201.3,316.0 1201.5,315.9 1201.8,315.2 1202.1,314.1 1202.3,313.2 1202.6,312.9 1202.9,313.2 1203.2,314.2 1203.4,315.4 1203.7,316.7 1204.0,317.9 1204.2,318.8 1204.5,319.5 1204.8,319.9 1205.0,319.9 1205.3,319.2 1205.6,317.8 1205.9,315.9 1206.1,313.7 1206.4,311.8 1206.7,310.6 1206.9,310.2 1207.2,310.8 1207.5,312.1 1207.7,313.8 1208.0,315.7 1208.3,317.5 1208.6,318.9 1208.8,319.8 1209.1,320.0 1209.4,319.5 1209.6,318.1 1209.9,316.0 1210.2,313.4 1210.4,310.6 1210.7,308.1 1211.0,306.5 1211.3,306.1 1211.5,307.0 1211.8,309.0 1212.1,311.9 1212.3,314.9 1212.6,317.6 1212.9,319.4 1213.1,320.2 1213.4,320.2 1213.7,319.5 1213.9,318.7 1214.2,318.1 1214.5,317.7 1214.8,317.6 1215.0,317.5 1215.3,317.2 1215.6,316.6 1215.8,315.9 1216.1,315.2 1216.4,314.6 1216.6,314.3 1216.9,314.3 1217.2,314.5 1217.5,314.8 1217.7,315.1 1218.0,315.5 1218.3,316.0 1218.5,316.5 1218.8,317.1 1219.1,317.6 1219.3,317.8 1219.6,317.5 1219.9,316.7 1220.2,315.5 1220.4,313.9 1220.7,312.3 1221.0,310.8 1221.2,309.8 1221.5,309.4 1221.8,309.5 1222.0,310.1 1222.3,311.1 1222.6,312.3 1222.9,313.6 1223.1,314.7 1223.4,315.8 1223.7,316.9 1223.9,317.8 1224.2,318.7 1224.5,319.3 1224.7,319.4 1225.0,318.8 1225.3,317.4 1225.6,315.3 1225.8,312.6 1226.1,309.8 1226.4,307.4 1226.6,306.0 1226.9,305.9 1227.2,307.2 1227.4,309.8 1227.7,313.0 1228.0,316.3 1228.3,319.1 1228.5,321.1 1228.8,322.1 1229.1,321.9 1229.3,320.6 1229.6,318.4 1229.9,315.6 1230.1,312.9 1230.4,310.8 1230.7,310.0 1231.0,310.8 1231.2,312.8 1231.5,315.5 1231.8,318.1 1232.0,320.1 1232.3,321.1 1232.6,321.0 1232.8,320.1 1233.1,318.7 1233.4,317.0 1233.7,315.3 1233.9,313.8 1234.2,312.6 1234.5,311.8 1234.7,311.5 1235.0,311.4 1235.3,311.7 1235.5,312.3 1235.8,313.3 1236.1,314.5 1236.4,316.0 1236.6,317.5 1236.9,318.6 1237.2,319.0 1237.4,318.5 1237.7,317.2 1238.0,315.4 1238.2,313.5 1238.5,311.7 1238.8,310.4 1239.1,309.6 1239.3,309.4 1239.6,309.7 1239.9,310.5 1240.1,311.8 1240.4,313.6 1240.7,315.5 1240.9,317.2 1241.2,318.2 1241.5,318.2 1241.8,317.3 1242.0,315.7 1242.3,313.8 1242.6,312.1 1242.8,311.3 1243.1,311.4 1243.4,312.4 1243.6,313.9 1243.9,315.5 1244.2,316.6 1244.5,317.2 1244.7,317.2 1245.0,316.8 1245.3,316.3 1245.5,315.7 1245.8,314.9 1246.1,313.7 1246.3,312.0 1246.6,310.0 1246.9,308.4 1247.2,307.8 1247.4,308.6 1247.7,310.7 1248.0,313.7 1248.2,316.7 1248.5,319.2 1248.8,320.7 1249.0,320.9 1249.3,319.9 1249.6,318.1 1249.8,315.7 1250.1,313.3 1250.4,311.2 1250.7,309.7 1250.9,308.9 1251.2,308.7 1251.5,308.7 1251.7,308.5 1252.0,308.0 1252.3,307.2 1252.5,306.8 1252.8,307.3 1253.1,309.2 1253.4,312.6 1253.6,316.8 1253.9,321.0 1254.2,323.5 1254.4,323.1 1254.7,322.7 1255.0,320.3 1255.2,316.5 1255.5,312.9 1255.8,310.4 1256.1,309.2 1256.3,309.5 1256.6,310.7 1256.9,312.2 1257.1,313.6 1257.4,314.5 1257.7,314.9 1257.9,315.0 1258.2,314.9 1258.5,315.0 1258.8,315.1 1259.0,315.0 1259.3,314.6 1259.6,313.9 1259.8,313.0 1260.1,312.1 1260.4,311.6 1260.6,311.5 1260.9,311.7 1261.2,311.9 1261.5,312.0 1261.7,311.8 1262.0,311.6 1262.3,311.7 1262.5,312.5 1262.8,313.8 1263.1,315.5 1263.3,316.8 1263.6,317.4 1263.9,316.8 1264.2,315.1 1264.4,312.6 1264.7,309.9 1265.0,307.3 1265.2,305.2 1265.5,304.4 1265.8,304.4 1266.0,304.9 1266.3,306.9 1266.6,309.6 1266.9,312.8 1267.1,316.0 1267.4,318.8 1267.7,320.7 1267.9,321.4 1268.2,320.9 1268.5,319.4 1268.7,317.2 1269.0,314.7 1269.3,312.4 1269.6,310.4 1269.8,309.2 1270.1,308.5 1270.4,308.6 1270.6,309.1 1270.9,310.1 1271.2,311.4 1271.4,312.7 1271.7,314.0 1272.0,315.1 1272.3,316.1 1272.5,317.0 1272.8,318.0 1273.1,319.0 1273.3,319.8 1273.6,320.0 1273.9,319.1 1274.1,317.0 1274.4,313.8 1274.7,310.2 1275.0,306.7 1275.2,304.2 1275.5,303.5 1275.8,303.2 1276.0,304.7 1276.3,306.9 1276.6,309.3 1276.8,311.5 1277.1,313.5 1277.4,315.4 1277.7,317.4 1277.9,319.6 1278.2,321.6 1278.5,323.2 1278.7,323.8 1279.0,323.0 1279.3,320.7 1279.5,317.1 1279.8,312.9 1280.1,308.7 1280.4,305.3 1280.6,303.2 1280.9,302.7 1281.2,303.9 1281.4,306.3 1281.7,309.5 1282.0,312.7 1282.2,315.3 1282.5,317.0 1282.8,317.7 1283.1,317.5 1283.3,316.7 1283.6,315.3 1283.9,313.5 1284.1,311.5 1284.4,309.5 1284.7,308.1 1284.9,307.8 1285.2,308.8 1285.5,311.1 1285.8,314.3 1286.0,317.5 1286.3,319.9 1286.6,320.4 1286.8,320.3 1287.1,319.3 1287.4,317.0 1287.6,314.4 1287.9,311.9 1288.2,309.7 1288.4,307.9 1288.7,306.6 1289.0,305.9 1289.3,305.9 1289.5,306.7 1289.8,308.5 1290.1,310.8 1290.3,313.2 1290.6,315.2 1290.9,316.2 1291.1,316.3 1291.4,315.8 1291.7,315.0 1292.0,314.5 1292.2,314.7 1292.5,315.4 1292.8,316.4 1293.0,317.3 1293.3,317.5 1293.6,316.8 1293.8,315.3 1294.1,313.3 1294.4,311.4 1294.7,309.8 1294.9,309.0 1295.2,309.0 1295.5,309.8 1295.7,311.1 1296.0,312.7 1296.3,314.3 1296.5,315.4 1296.8,316.0 1297.1,315.9" fill="none" stroke="#40d0d0" stroke-width="1" stroke-linejoin="round"/>
<polyline points="323.9,287.9 328.8,287.9 333.7,287.9 338.6,287.9 343.5,287.9 348.4,288.0 353.3,288.0 358.2,288.0 363.1,288.0 368.0,288.0 372.9,288.0 377.8,288.0 382.7,288.0 387.6,288.1 392.5,288.1 397.4,288.1 402.3,288.1 407.2,288.1 412.1,288.1 417.0,288.1 421.9,288.1 426.8,288.1 431.7,288.2 436.6,288.2 441.5,288.2 446.4,288.2 451.3,288.2 456.2,288.2 461.1,288.2 466.0,288.2 470.9,288.3 475.8,288.3 480.7,288.3 485.6,288.3 490.5,288.3 495.4,288.3 500.3,288.3 505.2,288.3 510.1,288.3 515.0,288.4 519.9,288.4 524.8,288.4 529.7,288.4 534.6,288.4 539.5,288.4 544.4,288.4 549.3,288.4 554.2,288.5 559.1,288.5 564.0,288.5 568.9,288.5 573.8,288.5 578.7,288.5 583.6,288.5 588.5,288.5 593.4,288.5 598.3,288.6 603.2,288.6 608.1,288.6 613.0,288.6 617.9,288.6 622.8,288.6 627.7,288.6 632.6,288.6 637.5,288.7 642.4,288.7 647.3,288.7 652.2,288.7 657.1,288.7 662.0,288.7 666.9,288.7 671.8,288.7 676.7,288.7 681.6,288.8 686.5,288.8 691.4,288.8 696.3,288.8 701.2,288.8 706.1,288.8 711.0,288.8 715.9,288.8 720.8,288.8 725.7,288.9 730.6,288.9 735.5,288.9 740.4,288.9 745.3,288.9 750.2,288.9 755.1,288.9 760.0,288.9 764.9,288.9 769.8,288.9 774.7,288.9 779.6,289.0 784.5,289.0 789.4,289.0 794.3,289.0 799.2,289.0 804.1,289.0 809.0,289.0 813.8,289.0 818.7,289.0 823.6,289.0 828.5,289.1 833.4,289.1 838.3,289.1 843.2,289.1 848.1,289.1 853.0,289.1 857.9,289.1 862.8,289.1 867.7,289.1 872.6,289.1 877.5,289.2 882.4,289.2 887.3,289.2 892.2,289.2 897.1,289.2 902.0,289.2 906.9,289.2 911.8,289.2 916.7,289.2 921.6,289.2 926.5,289.3 931.4,289.3 936.3,289.3 941.2,289.3 946.1,289.3 951.0,289.3 955.9,289.3 960.8,289.3 965.7,289.3 970.6,289.3 975.5,289.4 980.4,289.4 985.3,289.4 990.2,289.4 995.1,289.4 1000.0,289.4 1004.9,289.4 1009.8,289.4 1014.7,289.4 1019.6,289.4 1024.5,289.4 1029.4,289.5 1034.3,289.5 1039.2,289.5 1044.1,289.5 1049.0,289.5 1053.9,289.5 1058.8,289.5 1063.7,289.5 1068.6,289.5 1073.5,289.5 1078.4,289.6 1083.3,289.6 1088.2,289.6 1093.1,289.6 1098.0,289.6 1102.9,289.6 1107.8,289.6 1112.7,289.6 1117.6,289.7 1122.5,289.7 1127.4,289.7 1132.3,289.7 1137.2,289.7 1142.1,289.7 1147.0,289.7 1151.9,289.8 1156.8,289.8 1161.7,289.8 1166.6,289.8 1171.5,289.8 1176.4,289.8 1181.3,289.8 1186.2,289.9 1191.1,289.9 1196.0,289.9 1200.9,289.9 1205.8,289.9 1210.7,289.9 1215.6,289.9 1220.5,290.0 1225.4,290.0 1230.3,290.0 1235.2,290.0 1240.1,290.0 1245.0,290.0 1249.9,290.1 1254.8,290.1 1259.7,290.1 1264.6,290.1 1269.5,290.1 1274.4,290.1 1279.3,290.1 1284.2,290.2 1289.1,290.2 1294.0,290.2 1298.9,290.2" fill="none" stroke="#0000ff" stroke-width="3.8" stroke-linecap="round" stroke-linejoin="round"/>
<g stroke="#000" fill="none" stroke-linecap="butt">
<path d="M163.7,110.5H1459.0V902.5H163.7Z" stroke-width="2.3"/>
<path d="M163.7,902.5v12M179.9,902.5v6M196.1,902.5v6M212.3,902.5v6M228.5,902.5v6M244.7,902.5v6M260.8,902.5v6M277.0,902.5v6M293.2,902.5v6M309.4,902.5v6M325.6,902.5v12M341.8,902.5v6M358.0,902.5v6M374.2,902.5v6M390.4,902.5v6M406.6,902.5v6M422.8,902.5v6M439.0,902.5v6M455.1,902.5v6M471.3,902.5v6M487.5,902.5v12M503.7,902.5v6M519.9,902.5v6M536.1,902.5v6M552.3,902.5v6M568.5,902.5v6M584.7,902.5v6M600.9,902.5v6M617.1,902.5v6M633.2,902.5v6M649.4,902.5v12M665.6,902.5v6M681.8,902.5v6M698.0,902.5v6M714.2,902.5v6M730.4,902.5v6M746.6,902.5v6M762.8,902.5v6M779.0,902.5v6M795.2,902.5v6M811.3,902.5v12M827.5,902.5v6M843.7,902.5v6M859.9,902.5v6M876.1,902.5v6M892.3,902.5v6M908.5,902.5v6M924.7,902.5v6M940.9,902.5v6M957.1,902.5v6M973.3,902.5v12M989.5,902.5v6M1005.6,902.5v6M1021.8,902.5v6M1038.0,902.5v6M1054.2,902.5v6M1070.4,902.5v6M1086.6,902.5v6M1102.8,902.5v6M1119.0,902.5v6M1135.2,902.5v12M1151.4,902.5v6M1167.6,902.5v6M1183.7,902.5v6M1199.9,902.5v6M1216.1,902.5v6M1232.3,902.5v6M1248.5,902.5v6M1264.7,902.5v6M1280.9,902.5v6M1297.1,902.5v12M1313.3,902.5v6M1329.5,902.5v6M1345.7,902.5v6M1361.9,902.5v6M1378.0,902.5v6M1394.2,902.5v6M1410.4,902.5v6M1426.6,902.5v6M1442.8,902.5v6M1459.0,902.5v12" stroke-width="1.4"/>
<path d="M163.7,110.5v-11M179.9,110.5v-5M196.1,110.5v-5M212.3,110.5v-5M228.5,110.5v-5M244.7,110.5v-5M260.8,110.5v-5M277.0,110.5v-5M293.2,110.5v-5M309.4,110.5v-5M325.6,110.5v-11M341.8,110.5v-5M358.0,110.5v-5M374.2,110.5v-5M390.4,110.5v-5M406.6,110.5v-5M422.8,110.5v-5M439.0,110.5v-5M455.1,110.5v-5M471.3,110.5v-5M487.5,110.5v-11M503.7,110.5v-5M519.9,110.5v-5M536.1,110.5v-5M552.3,110.5v-5M568.5,110.5v-5M584.7,110.5v-5M600.9,110.5v-5M617.1,110.5v-5M633.2,110.5v-5M649.4,110.5v-11M665.6,110.5v-5M681.8,110.5v-5M698.0,110.5v-5M714.2,110.5v-5M730.4,110.5v-5M746.6,110.5v-5M762.8,110.5v-5M779.0,110.5v-5M795.2,110.5v-5M811.3,110.5v-11M827.5,110.5v-5M843.7,110.5v-5M859.9,110.5v-5M876.1,110.5v-5M892.3,110.5v-5M908.5,110.5v-5M924.7,110.5v-5M940.9,110.5v-5M957.1,110.5v-5M973.3,110.5v-11M989.5,110.5v-5M1005.6,110.5v-5M1021.8,110.5v-5M1038.0,110.5v-5M1054.2,110.5v-5M1070.4,110.5v-5M1086.6,110.5v-5M1102.8,110.5v-5M1119.0,110.5v-5M1135.2,110.5v-11M1151.4,110.5v-5M1167.6,110.5v-5M1183.7,110.5v-5M1199.9,110.5v-5M1216.1,110.5v-5M1232.3,110.5v-5M1248.5,110.5v-5M1264.7,110.5v-5M1280.9,110.5v-5M1297.1,110.5v-11M1313.3,110.5v-5M1329.5,110.5v-5M1345.7,110.5v-5M1361.9,110.5v-5M1378.0,110.5v-5M1394.2,110.5v-5M1410.4,110.5v-5M1426.6,110.5v-5M1442.8,110.5v-5M1459.0,110.5v-11" stroke-width="1.2"/>
<path d="M163.7,902.5h-12M163.7,882.7h-6M163.7,862.9h-6M163.7,843.1h-6M163.7,823.3h-12M163.7,803.5h-6M163.7,783.7h-6M163.7,763.9h-6M163.7,744.1h-12M163.7,724.3h-6M163.7,704.5h-6M163.7,684.7h-6M163.7,664.9h-12M163.7,645.1h-6M163.7,625.3h-6M163.7,605.5h-6M163.7,585.7h-12M163.7,565.9h-6M163.7,546.1h-6M163.7,526.3h-6M163.7,506.5h-12M163.7,486.7h-6M163.7,466.9h-6M163.7,447.1h-6M163.7,427.3h-12M163.7,407.5h-6M163.7,387.7h-6M163.7,367.9h-6M163.7,348.1h-12M163.7,328.3h-6M163.7,308.5h-6M163.7,288.7h-6M163.7,268.9h-12M163.7,249.1h-6M163.7,229.3h-6M163.7,209.5h-6M163.7,189.7h-12M163.7,169.9h-6M163.7,150.1h-6M163.7,130.3h-6M163.7,110.5h-12" stroke-width="1.4"/>
<path d="M1459.0,500.2h6M1459.0,494.1h6M1459.0,488.1h6M1459.0,482.0h6M1459.0,475.9h6M1459.0,469.8h6M1459.0,463.7h6M1459.0,457.7h6M1459.0,451.6h6M1459.0,445.5h12M1459.0,439.4h6M1459.0,433.3h6M1459.0,427.3h6M1459.0,421.2h6M1459.0,415.1h6M1459.0,409.0h6M1459.0,402.9h6M1459.0,396.9h6M1459.0,390.8h6M1459.0,384.7h12M1459.0,378.6h6M1459.0,372.5h6M1459.0,366.5h6M1459.0,360.4h6M1459.0,354.3h6M1459.0,348.2h6M1459.0,342.1h6M1459.0,336.1h6M1459.0,330.0h6M1459.0,323.9h12M1459.0,317.8h6M1459.0,311.7h6M1459.0,305.7h6M1459.0,299.6h6M1459.0,293.5h6M1459.0,287.4h6M1459.0,281.3h6M1459.0,275.3h6M1459.0,269.2h6M1459.0,263.1h12M1459.0,257.0h6M1459.0,250.9h6M1459.0,244.9h6M1459.0,238.8h6M1459.0,232.7h6M1459.0,226.6h6M1459.0,220.5h6M1459.0,214.5h6M1459.0,208.4h6M1459.0,202.3h12M1459.0,196.2h6M1459.0,190.1h6M1459.0,184.1h6M1459.0,178.0h6M1459.0,171.9h6M1459.0,165.8h6M1459.0,159.7h6M1459.0,153.7h6M1459.0,147.6h6M1459.0,141.5h12M1459.0,135.4h6M1459.0,129.3h6M1459.0,123.3h6M1459.0,117.2h6M1459.0,111.1h6M1459.0,902.6h12M1459.0,889.4h6M1459.0,876.2h6M1459.0,863.0h6M1459.0,849.8h6M1459.0,836.6h12M1459.0,823.4h6M1459.0,810.2h6M1459.0,797.0h6M1459.0,783.8h6M1459.0,770.5h12M1459.0,757.3h6M1459.0,744.1h6M1459.0,730.9h6M1459.0,717.7h6M1459.0,704.5h12M1459.0,691.3h6M1459.0,678.1h6M1459.0,664.9h6M1459.0,651.7h6M1459.0,638.5h12M1459.0,625.2h6M1459.0,612.0h6M1459.0,598.8h6M1459.0,585.6h6M1459.0,572.4h12M1459.0,559.2h6M1459.0,546.0h6M1459.0,532.8h6M1459.0,519.6h6" stroke-width="1.4"/>
</g>
<g font-family="'Liberation Sans', sans-serif" font-size="28" fill="#000">
<text transform="translate(139.5,912.8) scale(1,1.085)" text-anchor="end">−200</text>
<text transform="translate(139.5,833.6) scale(1,1.085)" text-anchor="end">−160</text>
<text transform="translate(139.5,754.4) scale(1,1.085)" text-anchor="end">−120</text>
<text transform="translate(139.5,675.2) scale(1,1.085)" text-anchor="end">−80</text>
<text transform="translate(139.5,596.0) scale(1,1.085)" text-anchor="end">−40</text>
<text transform="translate(139.5,516.8) scale(1,1.085)" text-anchor="end">0</text>
<text transform="translate(139.5,437.6) scale(1,1.085)" text-anchor="end">40</text>
<text transform="translate(139.5,358.4) scale(1,1.085)" text-anchor="end">80</text>
<text transform="translate(139.5,279.2) scale(1,1.085)" text-anchor="end">120</text>
<text transform="translate(139.5,200.0) scale(1,1.085)" text-anchor="end">160</text>
<text transform="translate(139.5,120.8) scale(1,1.085)" text-anchor="end">200</text>
<text transform="translate(163.7,946.6) scale(1,1.085)" text-anchor="middle">−10</text>
<text transform="translate(325.6,946.6) scale(1,1.085)" text-anchor="middle">0</text>
<text transform="translate(487.5,946.6) scale(1,1.085)" text-anchor="middle">10</text>
<text transform="translate(649.4,946.6) scale(1,1.085)" text-anchor="middle">20</text>
<text transform="translate(811.3,946.6) scale(1,1.085)" text-anchor="middle">30</text>
<text transform="translate(973.3,946.6) scale(1,1.085)" text-anchor="middle">40</text>
<text transform="translate(1135.2,946.6) scale(1,1.085)" text-anchor="middle">50</text>
<text transform="translate(1297.1,946.6) scale(1,1.085)" text-anchor="middle">60</text>
<text transform="translate(1459.0,946.6) scale(1,1.085)" text-anchor="middle">70</text>
<text transform="translate(1545.0,455.8) scale(1,1.085)" text-anchor="end">980</text>
<text transform="translate(1545.0,395.0) scale(1,1.085)" text-anchor="end">990</text>
<text transform="translate(1545.0,334.2) scale(1,1.085)" text-anchor="end">1000</text>
<text transform="translate(1545.0,273.4) scale(1,1.085)" text-anchor="end">1010</text>
<text transform="translate(1545.0,212.6) scale(1,1.085)" text-anchor="end">1020</text>
<text transform="translate(1545.0,151.8) scale(1,1.085)" text-anchor="end">1030</text>
<text transform="translate(1560.5,912.9) scale(1,1.085)" text-anchor="end">−1500</text>
<text transform="translate(1560.5,846.9) scale(1,1.085)" text-anchor="end">−1000</text>
<text transform="translate(1560.5,780.8) scale(1,1.085)" text-anchor="end">−500</text>
<text transform="translate(1560.5,714.8) scale(1,1.085)" text-anchor="end">0</text>
<text transform="translate(1560.5,648.8) scale(1,1.085)" text-anchor="end">500</text>
<text transform="translate(1560.5,582.7) scale(1,1.085)" text-anchor="end">1000</text>
</g>
<text x="811" y="999.5" font-family="'Liberation Sans', sans-serif" font-size="36" text-anchor="middle">Time [min] from 2014−02−01 00:01:00 UTC</text>
<text transform="translate(49.5,506.2) rotate(-90)" font-family="'Liberation Sans', sans-serif" font-size="36.3" text-anchor="middle">Obs’d Gravity, offset 20.0 [nm/s<tspan dy="-12.6" font-size="25.2">2</tspan><tspan dy="12.6">]</tspan></text>
<text transform="translate(1600,308.4) rotate(-90)" font-family="'Liberation Sans', sans-serif" font-size="36" text-anchor="middle">Pressure [hPa]</text>
<text transform="translate(1614.8,705) rotate(-90)" font-family="'Liberation Sans', sans-serif" font-size="36" text-anchor="middle">Tide [nm/s<tspan dy="-12.6" font-size="25.2">2</tspan><tspan dy="12.6">]</tspan></text>
<text x="559.8" y="81.6" font-family="'Liberation Sans', sans-serif" font-weight="bold" font-size="32.3">SCG_054 gravimeter Onsala Space Observatory, Sweden</text>
<text x="192.5" y="888.2" font-family="'Liberation Sans', sans-serif" font-weight="bold" font-size="28">The latest 1−hour, 1−second sampling</text>
<text x="1431.9" y="888.2" font-family="'Liberation Sans', sans-serif" font-weight="bold" font-size="28" text-anchor="end">End at 2014−02−01 01:00:59 UTC</text>
<g stroke="#bebebe" stroke-width="2" fill="none"><path d="M211.9,466.4V546.4M204.9,466.4h14M204.9,546.4h14"/></g>
<circle cx="211.9" cy="506.5" r="4" fill="#000"/>
<text transform="translate(243.8,506.9) rotate(-90)" font-family="'Liberation Sans', sans-serif" font-size="24.6" text-anchor="middle">Typical noise level</text>
<rect x="167" y="28.6" width="372.5" height="152.6" fill="#fff" stroke="#a0a0a0" stroke-width="1"/>
<path d="M204.2,39.4H260.1" stroke="#4040ff" stroke-width="1"/><circle cx="232.2" cy="39.4" r="4.3" fill="#0000ff"/>
<path d="M204.2,69.5H260.1" stroke="#40d0d0" stroke-width="1"/><circle cx="232.2" cy="69.5" r="4.3" fill="#00c8c8"/>
<path d="M204.2,100.2H260.1" stroke="#000" stroke-width="2.5"/>
<path d="M204.2,130.4H260.1" stroke="#bebebe" stroke-width="2.5"/>
<path d="M204.2,160.6H260.1" stroke="#ff4040" stroke-width="1"/><circle cx="232.2" cy="160.6" r="4.3" fill="#ff0000"/>
<g font-family="'Liberation Sans', sans-serif" font-size="24.4">
<text x="279.5" y="47.9">Pressure</text>
<text x="279.5" y="78.3">100 P, band−passed</text>
<text x="279.5" y="108.7">Residual</text>
<text x="279.5" y="139.1">... last 10 min.</text>
<text x="279.5" y="169.5">Theor.Tide</text>
</g>
</svg>
</body></html>
